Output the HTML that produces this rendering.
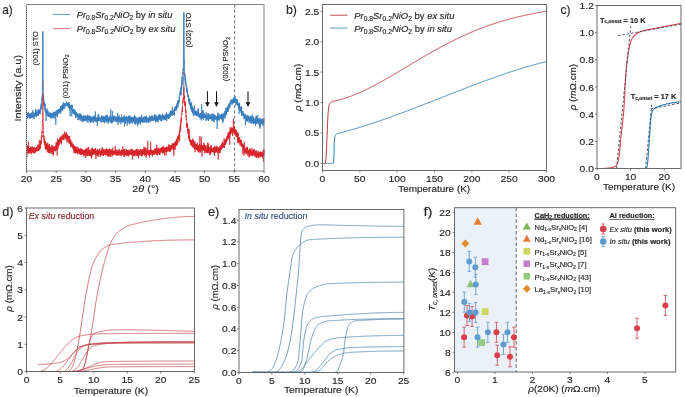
<!DOCTYPE html>
<html><head><meta charset="utf-8"><title>Figure</title>
<style>html,body{margin:0;padding:0;background:#fff;}body{width:685px;height:397px;overflow:hidden;}svg{display:block;filter:blur(0.3px);}
text{font-family:"Liberation Sans", sans-serif;stroke:#262626;stroke-width:0.15px;}</style></head>
<body>
<svg width="685" height="397" viewBox="0 0 685 397" font-family='"Liberation Sans", sans-serif' fill="#262626">
<rect width="685" height="397" fill="#fff"/>
<line x1="234.6" y1="4.5" x2="234.6" y2="171" stroke="#6e6e6e" stroke-width="1" stroke-dasharray="3 2.3"/>
<polyline points="26.5,116.1 26.6,116.6 26.6,115.6 26.7,114.5 26.8,115.3 26.9,114.4 26.9,116.1 27.0,118.3 27.1,114.3 27.2,118.4 27.2,116.9 27.3,116.6 27.4,116.2 27.5,114.4 27.5,116.0 27.6,117.2 27.7,113.7 27.8,115.2 27.8,112.8 27.9,113.8 28.0,112.9 28.1,115.6 28.1,113.8 28.2,116.4 28.3,116.2 28.4,115.7 28.4,111.7 28.5,115.0 28.6,115.9 28.7,116.1 28.7,113.3 28.8,115.1 28.9,114.3 28.9,114.6 29.0,117.7 29.1,114.6 29.2,115.9 29.2,117.4 29.3,114.9 29.4,115.7 29.5,116.1 29.5,116.0 29.6,113.8 29.7,116.0 29.8,118.2 29.8,113.2 29.9,117.3 30.0,116.1 30.1,114.8 30.1,119.2 30.2,117.1 30.3,113.8 30.4,116.0 30.4,116.8 30.5,115.5 30.6,117.0 30.7,115.7 30.7,116.9 30.8,118.2 30.9,114.6 31.0,116.1 31.0,115.0 31.1,116.0 31.2,113.7 31.3,114.8 31.3,115.4 31.4,117.2 31.5,117.7 31.5,113.5 31.6,114.3 31.7,116.8 31.8,112.3 31.8,114.9 31.9,115.5 32.0,117.8 32.1,116.8 32.1,115.1 32.2,115.0 32.3,115.2 32.4,118.2 32.4,114.9 32.5,115.1 32.6,116.2 32.7,115.3 32.7,115.2 32.8,110.1 32.9,115.5 33.0,114.7 33.0,117.5 33.1,116.6 33.2,115.4 33.3,116.6 33.3,114.9 33.4,117.2 33.5,115.4 33.6,116.4 33.6,113.2 33.7,115.9 33.8,112.5 33.8,111.9 33.9,114.8 34.0,113.8 34.1,115.6 34.1,119.1 34.2,113.8 34.3,114.2 34.4,115.5 34.4,116.0 34.5,114.9 34.6,114.8 34.7,116.3 34.7,116.0 34.8,113.3 34.9,114.9 35.0,115.1 35.0,113.2 35.1,115.4 35.2,113.5 35.3,116.6 35.3,115.2 35.4,115.0 35.5,112.1 35.6,108.7 35.6,111.4 35.7,112.8 35.8,115.3 35.9,111.1 35.9,116.1 36.0,111.7 36.1,115.9 36.2,115.1 36.2,115.9 36.3,114.7 36.4,111.8 36.4,116.5 36.5,116.8 36.6,114.2 36.7,113.8 36.7,114.0 36.8,112.6 36.9,116.0 37.0,113.2 37.0,114.0 37.1,109.6 37.2,112.9 37.3,111.8 37.3,116.0 37.4,113.6 37.5,115.4 37.6,113.7 37.6,112.5 37.7,113.0 37.8,112.6 37.9,113.5 37.9,112.7 38.0,112.8 38.1,110.9 38.2,110.7 38.2,115.9 38.3,111.9 38.4,111.2 38.5,113.4 38.5,115.2 38.6,110.2 38.7,112.2 38.7,111.4 38.8,109.4 38.9,113.6 39.0,112.2 39.0,112.2 39.1,110.7 39.2,112.7 39.3,110.9 39.3,111.4 39.4,109.6 39.5,109.3 39.6,113.5 39.6,110.3 39.7,111.5 39.8,111.1 39.9,109.9 39.9,109.7 40.0,111.4 40.1,109.7 40.2,114.4 40.2,109.9 40.3,111.7 40.4,110.6 40.5,109.9 40.5,108.1 40.6,106.4 40.7,110.2 40.8,109.9 40.8,107.8 40.9,108.7 41.0,108.8 41.1,108.5 41.1,108.3 41.2,103.7 41.3,108.6 41.3,103.4 41.4,106.5 41.5,105.4 41.6,105.4 41.6,106.5 41.7,105.1 41.8,99.8 41.9,97.9 41.9,101.1 42.0,96.6 42.1,96.8 42.2,96.4 42.2,89.8 42.3,86.0 42.4,86.2 42.5,80.5 42.5,72.7 42.6,63.0 42.7,48.4 42.8,34.5 42.8,31.5 42.9,36.9 43.0,49.0 43.1,65.4 43.1,74.1 43.2,82.0 43.3,84.7 43.4,89.0 43.4,91.3 43.5,93.7 43.6,99.2 43.6,97.3 43.7,100.5 43.8,101.5 43.9,105.3 43.9,100.3 44.0,104.9 44.1,103.9 44.2,104.6 44.2,102.7 44.3,104.9 44.4,107.4 44.5,106.4 44.5,107.0 44.6,106.7 44.7,109.5 44.8,107.8 44.8,104.4 44.9,107.2 45.0,105.3 45.1,103.4 45.1,108.2 45.2,111.6 45.3,109.7 45.4,107.8 45.4,108.4 45.5,112.1 45.6,110.6 45.7,110.6 45.7,110.6 45.8,110.9 45.9,112.3 46.0,112.1 46.0,121.1 46.1,109.6 46.2,112.4 46.2,110.5 46.3,113.1 46.4,109.8 46.5,111.8 46.5,112.1 46.6,113.2 46.7,115.3 46.8,114.9 46.8,111.8 46.9,114.0 47.0,113.4 47.1,108.4 47.1,113.4 47.2,112.9 47.3,113.2 47.4,111.3 47.4,112.8 47.5,113.0 47.6,115.4 47.7,114.0 47.7,113.5 47.8,116.2 47.9,112.7 48.0,113.1 48.0,110.7 48.1,116.5 48.2,115.5 48.3,115.5 48.3,115.1 48.4,114.2 48.5,114.5 48.5,113.7 48.6,113.9 48.7,114.3 48.8,116.9 48.8,115.3 48.9,114.3 49.0,113.4 49.1,113.4 49.1,117.2 49.2,115.4 49.3,114.7 49.4,114.0 49.4,112.7 49.5,114.5 49.6,116.2 49.7,114.0 49.7,114.3 49.8,114.4 49.9,115.0 50.0,112.1 50.0,114.4 50.1,113.4 50.2,116.4 50.3,113.6 50.3,115.9 50.4,117.5 50.5,114.4 50.6,113.9 50.6,115.3 50.7,115.0 50.8,113.3 50.9,115.8 50.9,118.5 51.0,114.6 51.1,114.7 51.1,113.3 51.2,115.6 51.3,113.0 51.4,113.2 51.4,117.3 51.5,113.5 51.6,116.9 51.7,117.7 51.7,115.5 51.8,116.0 51.9,118.4 52.0,114.8 52.0,114.1 52.1,112.8 52.2,115.2 52.3,117.6 52.3,116.7 52.4,113.5 52.5,113.6 52.6,114.2 52.6,115.6 52.7,114.7 52.8,115.4 52.9,115.5 52.9,114.5 53.0,114.9 53.1,115.4 53.2,114.8 53.2,115.8 53.3,118.1 53.4,116.0 53.4,115.0 53.5,112.0 53.6,115.6 53.7,111.6 53.7,112.5 53.8,116.3 53.9,116.0 54.0,114.5 54.0,111.9 54.1,114.1 54.2,113.6 54.3,115.8 54.3,118.5 54.4,115.0 54.5,113.3 54.6,112.6 54.6,114.5 54.7,114.2 54.8,112.5 54.9,114.7 54.9,112.5 55.0,116.3 55.1,116.2 55.2,116.2 55.2,113.5 55.3,115.1 55.4,114.0 55.5,113.5 55.5,113.5 55.6,111.9 55.7,111.6 55.8,124.8 55.8,113.6 55.9,114.3 56.0,115.6 56.0,110.9 56.1,112.4 56.2,114.0 56.3,114.3 56.3,113.0 56.4,115.3 56.5,113.9 56.6,111.4 56.6,111.8 56.7,114.7 56.8,114.1 56.9,110.0 56.9,115.5 57.0,114.2 57.1,115.4 57.2,112.4 57.2,112.5 57.3,111.0 57.4,117.1 57.5,112.5 57.5,115.4 57.6,111.5 57.7,112.9 57.8,109.7 57.8,111.8 57.9,114.1 58.0,110.2 58.1,114.1 58.1,112.7 58.2,110.3 58.3,111.2 58.3,111.2 58.4,111.8 58.5,110.9 58.6,110.3 58.6,111.2 58.7,109.9 58.8,109.3 58.9,111.4 58.9,112.9 59.0,108.7 59.1,111.2 59.2,110.0 59.2,109.4 59.3,112.4 59.4,110.0 59.5,113.4 59.5,109.4 59.6,111.3 59.7,110.2 59.8,109.2 59.8,111.4 59.9,110.1 60.0,111.3 60.1,110.1 60.1,108.3 60.2,109.8 60.3,110.0 60.4,111.5 60.4,108.2 60.5,109.6 60.6,106.3 60.7,110.6 60.7,107.6 60.8,106.3 60.9,113.7 60.9,111.1 61.0,106.5 61.1,107.2 61.2,107.7 61.2,106.9 61.3,109.4 61.4,107.3 61.5,107.4 61.5,109.5 61.6,107.2 61.7,109.1 61.8,106.6 61.8,106.2 61.9,105.0 62.0,111.2 62.1,107.4 62.1,108.3 62.2,107.8 62.3,108.0 62.4,107.8 62.4,110.8 62.5,105.7 62.6,104.8 62.7,105.6 62.7,105.0 62.8,108.5 62.9,108.5 63.0,105.4 63.0,104.6 63.1,106.2 63.2,109.2 63.2,102.0 63.3,107.6 63.4,104.8 63.5,108.4 63.5,104.7 63.6,106.0 63.7,103.9 63.8,104.7 63.8,108.7 63.9,107.7 64.0,105.5 64.1,104.7 64.1,102.9 64.2,105.4 64.3,105.9 64.4,105.8 64.4,105.7 64.5,103.9 64.6,105.7 64.7,105.7 64.7,107.9 64.8,108.8 64.9,105.4 65.0,104.3 65.0,105.4 65.1,104.5 65.2,104.2 65.3,105.4 65.3,103.7 65.4,104.3 65.5,105.2 65.6,105.8 65.6,105.0 65.7,104.1 65.8,103.7 65.8,104.9 65.9,104.3 66.0,105.6 66.1,105.2 66.1,102.9 66.2,105.3 66.3,102.9 66.4,104.1 66.4,104.7 66.5,101.6 66.6,105.3 66.7,105.4 66.7,104.9 66.8,104.5 66.9,104.6 67.0,103.5 67.0,104.7 67.1,104.3 67.2,105.4 67.3,103.2 67.3,105.7 67.4,105.5 67.5,105.1 67.6,104.6 67.6,106.3 67.7,102.5 67.8,106.2 67.9,105.8 67.9,105.9 68.0,106.1 68.1,104.4 68.1,105.1 68.2,106.7 68.3,106.4 68.4,106.0 68.4,103.1 68.5,106.7 68.6,107.8 68.7,107.6 68.7,106.3 68.8,103.3 68.9,107.6 69.0,105.8 69.0,101.8 69.1,106.8 69.2,103.7 69.3,104.1 69.3,105.2 69.4,108.6 69.5,105.8 69.6,107.0 69.6,109.6 69.7,109.4 69.8,106.5 69.9,106.4 69.9,104.7 70.0,105.7 70.1,116.3 70.2,107.7 70.2,109.1 70.3,108.9 70.4,106.0 70.5,107.3 70.5,108.7 70.6,108.5 70.7,109.4 70.7,108.4 70.8,107.3 70.9,108.5 71.0,106.2 71.0,105.2 71.1,109.1 71.2,108.1 71.3,108.8 71.3,105.5 71.4,107.8 71.5,107.5 71.6,107.2 71.6,104.9 71.7,116.3 71.8,110.4 71.9,105.2 71.9,108.1 72.0,109.2 72.1,110.6 72.2,104.7 72.2,109.3 72.3,110.5 72.4,110.8 72.5,112.6 72.5,111.8 72.6,110.5 72.7,110.6 72.8,111.5 72.8,109.3 72.9,111.8 73.0,112.0 73.0,113.8 73.1,110.3 73.2,110.6 73.3,111.1 73.3,113.2 73.4,110.9 73.5,113.6 73.6,109.5 73.6,111.0 73.7,111.0 73.8,112.8 73.9,113.3 73.9,109.1 74.0,110.2 74.1,112.4 74.2,110.8 74.2,109.4 74.3,113.9 74.4,113.1 74.5,113.2 74.5,111.6 74.6,114.4 74.7,114.0 74.8,114.5 74.8,111.2 74.9,111.4 75.0,113.3 75.1,110.0 75.1,114.3 75.2,113.6 75.3,111.7 75.4,113.5 75.4,112.9 75.5,115.1 75.6,117.7 75.6,113.0 75.7,115.9 75.8,117.7 75.9,117.4 75.9,114.1 76.0,114.5 76.1,116.8 76.2,114.1 76.2,112.7 76.3,114.6 76.4,115.3 76.5,114.0 76.5,111.9 76.6,112.3 76.7,115.9 76.8,113.6 76.8,114.7 76.9,115.4 77.0,116.1 77.1,114.6 77.1,116.1 77.2,113.8 77.3,114.7 77.4,113.7 77.4,117.4 77.5,115.5 77.6,114.4 77.7,115.1 77.7,115.4 77.8,117.0 77.9,113.2 77.9,114.2 78.0,115.3 78.1,120.3 78.2,117.7 78.2,116.0 78.3,117.4 78.4,119.8 78.5,115.9 78.5,115.7 78.6,118.5 78.7,117.3 78.8,117.7 78.8,115.7 78.9,119.9 79.0,119.6 79.1,117.7 79.1,117.9 79.2,113.4 79.3,117.9 79.4,116.6 79.4,117.7 79.5,118.1 79.6,116.5 79.7,114.2 79.7,117.7 79.8,115.9 79.9,116.6 80.0,116.2 80.0,116.7 80.1,113.4 80.2,119.4 80.3,117.8 80.3,119.3 80.4,120.8 80.5,117.5 80.5,114.5 80.6,116.0 80.7,115.5 80.8,116.8 80.8,117.8 80.9,114.3 81.0,118.3 81.1,115.2 81.1,118.3 81.2,117.6 81.3,117.3 81.4,117.7 81.4,117.0 81.5,116.9 81.6,115.1 81.7,117.9 81.7,121.1 81.8,121.4 81.9,120.3 82.0,119.2 82.0,116.9 82.1,120.5 82.2,118.0 82.3,118.0 82.3,117.7 82.4,118.3 82.5,117.5 82.6,118.1 82.6,116.4 82.7,117.6 82.8,122.1 82.8,118.2 82.9,117.9 83.0,119.2 83.1,119.5 83.1,116.5 83.2,118.0 83.3,119.9 83.4,118.9 83.4,118.6 83.5,121.1 83.6,117.3 83.7,118.6 83.7,116.4 83.8,121.0 83.9,115.2 84.0,117.4 84.0,117.6 84.1,119.7 84.2,119.6 84.3,120.9 84.3,115.9 84.4,119.8 84.5,118.1 84.6,117.5 84.6,119.5 84.7,117.0 84.8,119.1 84.9,118.0 84.9,117.7 85.0,117.5 85.1,119.3 85.2,119.2 85.2,121.4 85.3,118.3 85.4,116.1 85.4,117.4 85.5,117.1 85.6,116.6 85.7,119.5 85.7,117.6 85.8,115.4 85.9,119.9 86.0,117.8 86.0,119.4 86.1,118.9 86.2,119.8 86.3,118.8 86.3,120.9 86.4,119.5 86.5,119.5 86.6,119.5 86.6,116.3 86.7,118.5 86.8,118.4 86.9,119.8 86.9,116.5 87.0,121.6 87.1,119.0 87.2,116.8 87.2,115.9 87.3,118.4 87.4,118.7 87.5,117.6 87.5,119.0 87.6,114.6 87.7,119.8 87.7,117.6 87.8,118.8 87.9,120.5 88.0,123.2 88.0,115.9 88.1,118.1 88.2,117.5 88.3,120.2 88.3,119.0 88.4,118.1 88.5,118.8 88.6,117.2 88.6,117.3 88.7,118.1 88.8,115.3 88.9,116.4 88.9,118.2 89.0,116.8 89.1,118.6 89.2,115.9 89.2,118.1 89.3,120.3 89.4,119.9 89.5,118.8 89.5,117.4 89.6,120.0 89.7,117.9 89.8,116.9 89.8,117.6 89.9,121.4 90.0,119.3 90.1,120.9 90.1,118.1 90.2,120.5 90.3,117.9 90.3,116.6 90.4,123.2 90.5,120.3 90.6,118.1 90.6,118.8 90.7,119.5 90.8,121.0 90.9,118.1 90.9,116.0 91.0,118.5 91.1,119.0 91.2,119.2 91.2,121.2 91.3,119.5 91.4,120.4 91.5,117.1 91.5,120.5 91.6,122.5 91.7,120.3 91.8,119.4 91.8,119.2 91.9,122.0 92.0,117.4 92.1,118.8 92.1,119.8 92.2,120.3 92.3,118.1 92.4,119.5 92.4,118.5 92.5,119.2 92.6,118.8 92.6,117.1 92.7,119.0 92.8,120.5 92.9,117.4 92.9,118.6 93.0,120.1 93.1,115.7 93.2,119.3 93.2,117.2 93.3,120.9 93.4,123.0 93.5,122.5 93.5,118.7 93.6,120.3 93.7,119.2 93.8,119.2 93.8,121.7 93.9,116.8 94.0,120.8 94.1,118.9 94.1,121.4 94.2,119.4 94.3,117.9 94.4,119.5 94.4,117.3 94.5,119.1 94.6,119.9 94.7,118.2 94.7,115.4 94.8,120.6 94.9,120.2 95.0,119.3 95.0,119.2 95.1,120.8 95.2,118.3 95.2,117.9 95.3,118.7 95.4,111.4 95.5,116.7 95.5,121.1 95.6,118.0 95.7,117.2 95.8,121.2 95.8,118.9 95.9,116.9 96.0,118.5 96.1,120.6 96.1,122.2 96.2,118.3 96.3,119.8 96.4,120.3 96.4,118.0 96.5,119.7 96.6,119.0 96.7,118.2 96.7,118.2 96.8,119.2 96.9,119.1 97.0,118.1 97.0,118.4 97.1,121.0 97.2,119.7 97.3,120.6 97.3,126.1 97.4,120.1 97.5,122.9 97.5,117.7 97.6,120.5 97.7,118.6 97.8,122.2 97.8,122.0 97.9,114.5 98.0,117.4 98.1,120.2 98.1,120.4 98.2,120.4 98.3,119.0 98.4,119.9 98.4,120.2 98.5,119.0 98.6,120.9 98.7,114.2 98.7,120.2 98.8,117.3 98.9,120.7 99.0,118.7 99.0,117.6 99.1,119.7 99.2,117.0 99.3,117.6 99.3,116.5 99.4,119.1 99.5,120.0 99.6,120.9 99.6,118.9 99.7,120.9 99.8,119.2 99.9,119.0 99.9,120.1 100.0,120.9 100.1,118.5 100.1,118.7 100.2,118.9 100.3,119.3 100.4,117.6 100.4,120.9 100.5,118.4 100.6,119.9 100.7,117.7 100.7,119.7 100.8,119.8 100.9,118.4 101.0,122.6 101.0,119.8 101.1,122.2 101.2,120.8 101.3,118.0 101.3,118.5 101.4,119.9 101.5,119.2 101.6,119.2 101.6,118.7 101.7,116.1 101.8,118.8 101.9,115.4 101.9,119.8 102.0,117.9 102.1,117.9 102.2,118.8 102.2,119.6 102.3,116.7 102.4,116.2 102.4,117.3 102.5,117.0 102.6,117.5 102.7,121.9 102.7,117.4 102.8,120.3 102.9,116.8 103.0,119.7 103.0,118.6 103.1,119.1 103.2,120.1 103.3,122.2 103.3,119.5 103.4,119.4 103.5,117.5 103.6,120.2 103.6,118.8 103.7,120.6 103.8,119.1 103.9,122.1 103.9,115.8 104.0,118.7 104.1,120.7 104.2,118.6 104.2,117.8 104.3,118.7 104.4,116.8 104.5,119.4 104.5,123.3 104.6,121.1 104.7,117.3 104.8,117.7 104.8,118.5 104.9,120.9 105.0,117.8 105.0,118.0 105.1,120.7 105.2,120.7 105.3,118.6 105.3,117.3 105.4,116.6 105.5,118.0 105.6,115.4 105.6,120.5 105.7,118.1 105.8,120.0 105.9,122.4 105.9,121.2 106.0,117.2 106.1,120.7 106.2,121.2 106.2,117.9 106.3,117.6 106.4,119.0 106.5,116.5 106.5,121.7 106.6,115.1 106.7,117.3 106.8,118.7 106.8,118.8 106.9,119.5 107.0,119.7 107.1,118.8 107.1,121.1 107.2,115.4 107.3,119.2 107.3,118.0 107.4,119.4 107.5,119.6 107.6,114.8 107.6,118.1 107.7,120.6 107.8,119.8 107.9,118.1 107.9,122.7 108.0,123.1 108.1,116.7 108.2,119.7 108.2,123.5 108.3,120.6 108.4,119.6 108.5,118.9 108.5,118.3 108.6,118.9 108.7,118.3 108.8,120.5 108.8,118.6 108.9,118.5 109.0,117.2 109.1,119.1 109.1,117.7 109.2,118.9 109.3,121.0 109.4,119.9 109.4,120.1 109.5,119.8 109.6,119.3 109.7,119.0 109.7,118.7 109.8,120.5 109.9,117.4 109.9,121.5 110.0,115.9 110.1,118.0 110.2,118.4 110.2,118.1 110.3,119.5 110.4,118.0 110.5,122.5 110.5,117.9 110.6,115.4 110.7,118.0 110.8,109.4 110.8,121.5 110.9,121.1 111.0,120.4 111.1,117.0 111.1,118.0 111.2,122.3 111.3,119.8 111.4,119.3 111.4,121.1 111.5,123.4 111.6,121.5 111.7,119.5 111.7,119.9 111.8,120.3 111.9,118.2 112.0,117.5 112.0,119.4 112.1,116.5 112.2,119.2 112.2,119.4 112.3,123.2 112.4,110.9 112.5,119.1 112.5,120.3 112.6,120.0 112.7,121.1 112.8,118.4 112.8,117.9 112.9,116.5 113.0,117.7 113.1,120.2 113.1,119.4 113.2,117.6 113.3,118.6 113.4,119.3 113.4,120.1 113.5,118.3 113.6,118.9 113.7,116.2 113.7,117.3 113.8,122.0 113.9,115.6 114.0,118.7 114.0,119.7 114.1,118.7 114.2,117.9 114.3,119.2 114.3,119.3 114.4,119.2 114.5,116.1 114.6,119.0 114.6,117.8 114.7,118.4 114.8,119.7 114.8,120.4 114.9,120.8 115.0,118.5 115.1,120.9 115.1,121.3 115.2,121.2 115.3,121.7 115.4,119.1 115.4,119.0 115.5,120.7 115.6,117.0 115.7,119.7 115.7,118.4 115.8,117.4 115.9,116.4 116.0,117.8 116.0,119.3 116.1,120.8 116.2,121.0 116.3,119.2 116.3,119.0 116.4,117.9 116.5,120.0 116.6,118.9 116.6,120.4 116.7,122.3 116.8,119.3 116.9,116.8 116.9,117.9 117.0,116.8 117.1,119.2 117.1,121.5 117.2,119.7 117.3,116.7 117.4,120.4 117.4,121.5 117.5,118.7 117.6,118.2 117.7,113.0 117.7,119.8 117.8,120.4 117.9,125.1 118.0,121.4 118.0,121.4 118.1,121.7 118.2,120.5 118.3,116.7 118.3,119.1 118.4,119.9 118.5,118.7 118.6,120.9 118.6,118.7 118.7,117.8 118.8,121.8 118.9,120.5 118.9,119.7 119.0,120.9 119.1,121.2 119.2,119.9 119.2,115.2 119.3,118.2 119.4,118.6 119.5,117.7 119.5,119.7 119.6,121.4 119.7,118.5 119.7,117.4 119.8,122.8 119.9,118.6 120.0,117.3 120.0,119.8 120.1,120.1 120.2,118.2 120.3,120.7 120.3,118.5 120.4,117.8 120.5,119.7 120.6,120.7 120.6,118.3 120.7,119.9 120.8,119.2 120.9,124.2 120.9,118.2 121.0,121.7 121.1,119.3 121.2,119.2 121.2,120.6 121.3,120.9 121.4,121.5 121.5,120.0 121.5,114.4 121.6,118.5 121.7,120.3 121.8,120.4 121.8,121.8 121.9,120.1 122.0,121.2 122.0,122.0 122.1,119.7 122.2,116.9 122.3,117.4 122.3,117.0 122.4,122.1 122.5,118.0 122.6,121.5 122.6,120.4 122.7,122.3 122.8,121.1 122.9,119.2 122.9,119.1 123.0,119.6 123.1,119.7 123.2,118.5 123.2,119.4 123.3,122.2 123.4,116.5 123.5,119.9 123.5,117.9 123.6,119.7 123.7,120.9 123.8,119.3 123.8,120.7 123.9,116.7 124.0,121.3 124.1,118.4 124.1,120.5 124.2,119.7 124.3,115.0 124.4,118.2 124.4,117.3 124.5,126.5 124.6,119.9 124.6,119.9 124.7,117.0 124.8,121.9 124.9,122.5 124.9,119.5 125.0,119.1 125.1,116.7 125.2,121.0 125.2,124.0 125.3,120.7 125.4,121.6 125.5,120.4 125.5,117.8 125.6,121.7 125.7,117.4 125.8,119.1 125.8,119.9 125.9,121.0 126.0,120.2 126.1,120.1 126.1,118.2 126.2,117.3 126.3,119.6 126.4,118.3 126.4,117.2 126.5,117.3 126.6,118.6 126.7,116.3 126.7,117.2 126.8,116.7 126.9,119.8 126.9,120.2 127.0,122.9 127.1,116.9 127.2,118.3 127.2,125.5 127.3,119.1 127.4,118.9 127.5,122.4 127.5,118.9 127.6,117.5 127.7,117.2 127.8,120.1 127.8,120.0 127.9,117.2 128.0,117.8 128.1,120.4 128.1,120.5 128.2,118.4 128.3,120.6 128.4,120.5 128.4,116.5 128.5,119.0 128.6,120.2 128.7,118.5 128.7,115.9 128.8,119.0 128.9,119.2 129.0,122.2 129.0,115.8 129.1,123.9 129.2,117.6 129.3,121.1 129.3,121.6 129.4,121.2 129.5,119.8 129.5,117.5 129.6,120.6 129.7,118.3 129.8,115.2 129.8,124.3 129.9,120.7 130.0,122.6 130.1,118.0 130.1,122.0 130.2,122.2 130.3,122.2 130.4,119.5 130.4,117.5 130.5,119.2 130.6,119.3 130.7,116.6 130.7,119.7 130.8,117.8 130.9,119.2 131.0,119.3 131.0,122.8 131.1,121.7 131.2,119.5 131.3,121.6 131.3,118.2 131.4,119.0 131.5,121.1 131.6,117.4 131.6,119.1 131.7,117.3 131.8,119.7 131.8,122.3 131.9,118.3 132.0,119.9 132.1,118.0 132.1,117.6 132.2,117.4 132.3,122.0 132.4,123.6 132.4,120.4 132.5,118.3 132.6,120.7 132.7,119.0 132.7,120.9 132.8,120.0 132.9,120.0 133.0,120.6 133.0,118.6 133.1,118.9 133.2,116.6 133.3,118.8 133.3,117.1 133.4,119.3 133.5,117.9 133.6,119.7 133.6,120.3 133.7,117.1 133.8,118.2 133.9,117.9 133.9,120.8 134.0,122.5 134.1,121.0 134.2,119.0 134.2,122.0 134.3,117.0 134.4,122.1 134.4,118.4 134.5,114.8 134.6,124.1 134.7,122.2 134.7,117.8 134.8,119.8 134.9,119.2 135.0,119.7 135.0,118.0 135.1,118.4 135.2,120.2 135.3,119.9 135.3,121.6 135.4,119.7 135.5,123.6 135.6,118.3 135.6,124.5 135.7,116.3 135.8,117.4 135.9,121.8 135.9,118.0 136.0,120.5 136.1,119.5 136.2,117.8 136.2,119.0 136.3,118.7 136.4,118.7 136.5,120.8 136.5,120.7 136.6,118.6 136.7,118.0 136.7,120.0 136.8,119.4 136.9,121.3 137.0,124.1 137.0,121.0 137.1,119.5 137.2,119.3 137.3,118.1 137.3,118.0 137.4,117.9 137.5,118.9 137.6,118.8 137.6,126.3 137.7,118.9 137.8,119.2 137.9,117.5 137.9,122.4 138.0,120.4 138.1,122.6 138.2,120.9 138.2,122.1 138.3,119.1 138.4,120.8 138.5,124.2 138.5,117.5 138.6,121.6 138.7,122.4 138.8,120.3 138.8,120.9 138.9,121.7 139.0,118.4 139.1,120.3 139.1,118.0 139.2,118.4 139.3,118.5 139.3,119.3 139.4,119.8 139.5,120.3 139.6,117.1 139.6,123.0 139.7,121.6 139.8,120.8 139.9,118.9 139.9,119.4 140.0,120.5 140.1,120.3 140.2,116.6 140.2,120.8 140.3,124.6 140.4,122.7 140.5,121.3 140.5,120.2 140.6,119.3 140.7,121.9 140.8,117.5 140.8,119.8 140.9,122.1 141.0,119.2 141.1,118.8 141.1,119.7 141.2,118.8 141.3,122.2 141.4,118.0 141.4,121.1 141.5,117.3 141.6,120.7 141.6,119.3 141.7,115.0 141.8,119.5 141.9,117.7 141.9,118.8 142.0,122.2 142.1,117.6 142.2,117.7 142.2,122.0 142.3,119.7 142.4,122.2 142.5,120.1 142.5,118.0 142.6,119.4 142.7,121.7 142.8,121.2 142.8,119.5 142.9,119.6 143.0,119.3 143.1,118.5 143.1,122.9 143.2,119.5 143.3,117.5 143.4,118.7 143.4,120.8 143.5,120.6 143.6,119.3 143.7,118.3 143.7,119.5 143.8,116.6 143.9,117.2 144.0,120.9 144.0,118.7 144.1,120.1 144.2,121.6 144.2,120.6 144.3,119.5 144.4,122.8 144.5,120.6 144.5,118.9 144.6,120.8 144.7,120.2 144.8,118.0 144.8,119.6 144.9,119.2 145.0,116.0 145.1,119.2 145.1,119.0 145.2,118.7 145.3,116.6 145.4,118.8 145.4,119.4 145.5,119.6 145.6,117.5 145.7,120.6 145.7,117.3 145.8,122.0 145.9,121.7 146.0,118.2 146.0,118.5 146.1,121.3 146.2,123.2 146.3,118.9 146.3,119.8 146.4,121.3 146.5,115.6 146.5,118.0 146.6,117.6 146.7,117.5 146.8,117.9 146.8,117.9 146.9,119.9 147.0,117.8 147.1,119.6 147.1,120.1 147.2,118.1 147.3,119.6 147.4,122.2 147.4,119.9 147.5,118.3 147.6,119.2 147.7,117.8 147.7,119.8 147.8,120.8 147.9,117.9 148.0,119.0 148.0,121.3 148.1,118.5 148.2,119.6 148.3,117.5 148.3,117.9 148.4,118.4 148.5,123.0 148.6,118.6 148.6,120.3 148.7,118.3 148.8,119.0 148.9,120.4 148.9,119.6 149.0,122.8 149.1,119.6 149.1,121.7 149.2,119.7 149.3,120.3 149.4,116.8 149.4,119.0 149.5,119.1 149.6,118.8 149.7,115.5 149.7,120.7 149.8,118.5 149.9,118.4 150.0,118.7 150.0,118.8 150.1,119.9 150.2,117.0 150.3,117.6 150.3,119.6 150.4,119.4 150.5,118.5 150.6,118.1 150.6,117.7 150.7,119.0 150.8,121.1 150.9,117.3 150.9,121.7 151.0,120.5 151.1,118.3 151.2,120.4 151.2,116.6 151.3,116.1 151.4,116.8 151.4,118.3 151.5,118.5 151.6,118.1 151.7,119.2 151.7,115.4 151.8,119.8 151.9,116.6 152.0,117.8 152.0,118.3 152.1,117.0 152.2,117.8 152.3,117.2 152.3,118.9 152.4,119.9 152.5,119.9 152.6,117.2 152.6,117.5 152.7,117.3 152.8,119.6 152.9,115.4 152.9,121.0 153.0,118.0 153.1,117.5 153.2,119.4 153.2,120.6 153.3,119.4 153.4,120.6 153.5,119.0 153.5,120.9 153.6,120.9 153.7,118.6 153.8,121.2 153.8,119.0 153.9,118.9 154.0,117.2 154.0,118.2 154.1,120.0 154.2,116.5 154.3,119.8 154.3,119.3 154.4,119.1 154.5,114.0 154.6,117.2 154.6,119.7 154.7,117.3 154.8,118.8 154.9,114.6 154.9,119.7 155.0,117.4 155.1,120.0 155.2,115.4 155.2,119.7 155.3,118.1 155.4,119.9 155.5,116.9 155.5,117.4 155.6,122.3 155.7,117.1 155.8,117.3 155.8,118.0 155.9,116.7 156.0,120.5 156.1,121.4 156.1,117.2 156.2,115.5 156.3,120.4 156.3,120.3 156.4,119.8 156.5,120.3 156.6,116.9 156.6,118.0 156.7,116.0 156.8,115.9 156.9,120.0 156.9,117.1 157.0,122.1 157.1,118.4 157.2,117.2 157.2,119.6 157.3,121.3 157.4,119.0 157.5,116.1 157.5,118.8 157.6,120.5 157.7,117.3 157.8,116.8 157.8,119.9 157.9,118.4 158.0,116.2 158.1,117.4 158.1,116.8 158.2,122.3 158.3,118.2 158.4,120.0 158.4,119.2 158.5,115.3 158.6,118.7 158.7,119.5 158.7,118.7 158.8,119.7 158.9,117.0 158.9,116.3 159.0,119.5 159.1,116.1 159.2,114.2 159.2,119.6 159.3,116.6 159.4,117.3 159.5,115.5 159.5,115.6 159.6,115.8 159.7,117.2 159.8,118.4 159.8,113.9 159.9,119.0 160.0,115.7 160.1,115.9 160.1,118.9 160.2,117.6 160.3,115.1 160.4,120.8 160.4,116.2 160.5,118.0 160.6,117.9 160.7,120.0 160.7,116.8 160.8,119.3 160.9,116.3 161.0,119.4 161.0,116.2 161.1,116.9 161.2,120.7 161.2,118.0 161.3,117.6 161.4,121.3 161.5,118.0 161.5,116.0 161.6,118.6 161.7,115.4 161.8,119.3 161.8,119.4 161.9,117.0 162.0,116.2 162.1,117.6 162.1,117.3 162.2,115.6 162.3,118.2 162.4,113.8 162.4,116.5 162.5,116.5 162.6,116.7 162.7,117.7 162.7,115.1 162.8,118.1 162.9,116.8 163.0,120.6 163.0,114.7 163.1,115.0 163.2,117.6 163.3,115.4 163.3,117.1 163.4,118.8 163.5,118.7 163.6,119.6 163.6,116.4 163.7,115.1 163.8,118.6 163.8,117.4 163.9,118.8 164.0,118.3 164.1,118.8 164.1,118.2 164.2,118.0 164.3,117.6 164.4,117.4 164.4,119.1 164.5,117.1 164.6,118.4 164.7,115.8 164.7,119.6 164.8,116.4 164.9,117.8 165.0,116.4 165.0,116.1 165.1,120.0 165.2,116.0 165.3,114.3 165.3,115.3 165.4,115.9 165.5,120.1 165.6,116.8 165.6,118.0 165.7,114.7 165.8,116.9 165.9,117.5 165.9,119.4 166.0,115.1 166.1,117.3 166.1,116.7 166.2,114.5 166.3,119.5 166.4,115.7 166.4,112.2 166.5,117.1 166.6,117.0 166.7,115.3 166.7,113.8 166.8,121.0 166.9,116.4 167.0,117.7 167.0,118.3 167.1,115.0 167.2,117.6 167.3,115.4 167.3,115.7 167.4,115.7 167.5,115.8 167.6,117.6 167.6,115.9 167.7,115.4 167.8,115.2 167.9,116.2 167.9,114.1 168.0,114.7 168.1,115.5 168.2,115.5 168.2,115.3 168.3,114.4 168.4,118.8 168.5,117.7 168.5,116.1 168.6,115.2 168.7,119.0 168.7,115.8 168.8,118.1 168.9,115.7 169.0,115.7 169.0,117.5 169.1,115.1 169.2,118.6 169.3,113.5 169.3,116.2 169.4,113.3 169.5,118.0 169.6,114.3 169.6,114.8 169.7,116.4 169.8,116.9 169.9,112.9 169.9,114.1 170.0,112.3 170.1,114.9 170.2,114.4 170.2,114.0 170.3,113.4 170.4,113.8 170.5,113.2 170.5,110.6 170.6,116.9 170.7,111.0 170.8,114.1 170.8,113.5 170.9,115.0 171.0,112.5 171.0,113.8 171.1,112.3 171.2,115.2 171.3,114.1 171.3,113.6 171.4,114.5 171.5,111.2 171.6,111.1 171.6,114.7 171.7,114.1 171.8,113.3 171.9,115.2 171.9,115.1 172.0,111.5 172.1,112.0 172.2,115.9 172.2,111.8 172.3,106.6 172.4,111.1 172.5,111.9 172.5,112.1 172.6,110.2 172.7,112.9 172.8,110.6 172.8,110.6 172.9,114.2 173.0,111.4 173.1,112.4 173.1,113.5 173.2,113.7 173.3,111.7 173.4,112.3 173.4,110.7 173.5,115.0 173.6,113.1 173.6,110.0 173.7,111.8 173.8,112.9 173.9,112.5 173.9,114.7 174.0,113.8 174.1,110.5 174.2,111.1 174.2,109.0 174.3,111.5 174.4,111.3 174.5,115.5 174.5,111.0 174.6,107.1 174.7,109.5 174.8,110.7 174.8,108.3 174.9,108.8 175.0,109.5 175.1,110.6 175.1,109.7 175.2,110.8 175.3,111.0 175.4,108.7 175.4,108.6 175.5,107.0 175.6,107.9 175.7,110.2 175.7,106.2 175.8,108.7 175.9,109.9 175.9,107.9 176.0,108.8 176.1,106.3 176.2,110.3 176.2,109.8 176.3,108.2 176.4,104.6 176.5,105.7 176.5,109.0 176.6,110.1 176.7,107.5 176.8,108.9 176.8,105.6 176.9,106.1 177.0,106.3 177.1,106.8 177.1,103.3 177.2,107.3 177.3,107.7 177.4,103.3 177.4,102.8 177.5,105.5 177.6,103.5 177.7,100.4 177.7,105.6 177.8,104.2 177.9,102.9 178.0,107.1 178.0,103.5 178.1,101.7 178.2,102.9 178.3,100.7 178.3,101.0 178.4,102.6 178.5,100.8 178.5,100.7 178.6,104.0 178.7,102.3 178.8,101.9 178.8,101.2 178.9,100.8 179.0,102.1 179.1,99.3 179.1,102.2 179.2,97.1 179.3,97.9 179.4,95.7 179.4,97.1 179.5,98.2 179.6,99.4 179.7,95.5 179.7,96.2 179.8,95.2 179.9,94.2 180.0,93.1 180.0,94.8 180.1,91.3 180.2,94.1 180.3,93.5 180.3,91.9 180.4,90.9 180.5,89.8 180.6,94.9 180.6,89.0 180.7,93.5 180.8,91.5 180.8,89.4 180.9,87.5 181.0,90.8 181.1,95.4 181.1,86.5 181.2,87.1 181.3,88.9 181.4,87.2 181.4,89.6 181.5,84.7 181.6,86.1 181.7,82.5 181.7,87.7 181.8,82.4 181.9,79.4 182.0,76.5 182.0,81.8 182.1,84.8 182.2,80.4 182.3,80.4 182.3,80.8 182.4,81.9 182.5,78.5 182.6,79.7 182.6,78.1 182.7,75.9 182.8,75.7 182.9,74.7 182.9,72.0 183.0,74.4 183.1,68.4 183.2,71.0 183.2,68.3 183.3,63.6 183.4,58.7 183.4,54.7 183.5,49.2 183.6,35.4 183.7,30.2 183.7,21.3 183.8,12.6 183.9,15.2 184.0,20.0 184.0,34.4 184.1,43.1 184.2,50.1 184.3,58.8 184.3,62.5 184.4,60.0 184.5,67.5 184.6,67.1 184.6,73.1 184.7,76.9 184.8,73.0 184.9,75.0 184.9,75.4 185.0,77.2 185.1,78.5 185.2,79.7 185.2,77.1 185.3,82.0 185.4,78.4 185.5,81.0 185.5,83.1 185.6,82.9 185.7,80.6 185.7,81.5 185.8,82.4 185.9,83.6 186.0,86.2 186.0,82.6 186.1,86.0 186.2,86.8 186.3,87.2 186.3,87.5 186.4,89.8 186.5,88.5 186.6,89.6 186.6,89.6 186.7,92.1 186.8,86.3 186.9,92.2 186.9,90.0 187.0,90.4 187.1,89.7 187.2,88.6 187.2,91.6 187.3,91.5 187.4,93.9 187.5,91.0 187.5,96.3 187.6,94.7 187.7,94.3 187.8,94.5 187.8,94.1 187.9,93.9 188.0,95.3 188.1,96.6 188.1,96.6 188.2,94.9 188.3,97.2 188.3,96.4 188.4,98.6 188.5,101.8 188.6,100.0 188.6,98.7 188.7,96.8 188.8,97.5 188.9,97.3 188.9,101.7 189.0,99.5 189.1,101.2 189.2,98.7 189.2,101.8 189.3,104.3 189.4,101.0 189.5,101.8 189.5,101.3 189.6,104.4 189.7,101.4 189.8,99.0 189.8,101.2 189.9,101.4 190.0,104.9 190.1,103.3 190.1,102.8 190.2,106.3 190.3,105.3 190.4,103.2 190.4,104.8 190.5,105.1 190.6,104.5 190.6,109.2 190.7,102.8 190.8,106.9 190.9,107.0 190.9,105.6 191.0,107.0 191.1,108.4 191.2,107.4 191.2,108.0 191.3,108.6 191.4,104.1 191.5,110.8 191.5,111.7 191.6,102.3 191.7,109.9 191.8,105.9 191.8,108.2 191.9,107.2 192.0,107.7 192.1,110.5 192.1,107.6 192.2,108.9 192.3,106.0 192.4,109.1 192.4,109.6 192.5,108.4 192.6,108.4 192.7,113.0 192.7,107.8 192.8,108.2 192.9,108.7 193.0,112.2 193.0,113.9 193.1,111.0 193.2,109.3 193.2,109.9 193.3,112.5 193.4,115.8 193.5,113.4 193.5,113.4 193.6,111.2 193.7,112.2 193.8,112.5 193.8,107.9 193.9,109.6 194.0,113.1 194.1,110.9 194.1,110.3 194.2,111.9 194.3,111.4 194.4,110.2 194.4,109.2 194.5,105.5 194.6,114.6 194.7,115.5 194.7,113.3 194.8,114.3 194.9,111.5 195.0,112.3 195.0,113.0 195.1,110.7 195.2,110.9 195.3,112.8 195.3,112.2 195.4,111.0 195.5,113.5 195.5,112.5 195.6,114.7 195.7,113.0 195.8,112.6 195.8,113.3 195.9,112.9 196.0,112.1 196.1,112.6 196.1,114.6 196.2,114.5 196.3,115.6 196.4,110.6 196.4,112.9 196.5,112.9 196.6,113.9 196.7,112.9 196.7,112.8 196.8,115.1 196.9,114.1 197.0,111.9 197.0,116.2 197.1,115.6 197.2,113.0 197.3,115.4 197.3,112.8 197.4,116.0 197.5,113.8 197.6,112.8 197.6,113.6 197.7,113.0 197.8,114.6 197.9,114.6 197.9,114.4 198.0,113.5 198.1,108.2 198.1,114.6 198.2,111.3 198.3,115.0 198.4,116.5 198.4,115.1 198.5,109.4 198.6,114.4 198.7,114.5 198.7,113.8 198.8,113.8 198.9,113.2 199.0,116.8 199.0,114.8 199.1,116.5 199.2,114.5 199.3,115.1 199.3,114.7 199.4,115.8 199.5,116.4 199.6,115.5 199.6,113.9 199.7,113.8 199.8,118.0 199.9,114.7 199.9,114.2 200.0,117.7 200.1,117.1 200.2,116.2 200.2,114.6 200.3,119.3 200.4,116.0 200.4,116.3 200.5,115.1 200.6,113.0 200.7,113.2 200.7,116.1 200.8,116.1 200.9,115.1 201.0,113.5 201.0,113.1 201.1,115.0 201.2,113.1 201.3,117.1 201.3,117.6 201.4,120.5 201.5,117.2 201.6,114.7 201.6,104.2 201.7,109.9 201.8,114.7 201.9,115.5 201.9,117.4 202.0,116.9 202.1,116.8 202.2,116.2 202.2,117.0 202.3,118.3 202.4,114.1 202.5,115.1 202.5,113.6 202.6,118.7 202.7,118.2 202.8,117.3 202.8,114.0 202.9,110.2 203.0,115.6 203.0,110.4 203.1,115.8 203.2,117.0 203.3,115.4 203.3,117.6 203.4,116.6 203.5,120.1 203.6,116.0 203.6,115.4 203.7,117.6 203.8,115.8 203.9,116.7 203.9,115.6 204.0,113.7 204.1,117.8 204.2,114.5 204.2,117.5 204.3,117.0 204.4,113.5 204.5,114.8 204.5,115.5 204.6,115.0 204.7,114.4 204.8,117.7 204.8,116.0 204.9,117.1 205.0,115.7 205.1,117.0 205.1,115.2 205.2,115.4 205.3,117.5 205.3,116.6 205.4,115.8 205.5,114.7 205.6,116.8 205.6,117.2 205.7,116.1 205.8,115.3 205.9,117.5 205.9,120.8 206.0,116.1 206.1,117.2 206.2,117.3 206.2,112.3 206.3,116.9 206.4,115.5 206.5,119.1 206.5,116.3 206.6,115.4 206.7,116.4 206.8,117.0 206.8,115.8 206.9,116.7 207.0,114.5 207.1,116.4 207.1,118.1 207.2,120.2 207.3,118.0 207.4,117.3 207.4,118.9 207.5,118.6 207.6,119.7 207.7,118.7 207.7,116.7 207.8,117.3 207.9,117.2 207.9,117.4 208.0,117.3 208.1,115.6 208.2,113.4 208.2,115.8 208.3,113.5 208.4,121.1 208.5,117.0 208.5,114.1 208.6,118.2 208.7,118.5 208.8,117.2 208.8,119.9 208.9,120.2 209.0,115.0 209.1,118.8 209.1,117.8 209.2,117.8 209.3,118.7 209.4,115.9 209.4,116.1 209.5,115.3 209.6,115.8 209.7,115.1 209.7,114.7 209.8,115.4 209.9,118.1 210.0,117.0 210.0,117.8 210.1,114.0 210.2,115.9 210.2,116.2 210.3,116.9 210.4,116.2 210.5,118.8 210.5,117.1 210.6,117.3 210.7,117.3 210.8,118.5 210.8,117.4 210.9,119.2 211.0,118.1 211.1,117.5 211.1,117.4 211.2,118.2 211.3,119.0 211.4,118.9 211.4,118.0 211.5,118.8 211.6,117.5 211.7,119.5 211.7,117.3 211.8,113.8 211.9,120.7 212.0,117.5 212.0,115.4 212.1,117.0 212.2,115.9 212.3,121.0 212.3,120.4 212.4,114.7 212.5,118.3 212.6,116.7 212.6,120.7 212.7,115.6 212.8,113.6 212.8,117.6 212.9,116.9 213.0,116.7 213.1,113.8 213.1,118.2 213.2,120.3 213.3,114.2 213.4,119.5 213.4,116.5 213.5,121.5 213.6,118.2 213.7,117.2 213.7,119.4 213.8,118.4 213.9,116.5 214.0,118.7 214.0,116.7 214.1,114.5 214.2,121.0 214.3,122.1 214.3,116.5 214.4,118.1 214.5,114.9 214.6,115.3 214.6,116.7 214.7,116.7 214.8,117.7 214.9,119.5 214.9,116.8 215.0,118.4 215.1,118.6 215.1,115.8 215.2,118.0 215.3,116.0 215.4,119.4 215.4,118.4 215.5,117.6 215.6,115.3 215.7,117.8 215.7,116.3 215.8,118.8 215.9,117.4 216.0,116.2 216.0,119.2 216.1,118.9 216.2,116.6 216.3,119.6 216.3,117.1 216.4,117.1 216.5,117.8 216.6,116.4 216.6,116.9 216.7,117.4 216.8,120.2 216.9,120.2 216.9,117.2 217.0,120.4 217.1,117.6 217.2,118.3 217.2,129.0 217.3,118.1 217.4,121.7 217.5,118.0 217.5,115.6 217.6,119.8 217.7,116.9 217.7,117.1 217.8,112.5 217.9,119.3 218.0,119.0 218.0,118.9 218.1,119.2 218.2,120.4 218.3,117.5 218.3,119.1 218.4,116.3 218.5,116.9 218.6,119.3 218.6,118.2 218.7,113.3 218.8,118.1 218.9,117.2 218.9,116.1 219.0,118.2 219.1,116.8 219.2,114.8 219.2,115.5 219.3,120.4 219.4,114.8 219.5,117.8 219.5,118.4 219.6,118.4 219.7,115.3 219.8,114.9 219.8,117.5 219.9,118.6 220.0,116.2 220.0,115.3 220.1,118.9 220.2,119.1 220.3,117.8 220.3,116.1 220.4,117.8 220.5,117.3 220.6,118.5 220.6,114.9 220.7,117.2 220.8,116.7 220.9,115.1 220.9,117.3 221.0,117.0 221.1,116.2 221.2,117.5 221.2,114.4 221.3,116.7 221.4,117.5 221.5,117.2 221.5,118.5 221.6,114.6 221.7,114.0 221.8,117.0 221.8,117.3 221.9,120.1 222.0,117.5 222.1,114.9 222.1,117.7 222.2,114.8 222.3,113.7 222.4,120.6 222.4,116.7 222.5,117.3 222.6,117.0 222.6,119.1 222.7,116.4 222.8,123.1 222.9,114.1 222.9,113.4 223.0,118.1 223.1,116.4 223.2,121.4 223.2,115.9 223.3,116.5 223.4,114.2 223.5,117.9 223.5,116.3 223.6,116.0 223.7,115.7 223.8,116.8 223.8,115.8 223.9,116.1 224.0,112.8 224.1,115.5 224.1,118.3 224.2,113.6 224.3,114.2 224.4,115.9 224.4,115.9 224.5,115.2 224.6,111.3 224.7,114.8 224.7,111.9 224.8,112.4 224.9,114.6 224.9,113.1 225.0,114.9 225.1,118.7 225.2,114.6 225.2,114.4 225.3,115.4 225.4,111.9 225.5,111.1 225.5,111.9 225.6,110.8 225.7,111.4 225.8,112.1 225.8,107.8 225.9,109.8 226.0,109.8 226.1,112.7 226.1,111.9 226.2,113.5 226.3,113.4 226.4,110.9 226.4,112.5 226.5,108.8 226.6,115.0 226.7,113.0 226.7,110.5 226.8,108.7 226.9,111.2 227.0,107.2 227.0,109.0 227.1,111.4 227.2,110.2 227.3,109.1 227.3,111.4 227.4,107.8 227.5,110.0 227.5,108.5 227.6,107.7 227.7,109.8 227.8,107.2 227.8,112.0 227.9,107.6 228.0,111.9 228.1,106.5 228.1,109.2 228.2,106.0 228.3,105.6 228.4,108.0 228.4,108.8 228.5,105.3 228.6,109.3 228.7,105.8 228.7,107.2 228.8,107.5 228.9,107.7 229.0,103.5 229.0,109.2 229.1,107.3 229.2,105.4 229.3,104.3 229.3,103.0 229.4,103.4 229.5,106.5 229.6,104.9 229.6,103.4 229.7,104.3 229.8,107.7 229.8,104.3 229.9,103.7 230.0,106.9 230.1,105.2 230.1,104.4 230.2,103.2 230.3,101.4 230.4,101.9 230.4,103.0 230.5,103.3 230.6,104.1 230.7,104.3 230.7,103.7 230.8,103.5 230.9,101.3 231.0,99.3 231.0,101.9 231.1,101.1 231.2,101.5 231.3,102.0 231.3,100.2 231.4,100.4 231.5,102.0 231.6,102.2 231.6,100.8 231.7,102.7 231.8,101.4 231.9,99.9 231.9,101.6 232.0,104.7 232.1,100.2 232.2,103.3 232.2,103.5 232.3,103.7 232.4,99.7 232.4,104.4 232.5,101.1 232.6,100.4 232.7,100.4 232.7,101.7 232.8,100.7 232.9,100.3 233.0,102.7 233.0,99.3 233.1,98.7 233.2,101.7 233.3,101.5 233.3,102.2 233.4,98.5 233.5,102.1 233.6,101.0 233.6,103.2 233.7,98.0 233.8,100.5 233.9,99.7 233.9,97.4 234.0,98.9 234.1,102.0 234.2,97.7 234.2,98.9 234.3,101.6 234.4,101.8 234.5,101.8 234.5,98.8 234.6,100.1 234.7,101.9 234.7,99.1 234.8,99.0 234.9,101.7 235.0,102.9 235.0,98.4 235.1,95.9 235.2,97.9 235.3,98.7 235.3,100.3 235.4,101.6 235.5,100.4 235.6,99.5 235.6,101.0 235.7,99.2 235.8,100.8 235.9,99.8 235.9,105.6 236.0,102.5 236.1,99.7 236.2,99.5 236.2,100.6 236.3,98.6 236.4,100.3 236.5,100.3 236.5,103.2 236.6,101.1 236.7,100.5 236.8,99.7 236.8,100.1 236.9,102.1 237.0,102.0 237.1,104.4 237.1,101.5 237.2,104.5 237.3,103.2 237.3,102.9 237.4,99.6 237.5,101.3 237.6,104.5 237.6,105.8 237.7,103.9 237.8,105.0 237.9,103.1 237.9,103.3 238.0,102.9 238.1,105.9 238.2,104.9 238.2,104.1 238.3,104.1 238.4,105.0 238.5,105.5 238.5,103.7 238.6,108.1 238.7,105.8 238.8,105.5 238.8,108.2 238.9,107.6 239.0,105.8 239.1,113.9 239.1,104.5 239.2,105.3 239.3,102.7 239.4,108.8 239.4,103.7 239.5,108.2 239.6,105.8 239.6,105.7 239.7,107.2 239.8,108.1 239.9,108.9 239.9,111.0 240.0,108.8 240.1,109.8 240.2,107.5 240.2,109.8 240.3,109.0 240.4,108.2 240.5,108.9 240.5,110.3 240.6,109.7 240.7,110.2 240.8,108.9 240.8,108.6 240.9,111.3 241.0,107.3 241.1,109.3 241.1,113.1 241.2,106.0 241.3,109.6 241.4,112.1 241.4,108.3 241.5,115.6 241.6,107.0 241.7,114.0 241.7,114.3 241.8,113.4 241.9,111.6 242.0,112.7 242.0,115.7 242.1,113.7 242.2,110.6 242.2,112.2 242.3,114.5 242.4,111.0 242.5,112.4 242.5,113.5 242.6,111.0 242.7,115.4 242.8,114.1 242.8,111.1 242.9,113.7 243.0,112.6 243.1,112.9 243.1,114.3 243.2,113.1 243.3,116.1 243.4,113.3 243.4,116.3 243.5,114.7 243.6,116.3 243.7,114.1 243.7,114.2 243.8,113.2 243.9,116.3 244.0,117.0 244.0,119.1 244.1,117.8 244.2,116.1 244.3,115.5 244.3,116.6 244.4,116.0 244.5,118.6 244.5,117.8 244.6,114.9 244.7,115.2 244.8,118.8 244.8,117.1 244.9,116.3 245.0,118.7 245.1,116.2 245.1,116.4 245.2,116.2 245.3,113.7 245.4,118.6 245.4,125.3 245.5,116.3 245.6,116.1 245.7,118.7 245.7,117.4 245.8,117.6 245.9,114.8 246.0,117.6 246.0,115.3 246.1,118.4 246.2,118.5 246.3,117.9 246.3,121.5 246.4,119.0 246.5,119.2 246.6,118.4 246.6,117.9 246.7,119.9 246.8,120.2 246.9,116.2 246.9,120.3 247.0,119.4 247.1,120.2 247.1,119.4 247.2,116.5 247.3,116.7 247.4,121.8 247.4,117.9 247.5,116.4 247.6,119.5 247.7,118.3 247.7,115.8 247.8,115.1 247.9,116.3 248.0,119.5 248.0,119.0 248.1,118.7 248.2,119.7 248.3,120.2 248.3,115.7 248.4,118.8 248.5,117.9 248.6,117.2 248.6,118.4 248.7,119.2 248.8,119.0 248.9,117.0 248.9,118.7 249.0,122.9 249.1,117.7 249.2,116.7 249.2,120.1 249.3,120.6 249.4,120.4 249.4,117.8 249.5,121.4 249.6,118.4 249.7,117.8 249.7,118.7 249.8,119.6 249.9,116.2 250.0,120.9 250.0,119.8 250.1,121.4 250.2,120.0 250.3,121.4 250.3,117.5 250.4,117.2 250.5,121.2 250.6,117.6 250.6,119.4 250.7,119.8 250.8,119.2 250.9,119.2 250.9,122.4 251.0,115.7 251.1,121.5 251.2,124.0 251.2,120.1 251.3,120.0 251.4,121.3 251.5,123.2 251.5,118.1 251.6,120.3 251.7,119.8 251.8,121.1 251.8,120.4 251.9,121.3 252.0,119.5 252.0,120.3 252.1,116.7 252.2,119.1 252.3,116.7 252.3,120.0 252.4,114.4 252.5,122.9 252.6,120.0 252.6,118.8 252.7,122.1 252.8,119.0 252.9,121.1 252.9,120.3 253.0,120.7 253.1,120.6 253.2,119.3 253.2,120.4 253.3,123.8 253.4,116.5 253.5,120.4 253.5,121.1 253.6,118.6 253.7,118.0 253.8,124.0 253.8,119.7 253.9,123.9 254.0,121.3 254.1,120.5 254.1,121.2 254.2,121.5 254.3,122.4 254.3,121.1 254.4,120.7 254.5,120.7 254.6,122.7 254.6,121.8 254.7,118.7 254.8,119.4 254.9,121.0 254.9,119.4 255.0,119.8 255.1,118.8 255.2,120.0 255.2,121.2 255.3,122.2 255.4,120.5 255.5,124.0 255.5,120.4 255.6,125.9 255.7,122.2 255.8,121.3 255.8,119.6 255.9,115.7 256.0,120.2 256.1,120.8 256.1,123.8 256.2,118.2 256.3,123.8 256.4,120.1 256.4,121.8 256.5,116.2 256.6,120.8 256.7,120.0 256.7,121.7 256.8,120.7 256.9,118.6 256.9,122.2 257.0,121.7 257.1,121.6 257.2,122.3 257.2,122.4 257.3,120.5 257.4,118.3 257.5,118.2 257.5,122.9 257.6,121.8 257.7,114.9 257.8,119.9 257.8,120.7 257.9,120.6 258.0,120.0 258.1,123.1 258.1,124.3 258.2,121.0 258.3,119.6 258.4,118.4 258.4,119.4 258.5,121.9 258.6,121.9 258.7,122.1 258.7,120.7 258.8,120.1 258.9,118.8 259.0,122.9 259.0,121.3 259.1,124.9 259.2,119.4 259.2,120.4 259.3,122.2 259.4,120.3 259.5,118.3 259.5,119.1 259.6,120.9 259.7,121.3 259.8,120.5 259.8,128.7 259.9,122.4 260.0,121.3 260.1,120.8 260.1,120.3 260.2,121.6 260.3,127.3 260.4,120.8 260.4,121.5 260.5,120.2 260.6,118.3 260.7,119.0 260.7,122.0 260.8,121.5 260.9,123.4 261.0,120.8 261.0,122.2 261.1,124.4 261.2,122.4 261.3,119.7 261.3,120.4 261.4,121.0 261.5,119.1 261.6,121.6 261.6,122.5 261.7,120.0 261.8,124.1 261.8,120.3 261.9,120.4 262.0,119.8 262.1,119.6 262.1,121.5 262.2,120.8 262.3,123.6 262.4,121.8 262.4,121.7 262.5,120.4 262.6,118.4 262.7,120.7 262.7,119.4 262.8,122.4 262.9,120.8 263.0,126.0 263.0,122.1 263.1,122.3 263.2,121.2 263.3,121.2 263.3,122.0 263.4,122.4 263.5,119.6 263.6,121.7 263.6,125.3 263.7,120.7 263.8,120.4 263.9,119.7 263.9,118.4 264.0,122.9" fill="none" stroke="#3a7ebf" stroke-width="0.75" stroke-linejoin="round"/>
<polyline points="26.5,147.6 26.6,148.2 26.6,153.4 26.7,149.4 26.8,157.0 26.9,150.3 26.9,150.3 27.0,150.7 27.1,149.4 27.2,150.1 27.2,148.7 27.3,149.9 27.4,149.1 27.5,150.4 27.5,147.4 27.6,145.3 27.7,150.8 27.8,150.3 27.8,148.2 27.9,149.5 28.0,148.0 28.1,153.6 28.1,147.1 28.2,153.0 28.3,148.4 28.4,150.7 28.4,149.5 28.5,141.6 28.6,151.6 28.7,146.2 28.7,149.4 28.8,148.3 28.9,153.6 28.9,148.7 29.0,150.2 29.1,149.4 29.2,150.4 29.2,150.1 29.3,152.1 29.4,148.2 29.5,149.9 29.5,148.5 29.6,152.3 29.7,153.1 29.8,149.7 29.8,150.9 29.9,152.4 30.0,149.4 30.1,148.2 30.1,151.8 30.2,150.8 30.3,149.5 30.4,152.5 30.4,150.3 30.5,146.7 30.6,150.5 30.7,149.8 30.7,153.3 30.8,149.8 30.9,149.5 31.0,150.6 31.0,150.3 31.1,147.3 31.2,150.1 31.3,149.3 31.3,152.4 31.4,154.2 31.5,151.2 31.5,151.0 31.6,148.3 31.7,148.6 31.8,148.6 31.8,149.9 31.9,151.8 32.0,147.5 32.1,147.0 32.1,146.5 32.2,151.8 32.3,152.2 32.4,150.8 32.4,146.8 32.5,149.8 32.6,151.7 32.7,151.6 32.7,150.1 32.8,151.0 32.9,150.3 33.0,148.8 33.0,153.2 33.1,149.7 33.2,147.7 33.3,148.9 33.3,146.9 33.4,149.7 33.5,151.7 33.6,147.4 33.6,151.7 33.7,153.4 33.8,150.4 33.8,147.6 33.9,148.1 34.0,149.0 34.1,147.3 34.1,147.4 34.2,149.2 34.3,149.3 34.4,150.7 34.4,147.4 34.5,153.0 34.6,151.5 34.7,151.2 34.7,148.4 34.8,152.7 34.9,148.9 35.0,152.8 35.0,151.4 35.1,147.9 35.2,148.7 35.3,152.8 35.3,151.3 35.4,148.3 35.5,149.8 35.6,149.8 35.6,148.0 35.7,148.1 35.8,148.2 35.9,148.6 35.9,150.2 36.0,147.6 36.1,150.6 36.2,149.5 36.2,150.6 36.3,150.8 36.4,151.4 36.4,150.3 36.5,150.4 36.6,148.8 36.7,150.1 36.7,147.4 36.8,148.6 36.9,150.4 37.0,148.9 37.0,149.8 37.1,147.0 37.2,151.4 37.3,147.8 37.3,149.5 37.4,148.7 37.5,150.4 37.6,148.0 37.6,146.9 37.7,145.2 37.8,146.8 37.9,146.4 37.9,148.4 38.0,151.0 38.1,144.4 38.2,146.0 38.2,148.8 38.3,150.4 38.4,148.7 38.5,148.7 38.5,148.9 38.6,149.0 38.7,150.9 38.7,148.9 38.8,145.5 38.9,146.8 39.0,147.9 39.0,146.0 39.1,146.9 39.2,146.3 39.3,140.2 39.3,144.3 39.4,146.2 39.5,144.8 39.6,145.4 39.6,146.6 39.7,150.2 39.8,146.7 39.9,148.8 39.9,146.9 40.0,144.6 40.1,146.3 40.2,143.9 40.2,142.8 40.3,143.1 40.4,148.0 40.5,141.7 40.5,143.2 40.6,146.1 40.7,145.0 40.8,140.4 40.8,142.9 40.9,141.9 41.0,142.1 41.1,143.5 41.1,140.7 41.2,140.7 41.3,143.5 41.3,137.1 41.4,139.2 41.5,140.3 41.6,136.6 41.6,137.1 41.7,135.3 41.8,137.2 41.9,135.1 41.9,136.8 42.0,131.3 42.1,133.5 42.2,131.5 42.2,131.1 42.3,128.8 42.4,124.0 42.5,124.7 42.5,118.3 42.6,112.6 42.7,100.1 42.8,95.6 42.8,94.3 42.9,96.1 43.0,101.2 43.1,112.3 43.1,117.2 43.2,123.7 43.3,126.1 43.4,129.9 43.4,132.9 43.5,132.8 43.6,132.3 43.6,134.8 43.7,136.5 43.8,135.5 43.9,138.3 43.9,136.2 44.0,137.7 44.1,138.6 44.2,141.8 44.2,138.7 44.3,142.7 44.4,138.3 44.5,141.1 44.5,143.5 44.6,143.5 44.7,140.8 44.8,140.7 44.8,144.9 44.9,141.3 45.0,144.9 45.1,143.2 45.1,144.4 45.2,148.9 45.3,147.7 45.4,146.7 45.4,142.8 45.5,146.1 45.6,141.5 45.7,145.7 45.7,148.5 45.8,148.8 45.9,147.0 46.0,146.8 46.0,145.3 46.1,150.0 46.2,144.7 46.2,147.1 46.3,147.3 46.4,143.3 46.5,144.8 46.5,145.8 46.6,149.1 46.7,149.4 46.8,148.9 46.8,148.3 46.9,144.0 47.0,148.4 47.1,147.2 47.1,150.3 47.2,150.7 47.3,152.4 47.4,149.7 47.4,149.9 47.5,146.6 47.6,148.7 47.7,142.7 47.7,150.3 47.8,146.5 47.9,148.4 48.0,147.3 48.0,148.0 48.1,149.7 48.2,147.9 48.3,149.4 48.3,147.2 48.4,151.6 48.5,147.9 48.5,150.9 48.6,153.0 48.7,144.7 48.8,147.4 48.8,145.9 48.9,151.4 49.0,148.4 49.1,150.0 49.1,148.0 49.2,150.5 49.3,147.1 49.4,150.9 49.4,143.9 49.5,146.0 49.6,152.7 49.7,149.8 49.7,147.8 49.8,153.5 49.9,151.4 50.0,151.6 50.0,148.7 50.1,150.7 50.2,150.5 50.3,146.5 50.3,150.6 50.4,149.2 50.5,151.9 50.6,152.0 50.6,148.4 50.7,148.5 50.8,149.9 50.9,150.8 50.9,148.8 51.0,147.7 51.1,153.7 51.1,150.4 51.2,151.7 51.3,150.0 51.4,148.0 51.4,146.3 51.5,151.1 51.6,149.0 51.7,148.9 51.7,149.0 51.8,146.7 51.9,148.8 52.0,144.8 52.0,148.8 52.1,147.9 52.2,152.9 52.3,150.3 52.3,149.1 52.4,149.8 52.5,150.8 52.6,148.0 52.6,149.0 52.7,148.8 52.8,154.0 52.9,149.5 52.9,145.7 53.0,150.8 53.1,154.1 53.2,147.5 53.2,155.7 53.3,149.1 53.4,151.1 53.4,148.1 53.5,148.6 53.6,146.8 53.7,147.1 53.7,148.7 53.8,151.1 53.9,146.9 54.0,149.6 54.0,149.5 54.1,147.7 54.2,148.9 54.3,148.6 54.3,147.8 54.4,148.8 54.5,148.8 54.6,146.7 54.6,146.2 54.7,146.9 54.8,148.7 54.9,151.0 54.9,151.1 55.0,148.9 55.1,150.0 55.2,148.4 55.2,149.8 55.3,148.3 55.4,148.7 55.5,147.4 55.5,147.9 55.6,151.3 55.7,145.5 55.8,147.7 55.8,146.5 55.9,149.3 56.0,150.8 56.0,146.8 56.1,142.2 56.2,148.4 56.3,148.3 56.3,150.3 56.4,146.5 56.5,146.8 56.6,142.5 56.6,148.0 56.7,147.5 56.8,147.0 56.9,144.5 56.9,145.0 57.0,145.1 57.1,147.1 57.2,144.2 57.2,155.6 57.3,146.6 57.4,141.7 57.5,148.8 57.5,145.8 57.6,138.7 57.7,145.5 57.8,141.8 57.8,145.5 57.9,140.4 58.0,149.0 58.1,147.3 58.1,147.0 58.2,143.9 58.3,142.6 58.3,146.0 58.4,144.1 58.5,144.5 58.6,145.1 58.6,141.8 58.7,145.2 58.8,139.6 58.9,146.2 58.9,140.4 59.0,142.0 59.1,141.8 59.2,144.3 59.2,144.2 59.3,143.3 59.4,143.5 59.5,143.3 59.5,142.1 59.6,138.6 59.7,137.7 59.8,137.6 59.8,141.6 59.9,141.2 60.0,141.2 60.1,141.8 60.1,140.8 60.2,139.2 60.3,138.1 60.4,137.2 60.4,142.9 60.5,142.2 60.6,137.9 60.7,142.0 60.7,141.0 60.8,143.0 60.9,138.7 60.9,140.1 61.0,141.8 61.1,136.2 61.2,138.0 61.2,139.2 61.3,137.7 61.4,142.9 61.5,140.5 61.5,144.4 61.6,136.8 61.7,140.1 61.8,139.6 61.8,137.3 61.9,137.3 62.0,135.3 62.1,137.8 62.1,139.4 62.2,139.6 62.3,138.7 62.4,139.0 62.4,136.3 62.5,136.4 62.6,139.5 62.7,137.9 62.7,135.5 62.8,137.9 62.9,138.4 63.0,138.1 63.0,136.9 63.1,135.6 63.2,137.3 63.2,139.6 63.3,136.6 63.4,135.5 63.5,136.9 63.5,133.8 63.6,136.5 63.7,135.5 63.8,137.8 63.8,136.1 63.9,137.8 64.0,140.1 64.1,135.4 64.1,134.2 64.2,136.6 64.3,135.5 64.4,135.9 64.4,134.5 64.5,136.6 64.6,135.7 64.7,131.5 64.7,135.1 64.8,136.2 64.9,137.7 65.0,134.4 65.0,134.0 65.1,137.7 65.2,134.4 65.3,135.7 65.3,136.4 65.4,137.0 65.5,135.6 65.6,133.5 65.6,137.5 65.7,134.9 65.8,134.7 65.8,139.5 65.9,137.4 66.0,133.8 66.1,135.0 66.1,135.5 66.2,134.6 66.3,132.4 66.4,137.6 66.4,137.6 66.5,136.7 66.6,135.5 66.7,138.7 66.7,134.9 66.8,134.5 66.9,136.0 67.0,135.6 67.0,140.3 67.1,142.5 67.2,134.5 67.3,135.9 67.3,140.4 67.4,135.4 67.5,137.6 67.6,136.2 67.6,136.7 67.7,137.5 67.8,136.9 67.9,135.6 67.9,137.5 68.0,139.6 68.1,139.4 68.1,135.8 68.2,141.3 68.3,138.1 68.4,136.7 68.4,139.0 68.5,137.7 68.6,137.9 68.7,138.0 68.7,139.1 68.8,138.5 68.9,136.4 69.0,143.3 69.0,138.8 69.1,142.2 69.2,141.1 69.3,141.4 69.3,140.7 69.4,142.9 69.5,140.0 69.6,138.9 69.6,141.6 69.7,136.0 69.8,140.5 69.9,141.7 69.9,140.7 70.0,144.0 70.1,143.1 70.2,142.1 70.2,141.3 70.3,144.2 70.4,141.1 70.5,141.7 70.5,144.0 70.6,143.9 70.7,146.7 70.7,142.6 70.8,139.7 70.9,144.5 71.0,145.8 71.0,143.3 71.1,146.6 71.2,147.2 71.3,142.8 71.3,143.2 71.4,141.9 71.5,145.4 71.6,145.9 71.6,145.8 71.7,142.5 71.8,143.5 71.9,142.4 71.9,142.2 72.0,142.8 72.1,142.5 72.2,147.0 72.2,146.5 72.3,147.0 72.4,145.9 72.5,144.8 72.5,146.1 72.6,147.3 72.7,145.8 72.8,146.6 72.8,146.1 72.9,145.4 73.0,146.9 73.0,144.9 73.1,149.0 73.2,144.3 73.3,148.1 73.3,144.8 73.4,150.3 73.5,147.2 73.6,146.2 73.6,146.9 73.7,145.8 73.8,147.8 73.9,148.8 73.9,152.9 74.0,145.7 74.1,150.6 74.2,147.3 74.2,149.0 74.3,145.8 74.4,149.6 74.5,149.5 74.5,148.4 74.6,148.9 74.7,149.2 74.8,151.2 74.8,146.4 74.9,148.3 75.0,153.2 75.1,147.5 75.1,147.9 75.2,151.5 75.3,153.5 75.4,152.1 75.4,147.4 75.5,149.8 75.6,147.6 75.6,150.6 75.7,152.2 75.8,151.0 75.9,151.6 75.9,149.8 76.0,146.4 76.1,146.5 76.2,150.0 76.2,151.3 76.3,152.6 76.4,149.7 76.5,150.5 76.5,150.9 76.6,152.4 76.7,150.4 76.8,148.5 76.8,152.6 76.9,151.4 77.0,151.4 77.1,148.3 77.1,146.9 77.2,147.6 77.3,147.1 77.4,150.4 77.4,150.0 77.5,151.9 77.6,154.0 77.7,150.9 77.7,154.3 77.8,149.9 77.9,152.4 77.9,148.7 78.0,151.3 78.1,150.5 78.2,150.7 78.2,152.2 78.3,147.7 78.4,151.4 78.5,151.0 78.5,151.4 78.6,152.0 78.7,150.6 78.8,150.6 78.8,149.2 78.9,152.3 79.0,150.1 79.1,152.2 79.1,148.7 79.2,153.9 79.3,149.5 79.4,153.6 79.4,150.6 79.5,152.5 79.6,151.2 79.7,152.7 79.7,151.5 79.8,153.7 79.9,152.8 80.0,152.8 80.0,154.6 80.1,150.3 80.2,154.0 80.3,151.7 80.3,148.9 80.4,152.5 80.5,151.2 80.5,154.7 80.6,150.7 80.7,151.7 80.8,152.1 80.8,148.1 80.9,152.6 81.0,149.8 81.1,154.3 81.1,154.8 81.2,151.7 81.3,148.8 81.4,152.0 81.4,152.0 81.5,153.0 81.6,151.2 81.7,149.5 81.7,151.5 81.8,150.0 81.9,155.0 82.0,150.4 82.0,150.6 82.1,151.7 82.2,149.5 82.3,150.9 82.3,151.5 82.4,150.9 82.5,151.3 82.6,154.1 82.6,152.6 82.7,149.3 82.8,151.0 82.8,153.2 82.9,150.6 83.0,152.0 83.1,151.8 83.1,152.8 83.2,151.5 83.3,151.6 83.4,150.2 83.4,152.5 83.5,150.1 83.6,155.0 83.7,151.8 83.7,151.4 83.8,156.5 83.9,151.7 84.0,152.0 84.0,151.8 84.1,150.5 84.2,150.2 84.3,150.6 84.3,154.0 84.4,150.7 84.5,151.1 84.6,151.1 84.6,153.2 84.7,155.5 84.8,150.2 84.9,152.9 84.9,152.1 85.0,151.3 85.1,152.8 85.2,149.6 85.2,153.4 85.3,152.3 85.4,150.1 85.4,154.8 85.5,153.5 85.6,154.1 85.7,149.2 85.7,158.0 85.8,151.0 85.9,153.1 86.0,154.4 86.0,148.4 86.1,152.0 86.2,151.7 86.3,153.8 86.3,151.9 86.4,149.6 86.5,154.1 86.6,150.0 86.6,150.5 86.7,152.0 86.8,151.1 86.9,152.5 86.9,149.2 87.0,156.2 87.1,152.7 87.2,153.3 87.2,147.6 87.3,148.0 87.4,150.4 87.5,151.5 87.5,156.1 87.6,154.4 87.7,151.0 87.7,154.2 87.8,154.2 87.9,152.0 88.0,154.2 88.0,151.9 88.1,150.8 88.2,149.8 88.3,151.8 88.3,153.8 88.4,149.5 88.5,149.0 88.6,153.0 88.6,147.0 88.7,155.3 88.8,151.2 88.9,153.3 88.9,155.4 89.0,149.3 89.1,150.1 89.2,156.1 89.2,151.5 89.3,151.8 89.4,152.4 89.5,153.9 89.5,154.4 89.6,152.2 89.7,151.4 89.8,151.9 89.8,152.6 89.9,154.4 90.0,152.3 90.1,155.4 90.1,150.4 90.2,153.0 90.3,155.3 90.3,154.4 90.4,152.6 90.5,150.4 90.6,150.7 90.6,151.7 90.7,152.6 90.8,151.6 90.9,156.7 90.9,150.7 91.0,153.0 91.1,153.6 91.2,149.5 91.2,148.5 91.3,149.0 91.4,151.0 91.5,158.6 91.5,152.2 91.6,151.4 91.7,151.0 91.8,149.8 91.8,148.6 91.9,156.8 92.0,151.5 92.1,154.8 92.1,149.0 92.2,152.9 92.3,154.5 92.4,148.5 92.4,147.6 92.5,154.5 92.6,151.4 92.6,154.8 92.7,152.1 92.8,152.6 92.9,150.8 92.9,152.6 93.0,154.2 93.1,151.7 93.2,151.8 93.2,152.8 93.3,153.6 93.4,149.1 93.5,152.2 93.5,153.3 93.6,153.0 93.7,154.0 93.8,152.7 93.8,154.5 93.9,150.3 94.0,151.3 94.1,150.3 94.1,149.8 94.2,152.3 94.3,151.7 94.4,149.9 94.4,152.0 94.5,151.3 94.6,153.2 94.7,151.6 94.7,154.2 94.8,152.5 94.9,148.7 95.0,151.8 95.0,149.5 95.1,153.9 95.2,154.8 95.2,152.1 95.3,153.3 95.4,149.5 95.5,148.0 95.5,151.1 95.6,151.6 95.7,149.3 95.8,152.3 95.8,152.7 95.9,159.1 96.0,155.0 96.1,153.6 96.1,151.5 96.2,152.3 96.3,153.2 96.4,150.2 96.4,154.6 96.5,153.8 96.6,151.7 96.7,151.0 96.7,153.0 96.8,153.7 96.9,153.9 97.0,155.5 97.0,154.0 97.1,152.5 97.2,153.4 97.3,150.5 97.3,153.5 97.4,149.3 97.5,152.9 97.5,153.2 97.6,149.3 97.7,155.7 97.8,150.0 97.8,154.1 97.9,151.2 98.0,154.5 98.1,151.0 98.1,156.8 98.2,154.1 98.3,155.5 98.4,153.6 98.4,153.5 98.5,152.5 98.6,151.7 98.7,153.3 98.7,152.5 98.8,151.9 98.9,149.7 99.0,151.6 99.0,153.8 99.1,151.3 99.2,152.8 99.3,151.9 99.3,150.3 99.4,150.5 99.5,150.8 99.6,151.7 99.6,151.7 99.7,154.3 99.8,150.2 99.9,148.5 99.9,153.5 100.0,151.4 100.1,152.0 100.1,156.9 100.2,154.9 100.3,153.3 100.4,154.0 100.4,152.5 100.5,154.0 100.6,151.1 100.7,150.9 100.7,151.4 100.8,155.2 100.9,155.1 101.0,150.6 101.0,154.4 101.1,152.0 101.2,154.2 101.3,151.7 101.3,154.0 101.4,152.1 101.5,151.7 101.6,152.2 101.6,152.6 101.7,151.2 101.8,149.7 101.9,155.4 101.9,151.5 102.0,148.9 102.1,148.1 102.2,147.1 102.2,151.1 102.3,154.8 102.4,149.3 102.4,151.7 102.5,148.9 102.6,154.3 102.7,153.0 102.7,152.9 102.8,154.8 102.9,155.3 103.0,154.2 103.0,151.2 103.1,149.8 103.2,150.4 103.3,149.1 103.3,155.6 103.4,151.9 103.5,152.5 103.6,152.7 103.6,156.0 103.7,151.3 103.8,154.5 103.9,152.9 103.9,152.0 104.0,148.8 104.1,154.0 104.2,150.9 104.2,151.5 104.3,152.7 104.4,152.5 104.5,154.4 104.5,151.1 104.6,152.6 104.7,152.8 104.8,152.4 104.8,153.6 104.9,151.9 105.0,154.6 105.0,151.0 105.1,149.7 105.2,154.3 105.3,154.5 105.3,151.4 105.4,151.2 105.5,151.7 105.6,152.6 105.6,152.0 105.7,152.9 105.8,149.2 105.9,155.1 105.9,153.4 106.0,150.7 106.1,154.9 106.2,153.2 106.2,155.1 106.3,150.2 106.4,155.4 106.5,152.4 106.5,148.5 106.6,153.7 106.7,151.8 106.8,150.5 106.8,152.0 106.9,148.8 107.0,153.4 107.1,152.0 107.1,151.9 107.2,155.0 107.3,152.4 107.3,154.2 107.4,150.6 107.5,152.2 107.6,154.3 107.6,151.3 107.7,150.4 107.8,156.4 107.9,152.5 107.9,152.3 108.0,156.2 108.1,150.1 108.2,152.7 108.2,149.1 108.3,151.8 108.4,153.5 108.5,154.5 108.5,150.0 108.6,153.9 108.7,151.9 108.8,152.1 108.8,156.9 108.9,152.4 109.0,150.7 109.1,153.2 109.1,148.9 109.2,155.3 109.3,154.2 109.4,151.6 109.4,155.8 109.5,153.4 109.6,156.0 109.7,151.2 109.7,150.0 109.8,148.6 109.9,151.8 109.9,149.5 110.0,152.1 110.1,153.2 110.2,151.6 110.2,150.6 110.3,154.6 110.4,152.0 110.5,152.8 110.5,154.2 110.6,150.0 110.7,150.7 110.8,157.0 110.8,152.1 110.9,150.5 111.0,151.9 111.1,151.3 111.1,150.1 111.2,151.6 111.3,152.4 111.4,152.4 111.4,153.4 111.5,149.2 111.6,149.6 111.7,153.9 111.7,151.6 111.8,154.7 111.9,152.4 112.0,149.8 112.0,153.4 112.1,150.5 112.2,152.9 112.2,154.7 112.3,156.3 112.4,152.3 112.5,153.7 112.5,153.0 112.6,153.9 112.7,147.7 112.8,151.7 112.8,153.0 112.9,153.3 113.0,151.0 113.1,154.0 113.1,154.5 113.2,152.6 113.3,152.0 113.4,151.8 113.4,152.7 113.5,154.6 113.6,155.2 113.7,151.6 113.7,150.7 113.8,151.0 113.9,154.3 114.0,151.9 114.0,153.0 114.1,153.3 114.2,153.1 114.3,152.2 114.3,150.5 114.4,151.3 114.5,152.7 114.6,153.2 114.6,151.8 114.7,151.7 114.8,155.0 114.8,151.6 114.9,152.9 115.0,151.9 115.1,150.9 115.1,149.7 115.2,145.8 115.3,150.9 115.4,154.0 115.4,150.3 115.5,151.7 115.6,154.1 115.7,152.3 115.7,153.4 115.8,154.0 115.9,149.4 116.0,151.7 116.0,150.7 116.1,155.0 116.2,152.3 116.3,153.4 116.3,155.6 116.4,151.8 116.5,152.6 116.6,153.2 116.6,152.0 116.7,154.8 116.8,154.0 116.9,154.3 116.9,152.6 117.0,151.9 117.1,151.8 117.1,151.8 117.2,149.5 117.3,153.2 117.4,154.0 117.4,152.5 117.5,151.6 117.6,152.6 117.7,152.9 117.7,153.1 117.8,155.8 117.9,150.9 118.0,153.2 118.0,153.8 118.1,152.6 118.2,152.1 118.3,150.6 118.3,151.4 118.4,153.8 118.5,155.2 118.6,151.3 118.6,153.4 118.7,153.5 118.8,154.4 118.9,153.0 118.9,153.3 119.0,154.2 119.1,155.5 119.2,152.6 119.2,149.3 119.3,148.9 119.4,151.0 119.5,149.7 119.5,153.4 119.6,154.3 119.7,152.0 119.7,152.3 119.8,152.1 119.9,152.1 120.0,152.8 120.0,153.2 120.1,151.7 120.2,151.1 120.3,151.6 120.3,154.0 120.4,151.8 120.5,155.2 120.6,152.1 120.6,155.0 120.7,150.4 120.8,151.3 120.9,153.4 120.9,153.4 121.0,152.3 121.1,156.3 121.2,152.7 121.2,153.1 121.3,151.5 121.4,155.6 121.5,154.1 121.5,153.3 121.6,149.6 121.7,153.2 121.8,151.7 121.8,153.3 121.9,154.2 122.0,151.2 122.0,153.0 122.1,154.2 122.2,150.5 122.3,152.0 122.3,150.6 122.4,151.4 122.5,150.3 122.6,154.4 122.6,152.8 122.7,150.4 122.8,152.6 122.9,150.2 122.9,146.6 123.0,154.8 123.1,154.7 123.2,149.9 123.2,151.3 123.3,153.0 123.4,151.9 123.5,151.0 123.5,156.3 123.6,152.2 123.7,151.6 123.8,153.0 123.8,152.2 123.9,151.2 124.0,152.6 124.1,149.6 124.1,155.2 124.2,149.5 124.3,157.2 124.4,153.2 124.4,153.3 124.5,153.1 124.6,154.9 124.6,150.6 124.7,155.0 124.8,152.9 124.9,151.7 124.9,149.1 125.0,154.9 125.1,151.3 125.2,151.7 125.2,152.1 125.3,152.2 125.4,152.9 125.5,152.2 125.5,154.1 125.6,152.9 125.7,153.5 125.8,155.1 125.8,151.1 125.9,155.6 126.0,151.8 126.1,153.8 126.1,152.9 126.2,152.1 126.3,149.1 126.4,155.5 126.4,151.3 126.5,151.2 126.6,154.5 126.7,152.8 126.7,156.0 126.8,155.7 126.9,153.9 126.9,153.1 127.0,154.0 127.1,150.3 127.2,152.9 127.2,152.9 127.3,151.8 127.4,153.1 127.5,150.0 127.5,154.3 127.6,155.0 127.7,150.3 127.8,152.9 127.8,155.4 127.9,153.4 128.0,150.8 128.1,149.8 128.1,154.2 128.2,155.9 128.3,150.7 128.4,152.7 128.4,151.3 128.5,152.1 128.6,153.2 128.7,152.6 128.7,151.4 128.8,156.4 128.9,152.4 129.0,152.3 129.0,154.6 129.1,152.7 129.2,152.3 129.3,154.4 129.3,150.8 129.4,154.0 129.5,154.5 129.5,153.9 129.6,152.4 129.7,152.7 129.8,149.6 129.8,152.4 129.9,153.2 130.0,154.2 130.1,152.9 130.1,152.0 130.2,151.2 130.3,152.6 130.4,152.9 130.4,154.8 130.5,152.7 130.6,151.8 130.7,152.5 130.7,152.0 130.8,151.3 130.9,148.8 131.0,149.8 131.0,150.6 131.1,153.5 131.2,152.6 131.3,153.0 131.3,154.8 131.4,150.8 131.5,154.7 131.6,153.4 131.6,151.4 131.7,155.3 131.8,150.2 131.8,150.7 131.9,152.3 132.0,153.4 132.1,152.4 132.1,148.9 132.2,152.2 132.3,152.6 132.4,159.5 132.4,155.2 132.5,152.9 132.6,149.8 132.7,153.3 132.7,150.6 132.8,151.2 132.9,153.4 133.0,152.0 133.0,153.2 133.1,152.1 133.2,151.7 133.3,155.4 133.3,153.7 133.4,152.2 133.5,151.4 133.6,153.0 133.6,153.7 133.7,154.2 133.8,155.3 133.9,153.5 133.9,150.7 134.0,156.3 134.1,154.8 134.2,154.2 134.2,155.1 134.3,150.1 134.4,152.1 134.4,151.8 134.5,154.8 134.6,150.6 134.7,152.2 134.7,155.4 134.8,153.9 134.9,152.0 135.0,156.1 135.0,150.4 135.1,153.5 135.2,152.3 135.3,153.6 135.3,152.2 135.4,151.2 135.5,153.1 135.6,150.4 135.6,153.7 135.7,152.2 135.8,154.4 135.9,151.9 135.9,151.5 136.0,153.4 136.1,154.9 136.2,149.1 136.2,152.9 136.3,153.8 136.4,150.2 136.5,151.2 136.5,153.9 136.6,151.3 136.7,151.6 136.7,155.8 136.8,151.1 136.9,151.2 137.0,148.6 137.0,150.8 137.1,150.6 137.2,155.8 137.3,154.9 137.3,150.5 137.4,156.2 137.5,154.1 137.6,152.4 137.6,154.2 137.7,153.4 137.8,151.4 137.9,149.6 137.9,151.1 138.0,152.7 138.1,152.1 138.2,151.4 138.2,154.5 138.3,150.9 138.4,154.3 138.5,151.9 138.5,152.9 138.6,158.3 138.7,152.7 138.8,151.4 138.8,149.6 138.9,152.7 139.0,152.7 139.1,154.2 139.1,153.2 139.2,150.9 139.3,151.7 139.3,154.0 139.4,150.8 139.5,155.0 139.6,155.4 139.6,154.1 139.7,153.3 139.8,153.8 139.9,153.6 139.9,149.7 140.0,151.2 140.1,154.8 140.2,154.8 140.2,153.2 140.3,152.2 140.4,152.1 140.5,151.8 140.5,151.1 140.6,149.3 140.7,153.0 140.8,151.9 140.8,148.9 140.9,155.8 141.0,153.8 141.1,151.5 141.1,153.8 141.2,150.1 141.3,154.6 141.4,153.2 141.4,152.4 141.5,153.8 141.6,155.3 141.6,151.9 141.7,151.0 141.8,156.5 141.9,152.8 141.9,155.4 142.0,151.5 142.1,153.4 142.2,151.6 142.2,153.9 142.3,152.2 142.4,151.5 142.5,155.5 142.5,153.3 142.6,149.1 142.7,152.3 142.8,151.1 142.8,150.6 142.9,151.7 143.0,151.9 143.1,152.8 143.1,151.3 143.2,149.4 143.3,151.8 143.4,154.3 143.4,150.3 143.5,153.8 143.6,153.5 143.7,151.9 143.7,153.3 143.8,151.4 143.9,152.0 144.0,150.9 144.0,146.7 144.1,155.2 144.2,151.5 144.2,154.8 144.3,148.9 144.4,151.1 144.5,150.9 144.5,155.8 144.6,151.6 144.7,154.1 144.8,149.0 144.8,152.9 144.9,153.7 145.0,152.6 145.1,147.8 145.1,153.0 145.2,154.1 145.3,155.1 145.4,147.7 145.4,149.7 145.5,152.3 145.6,154.3 145.7,151.2 145.7,153.7 145.8,151.8 145.9,152.8 146.0,154.0 146.0,151.4 146.1,157.8 146.2,152.9 146.3,153.3 146.3,151.3 146.4,152.8 146.5,152.2 146.5,150.0 146.6,155.8 146.7,153.2 146.8,152.5 146.8,147.9 146.9,148.8 147.0,152.1 147.1,152.5 147.1,153.7 147.2,150.4 147.3,153.7 147.4,152.1 147.4,151.7 147.5,152.3 147.6,154.4 147.7,153.6 147.7,154.2 147.8,141.0 147.9,152.1 148.0,150.5 148.0,151.6 148.1,151.8 148.2,151.7 148.3,153.8 148.3,153.3 148.4,153.9 148.5,152.8 148.6,154.5 148.6,152.7 148.7,154.2 148.8,153.4 148.9,153.8 148.9,152.4 149.0,150.3 149.1,149.9 149.1,156.0 149.2,153.2 149.3,153.3 149.4,152.1 149.4,151.6 149.5,157.6 149.6,150.4 149.7,152.3 149.7,152.3 149.8,150.4 149.9,150.1 150.0,151.1 150.0,151.8 150.1,151.5 150.2,153.8 150.3,150.2 150.3,153.1 150.4,155.0 150.5,153.9 150.6,150.3 150.6,142.0 150.7,153.8 150.8,153.2 150.9,151.2 150.9,154.6 151.0,151.5 151.1,152.5 151.2,150.4 151.2,152.8 151.3,151.5 151.4,151.3 151.4,154.2 151.5,152.6 151.6,149.5 151.7,153.4 151.7,153.7 151.8,150.7 151.9,151.4 152.0,152.2 152.0,151.7 152.1,152.3 152.2,153.3 152.3,151.2 152.3,155.8 152.4,154.4 152.5,151.1 152.6,155.6 152.6,156.3 152.7,152.1 152.8,151.7 152.9,150.1 152.9,154.1 153.0,152.3 153.1,150.5 153.2,152.7 153.2,154.4 153.3,153.2 153.4,153.0 153.5,154.0 153.5,152.7 153.6,151.5 153.7,152.9 153.8,154.1 153.8,153.4 153.9,153.8 154.0,152.2 154.0,153.2 154.1,154.0 154.2,151.5 154.3,149.5 154.3,154.9 154.4,152.8 154.5,151.0 154.6,152.2 154.6,151.3 154.7,148.7 154.8,151.4 154.9,149.1 154.9,152.0 155.0,151.5 155.1,153.7 155.2,151.4 155.2,152.3 155.3,151.1 155.4,150.9 155.5,149.1 155.5,153.4 155.6,151.9 155.7,150.5 155.8,151.9 155.8,150.8 155.9,148.1 156.0,152.0 156.1,153.7 156.1,151.0 156.2,148.9 156.3,152.2 156.3,154.7 156.4,150.0 156.5,153.5 156.6,151.0 156.6,152.7 156.7,144.8 156.8,148.5 156.9,151.3 156.9,155.1 157.0,151.1 157.1,152.3 157.2,150.7 157.2,151.0 157.3,151.8 157.4,152.1 157.5,155.2 157.5,151.2 157.6,150.9 157.7,150.0 157.8,148.8 157.8,148.3 157.9,152.3 158.0,147.8 158.1,153.6 158.1,152.6 158.2,150.6 158.3,149.0 158.4,151.1 158.4,151.1 158.5,153.1 158.6,149.7 158.7,150.3 158.7,150.9 158.8,150.5 158.9,149.8 158.9,147.9 159.0,148.0 159.1,149.7 159.2,150.5 159.2,152.7 159.3,155.0 159.4,153.9 159.5,151.5 159.5,154.2 159.6,150.6 159.7,149.8 159.8,154.9 159.8,148.8 159.9,150.0 160.0,150.3 160.1,153.3 160.1,149.6 160.2,152.1 160.3,149.9 160.4,148.4 160.4,151.1 160.5,150.9 160.6,148.5 160.7,149.0 160.7,149.1 160.8,152.3 160.9,151.4 161.0,151.0 161.0,151.4 161.1,149.6 161.2,151.3 161.2,149.4 161.3,148.0 161.4,149.2 161.5,150.8 161.5,150.6 161.6,152.3 161.7,147.3 161.8,150.0 161.8,151.0 161.9,148.6 162.0,150.7 162.1,149.5 162.1,148.2 162.2,152.3 162.3,147.7 162.4,152.0 162.4,149.5 162.5,153.7 162.6,148.6 162.7,148.8 162.7,148.6 162.8,150.6 162.9,146.7 163.0,152.3 163.0,151.6 163.1,152.5 163.2,148.3 163.3,145.8 163.3,148.9 163.4,149.7 163.5,150.5 163.6,149.0 163.6,149.8 163.7,150.2 163.8,147.1 163.8,153.1 163.9,147.8 164.0,150.3 164.1,151.8 164.1,148.4 164.2,149.8 164.3,152.7 164.4,149.3 164.4,151.6 164.5,155.5 164.6,150.1 164.7,151.0 164.7,149.3 164.8,149.3 164.9,151.4 165.0,150.1 165.0,150.5 165.1,147.4 165.2,149.6 165.3,151.7 165.3,151.2 165.4,150.1 165.5,148.6 165.6,148.4 165.6,150.2 165.7,152.0 165.8,149.5 165.9,151.8 165.9,148.8 166.0,151.5 166.1,147.6 166.1,155.3 166.2,147.4 166.3,150.5 166.4,150.3 166.4,147.5 166.5,147.9 166.6,148.4 166.7,146.5 166.7,147.5 166.8,147.6 166.9,150.5 167.0,151.6 167.0,148.3 167.1,148.6 167.2,149.4 167.3,148.1 167.3,148.5 167.4,150.5 167.5,149.4 167.6,148.8 167.6,147.9 167.7,151.6 167.8,147.8 167.9,149.1 167.9,147.0 168.0,147.8 168.1,149.0 168.2,148.1 168.2,149.7 168.3,148.9 168.4,146.2 168.5,144.5 168.5,150.5 168.6,147.6 168.7,151.3 168.7,148.6 168.8,147.2 168.9,149.6 169.0,148.0 169.0,148.5 169.1,146.8 169.2,149.6 169.3,150.4 169.3,147.5 169.4,151.6 169.5,147.3 169.6,148.8 169.6,145.4 169.7,144.8 169.8,152.0 169.9,150.8 169.9,150.3 170.0,145.1 170.1,148.5 170.2,148.9 170.2,148.2 170.3,148.6 170.4,151.5 170.5,147.7 170.5,145.9 170.6,147.3 170.7,148.6 170.8,146.5 170.8,147.3 170.9,147.0 171.0,147.8 171.0,150.0 171.1,148.1 171.2,148.4 171.3,145.0 171.3,146.9 171.4,149.0 171.5,146.0 171.6,146.7 171.6,145.7 171.7,149.8 171.8,146.6 171.9,146.0 171.9,148.4 172.0,149.2 172.1,143.3 172.2,148.9 172.2,144.8 172.3,146.8 172.4,146.2 172.5,146.1 172.5,145.9 172.6,147.6 172.7,146.6 172.8,147.0 172.8,147.8 172.9,146.6 173.0,144.2 173.1,145.2 173.1,144.5 173.2,143.1 173.3,150.1 173.4,144.2 173.4,144.0 173.5,144.3 173.6,147.8 173.6,145.6 173.7,147.9 173.8,155.7 173.9,145.2 173.9,146.9 174.0,146.9 174.1,146.0 174.2,143.9 174.2,144.8 174.3,143.5 174.4,145.0 174.5,142.4 174.5,148.0 174.6,147.8 174.7,146.4 174.8,146.9 174.8,145.5 174.9,149.3 175.0,147.6 175.1,149.6 175.1,145.4 175.2,145.4 175.3,146.4 175.4,144.8 175.4,144.9 175.5,142.5 175.6,145.9 175.7,144.3 175.7,145.4 175.8,143.5 175.9,140.6 175.9,145.7 176.0,145.6 176.1,141.1 176.2,141.5 176.2,142.6 176.3,142.6 176.4,139.9 176.5,146.0 176.5,144.5 176.6,141.4 176.7,139.1 176.8,142.9 176.8,145.7 176.9,143.4 177.0,143.9 177.1,140.0 177.1,141.9 177.2,138.6 177.3,144.7 177.4,142.0 177.4,137.0 177.5,137.3 177.6,141.3 177.7,140.5 177.7,139.5 177.8,141.0 177.9,143.3 178.0,140.1 178.0,136.0 178.1,138.7 178.2,136.4 178.3,137.1 178.3,138.9 178.4,137.7 178.5,135.8 178.5,137.4 178.6,135.7 178.7,137.9 178.8,139.5 178.8,137.0 178.9,135.6 179.0,137.1 179.1,135.1 179.1,136.8 179.2,133.7 179.3,134.6 179.4,130.8 179.4,138.4 179.5,132.0 179.6,141.5 179.7,131.6 179.7,131.1 179.8,132.3 179.9,130.2 180.0,129.9 180.0,127.7 180.1,128.0 180.2,127.1 180.3,131.9 180.3,125.7 180.4,125.7 180.5,127.4 180.6,129.0 180.6,122.8 180.7,122.5 180.8,127.1 180.8,124.6 180.9,120.8 181.0,119.4 181.1,117.8 181.1,122.6 181.2,120.5 181.3,121.1 181.4,118.8 181.4,118.2 181.5,118.6 181.6,116.5 181.7,116.3 181.7,113.4 181.8,113.1 181.9,114.2 182.0,112.1 182.0,110.3 182.1,112.0 182.2,111.0 182.3,109.1 182.3,106.9 182.4,109.0 182.5,111.1 182.6,104.3 182.6,102.2 182.7,102.7 182.8,101.7 182.9,100.3 182.9,99.7 183.0,102.6 183.1,102.0 183.2,102.4 183.2,100.4 183.3,97.5 183.4,99.6 183.4,95.8 183.5,95.3 183.6,92.5 183.7,94.9 183.7,91.9 183.8,87.0 183.9,87.8 184.0,91.0 184.0,93.7 184.1,96.6 184.2,98.8 184.3,97.8 184.3,95.2 184.4,98.0 184.5,96.0 184.6,103.1 184.6,103.1 184.7,102.6 184.8,104.0 184.9,106.3 184.9,105.2 185.0,101.4 185.1,104.7 185.2,101.7 185.2,105.3 185.3,105.3 185.4,103.3 185.5,110.0 185.5,108.4 185.6,110.4 185.7,112.3 185.7,112.4 185.8,113.2 185.9,110.0 186.0,114.3 186.0,117.4 186.1,117.2 186.2,114.9 186.3,117.8 186.3,119.5 186.4,118.0 186.5,118.5 186.6,119.8 186.6,121.3 186.7,127.3 186.8,127.3 186.9,123.3 186.9,123.5 187.0,126.5 187.1,124.9 187.2,126.7 187.2,122.9 187.3,128.0 187.4,128.0 187.5,126.2 187.5,131.5 187.6,129.1 187.7,129.6 187.8,128.1 187.8,128.0 187.9,130.3 188.0,129.0 188.1,133.1 188.1,134.1 188.2,131.8 188.3,130.5 188.3,133.0 188.4,132.0 188.5,134.7 188.6,135.1 188.6,134.3 188.7,135.5 188.8,137.6 188.9,139.1 188.9,135.3 189.0,137.9 189.1,136.4 189.2,129.0 189.2,139.7 189.3,138.3 189.4,138.1 189.5,138.7 189.5,138.0 189.6,136.6 189.7,142.0 189.8,140.6 189.8,139.7 189.9,141.1 190.0,141.9 190.1,139.4 190.1,141.0 190.2,139.5 190.3,141.5 190.4,140.0 190.4,145.0 190.5,140.2 190.6,141.9 190.6,139.5 190.7,140.7 190.8,143.1 190.9,141.4 190.9,140.9 191.0,141.8 191.1,140.6 191.2,144.2 191.2,143.3 191.3,144.1 191.4,140.6 191.5,143.1 191.5,141.3 191.6,143.0 191.7,145.2 191.8,143.5 191.8,142.8 191.9,145.2 192.0,145.1 192.1,146.7 192.1,140.2 192.2,144.2 192.3,142.9 192.4,142.2 192.4,144.1 192.5,141.9 192.6,140.0 192.7,138.4 192.7,143.7 192.8,147.6 192.9,143.1 193.0,142.3 193.0,140.9 193.1,143.9 193.2,144.2 193.2,145.0 193.3,142.2 193.4,143.5 193.5,140.8 193.5,145.3 193.6,142.2 193.7,140.1 193.8,147.2 193.8,146.1 193.9,145.9 194.0,146.0 194.1,143.5 194.1,147.4 194.2,143.6 194.3,149.0 194.4,146.0 194.4,142.3 194.5,147.3 194.6,149.3 194.7,145.3 194.7,147.8 194.8,145.5 194.9,144.8 195.0,141.3 195.0,148.2 195.1,152.2 195.2,146.8 195.3,144.1 195.3,144.5 195.4,148.2 195.5,145.6 195.5,145.6 195.6,144.1 195.7,146.8 195.8,147.8 195.8,145.6 195.9,146.2 196.0,144.3 196.1,149.1 196.1,145.5 196.2,146.4 196.3,149.7 196.4,146.3 196.4,143.9 196.5,145.1 196.6,146.9 196.7,150.0 196.7,147.3 196.8,146.5 196.9,148.4 197.0,149.3 197.0,145.6 197.1,149.6 197.2,148.6 197.3,147.9 197.3,142.8 197.4,147.5 197.5,149.7 197.6,146.7 197.6,151.4 197.7,147.4 197.8,145.4 197.9,148.4 197.9,147.8 198.0,148.8 198.1,147.0 198.1,149.7 198.2,146.4 198.3,147.7 198.4,145.2 198.4,146.0 198.5,152.4 198.6,146.3 198.7,146.7 198.7,147.2 198.8,148.0 198.9,149.0 199.0,149.0 199.0,149.5 199.1,151.4 199.2,146.7 199.3,144.8 199.3,147.1 199.4,146.3 199.5,144.5 199.6,150.8 199.6,144.5 199.7,148.5 199.8,148.9 199.9,136.0 199.9,152.6 200.0,147.9 200.1,146.5 200.2,151.1 200.2,146.5 200.3,145.4 200.4,146.2 200.4,146.8 200.5,148.1 200.6,148.7 200.7,145.3 200.7,148.7 200.8,152.2 200.9,146.8 201.0,147.9 201.0,149.4 201.1,150.3 201.2,146.9 201.3,146.4 201.3,137.3 201.4,150.2 201.5,149.9 201.6,144.3 201.6,144.4 201.7,146.0 201.8,145.5 201.9,149.0 201.9,148.7 202.0,156.6 202.1,149.8 202.2,148.6 202.2,150.5 202.3,146.8 202.4,145.8 202.5,148.0 202.5,150.1 202.6,145.5 202.7,150.1 202.8,150.0 202.8,147.6 202.9,148.8 203.0,148.0 203.0,148.7 203.1,150.0 203.2,147.1 203.3,150.5 203.3,150.2 203.4,150.2 203.5,145.0 203.6,145.2 203.6,149.9 203.7,147.6 203.8,147.4 203.9,142.7 203.9,146.2 204.0,148.1 204.1,147.4 204.2,147.5 204.2,149.6 204.3,146.6 204.4,150.8 204.5,144.7 204.5,153.3 204.6,146.3 204.7,149.8 204.8,150.5 204.8,148.8 204.9,150.2 205.0,148.6 205.1,145.6 205.1,149.5 205.2,150.9 205.3,147.8 205.3,146.2 205.4,147.8 205.5,149.5 205.6,149.5 205.6,150.9 205.7,149.9 205.8,149.9 205.9,145.3 205.9,153.0 206.0,149.0 206.1,150.5 206.2,148.3 206.2,148.7 206.3,149.1 206.4,151.9 206.5,151.8 206.5,150.2 206.6,152.7 206.7,148.8 206.8,150.0 206.8,148.2 206.9,151.5 207.0,149.2 207.1,150.9 207.1,152.3 207.2,145.3 207.3,153.1 207.4,149.7 207.4,148.6 207.5,145.6 207.6,148.6 207.7,142.6 207.7,149.3 207.8,148.9 207.9,152.6 207.9,148.6 208.0,151.2 208.1,151.4 208.2,153.0 208.2,148.8 208.3,150.7 208.4,146.5 208.5,147.2 208.5,148.8 208.6,143.6 208.7,147.1 208.8,148.6 208.8,150.6 208.9,148.5 209.0,149.1 209.1,147.7 209.1,151.9 209.2,152.6 209.3,149.8 209.4,149.2 209.4,152.5 209.5,150.3 209.6,148.2 209.7,146.9 209.7,148.3 209.8,153.5 209.9,148.3 210.0,154.8 210.0,149.5 210.1,153.5 210.2,151.9 210.2,154.8 210.3,150.2 210.4,147.6 210.5,147.2 210.5,148.1 210.6,149.9 210.7,148.3 210.8,145.9 210.8,150.4 210.9,149.2 211.0,149.0 211.1,148.4 211.1,145.4 211.2,152.5 211.3,148.7 211.4,150.6 211.4,152.2 211.5,151.7 211.6,150.0 211.7,148.0 211.7,150.2 211.8,151.3 211.9,150.7 212.0,148.8 212.0,150.5 212.1,150.3 212.2,150.9 212.3,150.0 212.3,152.2 212.4,150.0 212.5,151.3 212.6,149.8 212.6,148.6 212.7,147.9 212.8,149.4 212.8,150.7 212.9,152.0 213.0,149.5 213.1,148.7 213.1,148.8 213.2,152.1 213.3,149.9 213.4,148.8 213.4,150.0 213.5,147.3 213.6,149.9 213.7,149.7 213.7,149.5 213.8,147.6 213.9,151.6 214.0,152.9 214.0,147.3 214.1,150.0 214.2,150.9 214.3,153.9 214.3,149.0 214.4,148.0 214.5,149.7 214.6,155.8 214.6,149.9 214.7,150.2 214.8,153.0 214.9,145.8 214.9,145.8 215.0,151.4 215.1,151.2 215.1,147.2 215.2,150.7 215.3,149.8 215.4,150.1 215.4,148.3 215.5,148.9 215.6,148.1 215.7,149.8 215.7,149.3 215.8,152.8 215.9,150.9 216.0,146.8 216.0,150.5 216.1,152.3 216.2,150.2 216.3,151.7 216.3,149.6 216.4,151.0 216.5,147.9 216.6,151.1 216.6,147.1 216.7,152.0 216.8,146.8 216.9,145.7 216.9,150.6 217.0,149.3 217.1,149.8 217.2,150.3 217.2,149.5 217.3,147.9 217.4,149.9 217.5,150.1 217.5,150.4 217.6,153.1 217.7,148.1 217.7,149.6 217.8,150.4 217.9,148.6 218.0,147.2 218.0,148.3 218.1,151.3 218.2,148.8 218.3,159.5 218.3,147.9 218.4,150.1 218.5,148.0 218.6,147.6 218.6,149.4 218.7,149.2 218.8,151.8 218.9,149.0 218.9,150.0 219.0,152.0 219.1,151.5 219.2,148.2 219.2,147.7 219.3,148.0 219.4,149.4 219.5,149.2 219.5,149.4 219.6,153.1 219.7,146.7 219.8,146.6 219.8,146.3 219.9,146.1 220.0,148.3 220.0,149.1 220.1,153.1 220.2,149.4 220.3,148.4 220.3,150.9 220.4,146.9 220.5,148.8 220.6,149.9 220.6,145.7 220.7,148.8 220.8,147.3 220.9,145.6 220.9,147.6 221.0,146.7 221.1,149.0 221.2,150.0 221.2,148.6 221.3,144.6 221.4,149.3 221.5,145.8 221.5,144.4 221.6,146.7 221.7,146.0 221.8,149.2 221.8,148.3 221.9,144.8 222.0,147.0 222.1,146.6 222.1,143.8 222.2,144.8 222.3,142.8 222.4,144.8 222.4,141.5 222.5,144.8 222.6,144.5 222.6,144.6 222.7,147.7 222.8,148.0 222.9,145.2 222.9,146.2 223.0,147.0 223.1,147.2 223.2,146.7 223.2,144.3 223.3,143.2 223.4,143.7 223.5,144.1 223.5,143.6 223.6,144.6 223.7,146.7 223.8,144.3 223.8,147.7 223.9,146.2 224.0,143.3 224.1,145.7 224.1,138.7 224.2,146.4 224.3,144.5 224.4,144.3 224.4,140.4 224.5,148.0 224.6,142.7 224.7,142.8 224.7,145.0 224.8,142.4 224.9,141.1 224.9,143.8 225.0,140.5 225.1,143.6 225.2,142.4 225.2,144.1 225.3,139.6 225.4,144.0 225.5,142.1 225.5,145.1 225.6,140.1 225.7,144.6 225.8,142.3 225.8,142.3 225.9,139.4 226.0,141.6 226.1,141.6 226.1,138.7 226.2,138.0 226.3,138.5 226.4,142.5 226.4,139.9 226.5,141.2 226.6,139.9 226.7,139.4 226.7,139.4 226.8,138.1 226.9,141.0 227.0,138.9 227.0,138.8 227.1,135.7 227.2,138.7 227.3,136.7 227.3,137.8 227.4,139.6 227.5,135.5 227.5,137.0 227.6,138.3 227.7,139.2 227.8,135.9 227.8,137.3 227.9,137.1 228.0,133.0 228.1,132.3 228.1,132.6 228.2,137.1 228.3,136.0 228.4,133.2 228.4,134.4 228.5,137.6 228.6,134.6 228.7,135.0 228.7,139.0 228.8,133.4 228.9,134.9 229.0,133.1 229.0,133.2 229.1,132.6 229.2,133.7 229.3,133.0 229.3,132.2 229.4,134.1 229.5,132.0 229.6,137.0 229.6,131.2 229.7,133.9 229.8,144.7 229.8,131.7 229.9,133.4 230.0,135.4 230.1,133.2 230.1,127.2 230.2,135.0 230.3,132.5 230.4,134.7 230.4,134.4 230.5,130.7 230.6,133.8 230.7,130.8 230.7,132.7 230.8,129.6 230.9,130.8 231.0,129.7 231.0,130.0 231.1,131.6 231.2,128.5 231.3,131.5 231.3,133.4 231.4,129.8 231.5,127.5 231.6,130.3 231.6,130.9 231.7,132.6 231.8,132.6 231.9,132.4 231.9,130.2 232.0,131.7 232.1,127.8 232.2,132.8 232.2,131.2 232.3,131.3 232.4,129.7 232.4,130.4 232.5,129.1 232.6,136.1 232.7,127.8 232.7,132.0 232.8,131.2 232.9,134.0 233.0,130.2 233.0,130.1 233.1,130.6 233.2,130.3 233.3,130.1 233.3,128.2 233.4,118.7 233.5,129.3 233.6,129.8 233.6,128.2 233.7,128.2 233.8,129.9 233.9,131.8 233.9,130.1 234.0,131.8 234.1,132.4 234.2,132.0 234.2,129.9 234.3,130.0 234.4,125.9 234.5,129.6 234.5,131.8 234.6,129.0 234.7,133.5 234.7,130.5 234.8,130.5 234.9,133.0 235.0,128.8 235.0,129.5 235.1,130.9 235.2,135.0 235.3,131.4 235.3,130.2 235.4,135.5 235.5,132.6 235.6,132.6 235.6,133.5 235.7,132.7 235.8,132.0 235.9,131.5 235.9,129.7 236.0,135.5 236.1,131.2 236.2,130.0 236.2,131.7 236.3,130.3 236.4,137.1 236.5,134.2 236.5,136.3 236.6,136.5 236.7,135.0 236.8,135.1 236.8,132.9 236.9,134.2 237.0,133.4 237.1,134.7 237.1,133.5 237.2,137.3 237.3,136.5 237.3,135.0 237.4,132.3 237.5,136.8 237.6,143.1 237.6,132.5 237.7,133.7 237.8,137.0 237.9,135.4 237.9,133.0 238.0,137.7 238.1,133.5 238.2,137.1 238.2,140.3 238.3,137.5 238.4,138.3 238.5,137.0 238.5,137.8 238.6,142.8 238.7,140.6 238.8,137.7 238.8,137.7 238.9,138.6 239.0,142.8 239.1,139.3 239.1,141.1 239.2,138.6 239.3,137.1 239.4,142.0 239.4,139.6 239.5,138.5 239.6,138.8 239.6,139.0 239.7,139.3 239.8,137.8 239.9,142.9 239.9,145.3 240.0,142.9 240.1,140.6 240.2,142.0 240.2,141.9 240.3,143.9 240.4,143.4 240.5,142.7 240.5,141.0 240.6,140.1 240.7,141.0 240.8,141.5 240.8,141.8 240.9,140.7 241.0,146.1 241.1,143.7 241.1,139.7 241.2,141.5 241.3,141.2 241.4,144.3 241.4,145.9 241.5,142.3 241.6,145.4 241.7,143.9 241.7,146.7 241.8,147.2 241.9,145.4 242.0,146.3 242.0,145.1 242.1,144.6 242.2,143.2 242.2,146.1 242.3,145.5 242.4,145.1 242.5,145.7 242.5,145.7 242.6,144.2 242.7,144.3 242.8,148.5 242.8,154.1 242.9,149.2 243.0,144.6 243.1,144.4 243.1,147.2 243.2,148.5 243.3,146.0 243.4,148.4 243.4,149.1 243.5,149.5 243.6,147.4 243.7,147.6 243.7,144.8 243.8,148.0 243.9,148.5 244.0,155.6 244.0,146.1 244.1,146.8 244.2,146.6 244.3,150.1 244.3,141.8 244.4,146.7 244.5,152.5 244.5,150.0 244.6,146.5 244.7,148.9 244.8,149.5 244.8,150.2 244.9,148.9 245.0,147.9 245.1,150.9 245.1,149.5 245.2,153.3 245.3,150.4 245.4,148.9 245.4,152.4 245.5,148.9 245.6,150.7 245.7,148.8 245.7,149.6 245.8,149.7 245.9,149.0 246.0,150.7 246.0,152.7 246.1,153.8 246.2,153.0 246.3,150.2 246.3,153.2 246.4,151.4 246.5,153.9 246.6,148.4 246.6,153.5 246.7,150.9 246.8,153.0 246.9,146.7 246.9,152.6 247.0,150.5 247.1,147.6 247.1,149.3 247.2,150.7 247.3,151.2 247.4,147.2 247.4,149.1 247.5,150.0 247.6,151.0 247.7,151.8 247.7,149.9 247.8,155.8 247.9,152.1 248.0,150.9 248.0,153.2 248.1,150.7 248.2,152.8 248.3,150.1 248.3,152.2 248.4,151.9 248.5,152.6 248.6,150.1 248.6,151.6 248.7,150.3 248.8,151.6 248.9,153.1 248.9,157.4 249.0,152.0 249.1,153.3 249.2,152.2 249.2,154.1 249.3,152.9 249.4,154.0 249.4,149.0 249.5,156.5 249.6,154.7 249.7,149.1 249.7,152.8 249.8,152.4 249.9,148.3 250.0,150.7 250.0,151.5 250.1,151.0 250.2,152.6 250.3,149.1 250.3,153.8 250.4,153.8 250.5,153.1 250.6,151.9 250.6,152.5 250.7,151.7 250.8,154.6 250.9,153.4 250.9,156.2 251.0,151.9 251.1,155.2 251.2,151.6 251.2,152.3 251.3,150.7 251.4,153.6 251.5,152.6 251.5,153.8 251.6,155.4 251.7,152.6 251.8,153.4 251.8,154.4 251.9,152.6 252.0,148.0 252.0,153.4 252.1,153.7 252.2,154.2 252.3,154.3 252.3,151.6 252.4,153.6 252.5,155.1 252.6,152.0 252.6,153.5 252.7,151.8 252.8,153.2 252.9,156.1 252.9,153.2 253.0,151.2 253.1,153.6 253.2,153.4 253.2,155.0 253.3,150.5 253.4,151.3 253.5,152.9 253.5,150.2 253.6,155.1 253.7,149.4 253.8,151.6 253.8,150.4 253.9,151.9 254.0,154.5 254.1,154.2 254.1,154.8 254.2,154.2 254.3,149.5 254.3,153.7 254.4,149.8 254.5,152.3 254.6,152.5 254.6,152.2 254.7,154.1 254.8,151.8 254.9,156.4 254.9,154.3 255.0,155.4 255.1,154.7 255.2,154.9 255.2,153.2 255.3,156.9 255.4,151.4 255.5,154.2 255.5,153.4 255.6,153.0 255.7,154.0 255.8,152.0 255.8,155.0 255.9,154.8 256.0,153.6 256.1,154.8 256.1,151.6 256.2,150.2 256.3,152.4 256.4,153.1 256.4,158.0 256.5,153.1 256.6,155.4 256.7,155.1 256.7,157.4 256.8,153.8 256.9,154.8 256.9,153.3 257.0,152.1 257.1,151.8 257.2,152.2 257.2,156.2 257.3,154.2 257.4,153.4 257.5,153.7 257.5,152.7 257.6,153.7 257.7,153.7 257.8,154.9 257.8,155.4 257.9,150.8 258.0,154.2 258.1,156.3 258.1,158.2 258.2,153.4 258.3,154.1 258.4,155.8 258.4,154.9 258.5,153.5 258.6,154.8 258.7,155.8 258.7,154.6 258.8,157.3 258.9,154.7 259.0,152.1 259.0,152.6 259.1,153.8 259.2,153.6 259.2,155.1 259.3,154.7 259.4,157.1 259.5,155.5 259.5,156.8 259.6,151.9 259.7,153.3 259.8,155.4 259.8,154.3 259.9,155.3 260.0,154.6 260.1,153.1 260.1,157.3 260.2,156.3 260.3,151.4 260.4,153.1 260.4,154.3 260.5,155.5 260.6,154.2 260.7,151.8 260.7,155.8 260.8,154.0 260.9,156.5 261.0,154.9 261.0,156.2 261.1,155.9 261.2,156.0 261.3,153.5 261.3,156.3 261.4,154.8 261.5,152.2 261.6,153.8 261.6,153.9 261.7,155.4 261.8,155.8 261.8,152.5 261.9,155.9 262.0,154.5 262.1,152.7 262.1,156.1 262.2,153.2 262.3,152.5 262.4,156.0 262.4,156.3 262.5,153.5 262.6,156.6 262.7,156.5 262.7,153.8 262.8,158.3 262.9,154.6 263.0,155.2 263.0,150.5 263.1,155.9 263.2,153.7 263.3,155.6 263.3,151.8 263.4,156.9 263.5,161.5 263.6,158.3 263.6,149.6 263.7,152.6 263.8,155.6 263.9,149.5 263.9,153.7 264.0,154.8" fill="none" stroke="#d7262b" stroke-width="0.75" stroke-linejoin="round"/>
<line x1="42.83" y1="31" x2="42.83" y2="80" stroke="#3a7ebf" stroke-width="0.8"/>
<line x1="42.83" y1="80" x2="42.83" y2="100" stroke="#6a5590" stroke-width="0.8"/>
<line x1="183.84" y1="12.4" x2="183.84" y2="70" stroke="#3a7ebf" stroke-width="0.9"/>
<line x1="183.84" y1="70" x2="183.84" y2="92" stroke="#6a5590" stroke-width="0.9"/>
<rect x="26.5" y="4.5" width="237.5" height="166.5" fill="none" stroke="#777" stroke-width="0.9"/>
<line x1="26.5" y1="4.5" x2="26.5" y2="171" stroke="#fff" stroke-width="1"/>
<line x1="26.5" y1="4.5" x2="26.5" y2="171" stroke="#9a9a9a" stroke-width="0.9"/>
<line x1="26.1" y1="6.5" x2="26.9" y2="6.5" stroke="#333" stroke-width="0.9"/>
<line x1="26.1" y1="8.5" x2="26.9" y2="8.5" stroke="#333" stroke-width="0.9"/>
<line x1="26.1" y1="10.5" x2="26.9" y2="10.5" stroke="#333" stroke-width="0.9"/>
<line x1="26.1" y1="12.5" x2="26.9" y2="12.5" stroke="#333" stroke-width="0.9"/>
<line x1="26.1" y1="14.5" x2="26.9" y2="14.5" stroke="#333" stroke-width="0.9"/>
<line x1="26.1" y1="16.5" x2="26.9" y2="16.5" stroke="#333" stroke-width="0.9"/>
<line x1="26.1" y1="18.5" x2="26.9" y2="18.5" stroke="#333" stroke-width="0.9"/>
<line x1="26.1" y1="20.5" x2="26.9" y2="20.5" stroke="#333" stroke-width="0.9"/>
<line x1="26.1" y1="22.5" x2="26.9" y2="22.5" stroke="#333" stroke-width="0.9"/>
<line x1="26.1" y1="24.5" x2="26.9" y2="24.5" stroke="#333" stroke-width="0.9"/>
<line x1="26.1" y1="26.5" x2="26.9" y2="26.5" stroke="#333" stroke-width="0.9"/>
<line x1="26.1" y1="28.5" x2="26.9" y2="28.5" stroke="#333" stroke-width="0.9"/>
<line x1="26.1" y1="30.5" x2="26.9" y2="30.5" stroke="#333" stroke-width="0.9"/>
<line x1="26.1" y1="32.5" x2="26.9" y2="32.5" stroke="#333" stroke-width="0.9"/>
<line x1="26.1" y1="34.5" x2="26.9" y2="34.5" stroke="#333" stroke-width="0.9"/>
<line x1="26.1" y1="36.5" x2="26.9" y2="36.5" stroke="#333" stroke-width="0.9"/>
<line x1="26.1" y1="38.5" x2="26.9" y2="38.5" stroke="#333" stroke-width="0.9"/>
<line x1="26.1" y1="40.5" x2="26.9" y2="40.5" stroke="#333" stroke-width="0.9"/>
<line x1="26.1" y1="42.5" x2="26.9" y2="42.5" stroke="#333" stroke-width="0.9"/>
<line x1="26.1" y1="44.5" x2="26.9" y2="44.5" stroke="#333" stroke-width="0.9"/>
<line x1="26.1" y1="46.5" x2="26.9" y2="46.5" stroke="#333" stroke-width="0.9"/>
<line x1="26.1" y1="48.5" x2="26.9" y2="48.5" stroke="#333" stroke-width="0.9"/>
<line x1="26.1" y1="50.5" x2="26.9" y2="50.5" stroke="#333" stroke-width="0.9"/>
<line x1="26.1" y1="52.5" x2="26.9" y2="52.5" stroke="#333" stroke-width="0.9"/>
<line x1="26.1" y1="54.5" x2="26.9" y2="54.5" stroke="#333" stroke-width="0.9"/>
<line x1="26.1" y1="56.5" x2="26.9" y2="56.5" stroke="#333" stroke-width="0.9"/>
<line x1="26.1" y1="58.5" x2="26.9" y2="58.5" stroke="#333" stroke-width="0.9"/>
<line x1="26.1" y1="60.5" x2="26.9" y2="60.5" stroke="#333" stroke-width="0.9"/>
<line x1="26.1" y1="62.5" x2="26.9" y2="62.5" stroke="#333" stroke-width="0.9"/>
<line x1="26.1" y1="64.5" x2="26.9" y2="64.5" stroke="#333" stroke-width="0.9"/>
<line x1="26.1" y1="66.5" x2="26.9" y2="66.5" stroke="#333" stroke-width="0.9"/>
<line x1="26.1" y1="68.5" x2="26.9" y2="68.5" stroke="#333" stroke-width="0.9"/>
<line x1="26.1" y1="70.5" x2="26.9" y2="70.5" stroke="#333" stroke-width="0.9"/>
<line x1="26.1" y1="72.5" x2="26.9" y2="72.5" stroke="#333" stroke-width="0.9"/>
<line x1="26.1" y1="74.5" x2="26.9" y2="74.5" stroke="#333" stroke-width="0.9"/>
<line x1="26.1" y1="76.5" x2="26.9" y2="76.5" stroke="#333" stroke-width="0.9"/>
<line x1="26.1" y1="78.5" x2="26.9" y2="78.5" stroke="#333" stroke-width="0.9"/>
<line x1="26.1" y1="80.5" x2="26.9" y2="80.5" stroke="#333" stroke-width="0.9"/>
<line x1="26.1" y1="82.5" x2="26.9" y2="82.5" stroke="#333" stroke-width="0.9"/>
<line x1="26.1" y1="84.5" x2="26.9" y2="84.5" stroke="#333" stroke-width="0.9"/>
<line x1="26.1" y1="86.5" x2="26.9" y2="86.5" stroke="#333" stroke-width="0.9"/>
<line x1="26.1" y1="88.5" x2="26.9" y2="88.5" stroke="#333" stroke-width="0.9"/>
<line x1="26.1" y1="90.5" x2="26.9" y2="90.5" stroke="#333" stroke-width="0.9"/>
<line x1="26.1" y1="92.5" x2="26.9" y2="92.5" stroke="#333" stroke-width="0.9"/>
<line x1="26.1" y1="94.5" x2="26.9" y2="94.5" stroke="#333" stroke-width="0.9"/>
<line x1="26.1" y1="96.5" x2="26.9" y2="96.5" stroke="#333" stroke-width="0.9"/>
<line x1="26.1" y1="98.5" x2="26.9" y2="98.5" stroke="#333" stroke-width="0.9"/>
<line x1="26.1" y1="100.5" x2="26.9" y2="100.5" stroke="#333" stroke-width="0.9"/>
<line x1="26.1" y1="102.5" x2="26.9" y2="102.5" stroke="#333" stroke-width="0.9"/>
<line x1="26.1" y1="104.5" x2="26.9" y2="104.5" stroke="#333" stroke-width="0.9"/>
<line x1="26.1" y1="106.5" x2="26.9" y2="106.5" stroke="#333" stroke-width="0.9"/>
<line x1="26.1" y1="108.5" x2="26.9" y2="108.5" stroke="#333" stroke-width="0.9"/>
<line x1="26.1" y1="110.5" x2="26.9" y2="110.5" stroke="#333" stroke-width="0.9"/>
<line x1="26.1" y1="112.5" x2="26.9" y2="112.5" stroke="#333" stroke-width="0.9"/>
<line x1="26.1" y1="114.5" x2="26.9" y2="114.5" stroke="#333" stroke-width="0.9"/>
<line x1="26.1" y1="116.5" x2="26.9" y2="116.5" stroke="#333" stroke-width="0.9"/>
<line x1="26.1" y1="118.5" x2="26.9" y2="118.5" stroke="#333" stroke-width="0.9"/>
<line x1="26.1" y1="120.5" x2="26.9" y2="120.5" stroke="#333" stroke-width="0.9"/>
<line x1="26.1" y1="122.5" x2="26.9" y2="122.5" stroke="#333" stroke-width="0.9"/>
<line x1="26.1" y1="124.5" x2="26.9" y2="124.5" stroke="#333" stroke-width="0.9"/>
<line x1="26.1" y1="126.5" x2="26.9" y2="126.5" stroke="#333" stroke-width="0.9"/>
<line x1="26.1" y1="128.5" x2="26.9" y2="128.5" stroke="#333" stroke-width="0.9"/>
<line x1="26.1" y1="130.5" x2="26.9" y2="130.5" stroke="#333" stroke-width="0.9"/>
<line x1="26.1" y1="132.5" x2="26.9" y2="132.5" stroke="#333" stroke-width="0.9"/>
<line x1="26.1" y1="134.5" x2="26.9" y2="134.5" stroke="#333" stroke-width="0.9"/>
<line x1="26.1" y1="136.5" x2="26.9" y2="136.5" stroke="#333" stroke-width="0.9"/>
<line x1="26.1" y1="138.5" x2="26.9" y2="138.5" stroke="#333" stroke-width="0.9"/>
<line x1="26.1" y1="140.5" x2="26.9" y2="140.5" stroke="#333" stroke-width="0.9"/>
<line x1="26.1" y1="142.5" x2="26.9" y2="142.5" stroke="#333" stroke-width="0.9"/>
<line x1="26.1" y1="144.5" x2="26.9" y2="144.5" stroke="#333" stroke-width="0.9"/>
<line x1="26.1" y1="146.5" x2="26.9" y2="146.5" stroke="#333" stroke-width="0.9"/>
<line x1="26.1" y1="148.5" x2="26.9" y2="148.5" stroke="#333" stroke-width="0.9"/>
<line x1="26.1" y1="150.5" x2="26.9" y2="150.5" stroke="#333" stroke-width="0.9"/>
<line x1="26.1" y1="152.5" x2="26.9" y2="152.5" stroke="#333" stroke-width="0.9"/>
<line x1="26.1" y1="154.5" x2="26.9" y2="154.5" stroke="#333" stroke-width="0.9"/>
<line x1="26.1" y1="156.5" x2="26.9" y2="156.5" stroke="#333" stroke-width="0.9"/>
<line x1="26.1" y1="158.5" x2="26.9" y2="158.5" stroke="#333" stroke-width="0.9"/>
<line x1="26.1" y1="160.5" x2="26.9" y2="160.5" stroke="#333" stroke-width="0.9"/>
<line x1="26.1" y1="162.5" x2="26.9" y2="162.5" stroke="#333" stroke-width="0.9"/>
<line x1="26.1" y1="164.5" x2="26.9" y2="164.5" stroke="#333" stroke-width="0.9"/>
<line x1="26.1" y1="166.5" x2="26.9" y2="166.5" stroke="#333" stroke-width="0.9"/>
<line x1="26.1" y1="168.5" x2="26.9" y2="168.5" stroke="#333" stroke-width="0.9"/>
<line x1="26.1" y1="170.5" x2="26.9" y2="170.5" stroke="#333" stroke-width="0.9"/>
<line x1="26.5" y1="171" x2="26.5" y2="173" stroke="#5a5a5a" stroke-width="0.8"/>
<text x="26.5" y="181.6" font-size="9.8" text-anchor="middle" textLength="11.45" lengthAdjust="spacingAndGlyphs">20</text>
<line x1="56.19" y1="171" x2="56.19" y2="173" stroke="#5a5a5a" stroke-width="0.8"/>
<text x="56.19" y="181.6" font-size="9.8" text-anchor="middle" textLength="11.45" lengthAdjust="spacingAndGlyphs">25</text>
<line x1="85.88" y1="171" x2="85.88" y2="173" stroke="#5a5a5a" stroke-width="0.8"/>
<text x="85.88" y="181.6" font-size="9.8" text-anchor="middle" textLength="11.45" lengthAdjust="spacingAndGlyphs">30</text>
<line x1="115.56" y1="171" x2="115.56" y2="173" stroke="#5a5a5a" stroke-width="0.8"/>
<text x="115.56" y="181.6" font-size="9.8" text-anchor="middle" textLength="11.45" lengthAdjust="spacingAndGlyphs">35</text>
<line x1="145.25" y1="171" x2="145.25" y2="173" stroke="#5a5a5a" stroke-width="0.8"/>
<text x="145.25" y="181.6" font-size="9.8" text-anchor="middle" textLength="11.45" lengthAdjust="spacingAndGlyphs">40</text>
<line x1="174.94" y1="171" x2="174.94" y2="173" stroke="#5a5a5a" stroke-width="0.8"/>
<text x="174.94" y="181.6" font-size="9.8" text-anchor="middle" textLength="11.45" lengthAdjust="spacingAndGlyphs">45</text>
<line x1="204.62" y1="171" x2="204.62" y2="173" stroke="#5a5a5a" stroke-width="0.8"/>
<text x="204.62" y="181.6" font-size="9.8" text-anchor="middle" textLength="11.45" lengthAdjust="spacingAndGlyphs">50</text>
<line x1="234.31" y1="171" x2="234.31" y2="173" stroke="#5a5a5a" stroke-width="0.8"/>
<text x="234.31" y="181.6" font-size="9.8" text-anchor="middle" textLength="11.45" lengthAdjust="spacingAndGlyphs">55</text>
<line x1="264" y1="171" x2="264" y2="173" stroke="#5a5a5a" stroke-width="0.8"/>
<text x="264" y="181.6" font-size="9.8" text-anchor="middle" textLength="11.45" lengthAdjust="spacingAndGlyphs">60</text>
<text x="145.6" y="192" font-size="9.8" text-anchor="middle" textLength="26.5" lengthAdjust="spacingAndGlyphs">2<tspan font-style="italic">θ</tspan> (°)</text>
<text x="20.7" y="88.2" font-size="9.8" text-anchor="middle" textLength="66.5" lengthAdjust="spacingAndGlyphs" transform="rotate(-90 20.7 88.2)">Intensity (a.u)</text>
<line x1="53" y1="14.5" x2="70.3" y2="14.5" stroke="#6fa6d2" stroke-width="1.2"/>
<line x1="53" y1="28.6" x2="70.3" y2="28.6" stroke="#e6878b" stroke-width="1.2"/>
<text x="76.8" y="18.2" font-size="9.2" textLength="95.5" lengthAdjust="spacingAndGlyphs"><tspan font-style="italic">Pr</tspan><tspan font-size="6.6" dy="1.8">0.8</tspan><tspan font-style="italic" dy="-1.8">Sr</tspan><tspan font-size="6.6" dy="1.8">0.2</tspan><tspan font-style="italic" dy="-1.8">NiO</tspan><tspan font-size="6.6" dy="1.8">2</tspan><tspan dy="-1.8"> by </tspan><tspan font-style="italic">in situ</tspan></text>
<text x="76.8" y="32.2" font-size="9.2" textLength="98.5" lengthAdjust="spacingAndGlyphs"><tspan font-style="italic">Pr</tspan><tspan font-size="6.6" dy="1.8">0.8</tspan><tspan font-style="italic" dy="-1.8">Sr</tspan><tspan font-size="6.6" dy="1.8">0.2</tspan><tspan font-style="italic" dy="-1.8">NiO</tspan><tspan font-size="6.6" dy="1.8">2</tspan><tspan dy="-1.8"> by </tspan><tspan font-style="italic">ex situ</tspan></text>
<text x="37.8" y="65.4" font-size="7.4" textLength="34.2" lengthAdjust="spacingAndGlyphs" transform="rotate(-90 37.8 65.4)">(001) STO</text>
<text x="67.6" y="98.6" font-size="7.4" textLength="44.2" lengthAdjust="spacingAndGlyphs" transform="rotate(-90 67.6 98.6)">(001) PSNO<tspan font-size="5" dy="1.5">2</tspan></text>
<text x="190.6" y="47.4" font-size="7.4" textLength="34.8" lengthAdjust="spacingAndGlyphs" transform="rotate(-90 190.6 47.4)">(002) STO</text>
<text x="228.2" y="81.2" font-size="7.4" textLength="44.2" lengthAdjust="spacingAndGlyphs" transform="rotate(-90 228.2 81.2)">(002) PSNO<tspan font-size="5" dy="1.5">2</tspan></text>
<line x1="207.4" y1="91.3" x2="207.4" y2="103.5" stroke="#111" stroke-width="1"/>
<path d="M207.4,107 L205.1,102.2 L209.7,102.2 Z" fill="#111"/>
<line x1="216.5" y1="91.3" x2="216.5" y2="103.5" stroke="#111" stroke-width="1"/>
<path d="M216.5,107 L214.2,102.2 L218.8,102.2 Z" fill="#111"/>
<line x1="248" y1="91.3" x2="248" y2="103.5" stroke="#111" stroke-width="1"/>
<path d="M248,107 L245.7,102.2 L250.3,102.2 Z" fill="#111"/>
<text x="2.3" y="14.2" font-size="13" textLength="10.4" lengthAdjust="spacingAndGlyphs">a)</text>
<polyline points="323.62,163.4 323.87,163.4 324.12,163.4 324.36,163.4 324.61,163.4 324.86,163.4 325.11,163.4 325.36,163.4 325.6,163.4 325.85,163.4 326.1,163.4 326.35,163.4 326.6,163.4 326.84,163.4 327.09,163.4 327.34,163.4 327.59,163.4 327.83,163.4 328.08,163.4 328.33,163.4 328.58,163.4 328.83,163.4 329.07,163.4 329.32,163.4 329.57,163.4 329.82,163.4 330.07,163.4 330.31,163.4 330.56,163.4 330.81,163.4 331.06,163.4 331.31,163.4 331.55,163.4 331.8,163.4 332.05,163.4 332.3,163.4 332.55,163.4 332.79,163.4 333.04,163.4 333.29,163.4 333.54,163.06 333.78,161.07 334.03,154.22 334.28,142.37 334.53,138.95 334.78,137.54 335.02,136.68 335.27,136.05 335.52,135.48 335.77,134.99 336.02,134.57 336.26,134.22 336.51,133.95 336.76,133.75 337.01,133.65 337.26,133.59 337.5,133.52 337.75,133.46 338,133.4 338.25,133.34 338.5,133.28 338.74,133.21 338.99,133.15 339.24,133.09 339.49,133.03 339.73,132.96 339.98,132.9 340.23,132.84 340.48,132.77 340.73,132.71 340.97,132.65 341.22,132.58 341.47,132.52 341.72,132.45 341.97,132.39 342.21,132.32 342.46,132.26 342.71,132.19 342.96,132.13 343.21,132.06 343.45,132 343.7,131.93 343.95,131.87 344.2,131.8 344.45,131.74 344.69,131.67 344.94,131.6 345.19,131.54 345.44,131.47 345.68,131.4 345.93,131.33 346.18,131.27 346.43,131.2 346.68,131.13 346.92,131.06 347.17,131 347.42,130.93 347.67,130.86 347.92,130.79 348.16,130.72 348.41,130.66 348.66,130.59 348.91,130.52 349.16,130.45 349.4,130.38 349.65,130.31 349.9,130.24 350.15,130.17 350.4,130.1 350.64,130.03 350.89,129.96 351.14,129.89 351.39,129.82 351.63,129.75 351.88,129.68 352.13,129.61 352.38,129.54 352.63,129.46 352.87,129.39 353.12,129.32 353.37,129.25 353.62,129.18 353.87,129.11 354.11,129.03 354.36,128.96 354.61,128.89 354.86,128.82 355.11,128.74 355.35,128.67 355.6,128.6 355.85,128.53 356.1,128.45 356.35,128.38 356.59,128.31 356.84,128.23 357.09,128.16 357.34,128.08 357.59,128.01 357.83,127.94 358.08,127.86 358.33,127.79 358.58,127.71 358.82,127.64 359.07,127.56 359.32,127.49 359.57,127.41 359.82,127.34 360.06,127.26 360.31,127.19 360.56,127.11 360.81,127.03 361.06,126.96 361.3,126.88 361.55,126.81 361.8,126.73 362.05,126.65 362.3,126.58 362.54,126.5 362.79,126.42 363.04,126.35 363.29,126.27 363.54,126.19 363.78,126.11 364.03,126.04 364.28,125.96 364.53,125.88 364.77,125.8 365.02,125.72 365.27,125.65 365.52,125.57 365.77,125.49 366.01,125.41 366.26,125.33 366.51,125.25 366.76,125.17 367.01,125.1 367.25,125.02 367.5,124.94 367.75,124.86 368,124.78 368.25,124.7 368.49,124.62 368.74,124.54 368.99,124.46 369.24,124.38 369.49,124.3 369.73,124.22 369.98,124.14 370.23,124.06 370.48,123.98 370.72,123.89 370.97,123.81 371.22,123.73 371.47,123.65 371.72,123.57 371.96,123.49 372.21,123.41 372.46,123.33 372.71,123.24 372.96,123.16 373.2,123.08 373.45,123 373.7,122.92 373.95,122.83 374.2,122.75 374.44,122.67 374.69,122.58 374.94,122.5 375.19,122.42 375.44,122.34 375.68,122.25 375.93,122.17 376.18,122.09 376.43,122 376.67,121.92 376.92,121.84 377.17,121.75 377.42,121.67 377.67,121.58 377.91,121.5 378.16,121.42 378.41,121.33 378.66,121.25 378.91,121.16 379.15,121.08 379.4,120.99 379.65,120.91 379.9,120.82 380.15,120.74 380.39,120.65 380.64,120.57 380.89,120.48 381.14,120.4 381.39,120.31 381.63,120.23 381.88,120.14 382.13,120.05 382.38,119.97 382.62,119.88 382.87,119.8 383.12,119.71 383.37,119.62 383.62,119.54 383.86,119.45 384.11,119.36 384.36,119.28 384.61,119.19 384.86,119.1 385.1,119.02 385.35,118.93 385.6,118.84 385.85,118.76 386.1,118.67 386.34,118.58 386.59,118.49 386.84,118.41 387.09,118.32 387.34,118.23 387.58,118.14 387.83,118.05 388.08,117.97 388.33,117.88 388.58,117.79 388.82,117.7 389.07,117.61 389.32,117.52 389.57,117.44 389.81,117.35 390.06,117.26 390.31,117.17 390.56,117.08 390.81,116.99 391.05,116.9 391.3,116.81 391.55,116.72 391.8,116.63 392.05,116.54 392.29,116.45 392.54,116.37 392.79,116.28 393.04,116.19 393.29,116.1 393.53,116.01 393.78,115.92 394.03,115.83 394.28,115.74 394.53,115.65 394.77,115.56 395.02,115.46 395.27,115.37 395.52,115.28 395.76,115.19 396.01,115.1 396.26,115.01 396.51,114.92 396.76,114.83 397,114.74 397.25,114.65 397.5,114.56 397.75,114.47 398,114.37 398.24,114.28 398.49,114.19 398.74,114.1 398.99,114.01 399.24,113.92 399.48,113.82 399.73,113.73 399.98,113.64 400.23,113.55 400.48,113.46 400.72,113.37 400.97,113.27 401.22,113.18 401.47,113.09 401.71,113 401.96,112.9 402.21,112.81 402.46,112.72 402.71,112.63 402.95,112.53 403.2,112.44 403.45,112.35 403.7,112.26 403.95,112.16 404.19,112.07 404.44,111.98 404.69,111.88 404.94,111.79 405.19,111.7 405.43,111.6 405.68,111.51 405.93,111.42 406.18,111.32 406.43,111.23 406.67,111.14 406.92,111.04 407.17,110.95 407.42,110.86 407.66,110.76 407.91,110.67 408.16,110.57 408.41,110.48 408.66,110.39 408.9,110.29 409.15,110.2 409.4,110.1 409.65,110.01 409.9,109.92 410.14,109.82 410.39,109.73 410.64,109.63 410.89,109.54 411.14,109.44 411.38,109.35 411.63,109.25 411.88,109.16 412.13,109.06 412.38,108.97 412.62,108.88 412.87,108.78 413.12,108.69 413.37,108.59 413.61,108.5 413.86,108.4 414.11,108.31 414.36,108.21 414.61,108.11 414.85,108.02 415.1,107.92 415.35,107.83 415.6,107.73 415.85,107.64 416.09,107.54 416.34,107.45 416.59,107.35 416.84,107.26 417.09,107.16 417.33,107.06 417.58,106.97 417.83,106.87 418.08,106.78 418.33,106.68 418.57,106.59 418.82,106.49 419.07,106.39 419.32,106.3 419.57,106.2 419.81,106.11 420.06,106.01 420.31,105.91 420.56,105.82 420.8,105.72 421.05,105.63 421.3,105.53 421.55,105.43 421.8,105.34 422.04,105.24 422.29,105.14 422.54,105.05 422.79,104.95 423.04,104.85 423.28,104.76 423.53,104.66 423.78,104.57 424.03,104.47 424.28,104.37 424.52,104.28 424.77,104.18 425.02,104.08 425.27,103.99 425.52,103.89 425.76,103.79 426.01,103.7 426.26,103.6 426.51,103.5 426.75,103.4 427,103.31 427.25,103.21 427.5,103.11 427.75,103.02 427.99,102.92 428.24,102.82 428.49,102.73 428.74,102.63 428.99,102.53 429.23,102.43 429.48,102.34 429.73,102.24 429.98,102.14 430.23,102.05 430.47,101.95 430.72,101.85 430.97,101.75 431.22,101.66 431.47,101.56 431.71,101.46 431.96,101.37 432.21,101.27 432.46,101.17 432.7,101.07 432.95,100.98 433.2,100.88 433.45,100.78 433.7,100.68 433.94,100.59 434.19,100.49 434.44,100.39 434.69,100.29 434.94,100.2 435.18,100.1 435.43,100 435.68,99.9 435.93,99.81 436.18,99.71 436.42,99.61 436.67,99.51 436.92,99.42 437.17,99.32 437.42,99.22 437.66,99.12 437.91,99.03 438.16,98.93 438.41,98.83 438.65,98.73 438.9,98.64 439.15,98.54 439.4,98.44 439.65,98.34 439.89,98.25 440.14,98.15 440.39,98.05 440.64,97.95 440.89,97.86 441.13,97.76 441.38,97.66 441.63,97.56 441.88,97.47 442.13,97.37 442.37,97.27 442.62,97.17 442.87,97.08 443.12,96.98 443.37,96.88 443.61,96.78 443.86,96.69 444.11,96.59 444.36,96.49 444.6,96.39 444.85,96.29 445.1,96.2 445.35,96.1 445.6,96 445.84,95.9 446.09,95.81 446.34,95.71 446.59,95.61 446.84,95.51 447.08,95.42 447.33,95.32 447.58,95.22 447.83,95.12 448.08,95.03 448.32,94.93 448.57,94.83 448.82,94.74 449.07,94.64 449.32,94.54 449.56,94.44 449.81,94.35 450.06,94.25 450.31,94.15 450.55,94.05 450.8,93.96 451.05,93.86 451.3,93.76 451.55,93.66 451.79,93.57 452.04,93.47 452.29,93.37 452.54,93.28 452.79,93.18 453.03,93.08 453.28,92.98 453.53,92.89 453.78,92.79 454.03,92.69 454.27,92.6 454.52,92.5 454.77,92.4 455.02,92.31 455.27,92.21 455.51,92.11 455.76,92.01 456.01,91.92 456.26,91.82 456.51,91.72 456.75,91.63 457,91.53 457.25,91.43 457.5,91.34 457.74,91.24 457.99,91.14 458.24,91.05 458.49,90.95 458.74,90.85 458.98,90.76 459.23,90.66 459.48,90.56 459.73,90.47 459.98,90.37 460.22,90.28 460.47,90.18 460.72,90.08 460.97,89.99 461.22,89.89 461.46,89.79 461.71,89.7 461.96,89.6 462.21,89.51 462.46,89.41 462.7,89.31 462.95,89.22 463.2,89.12 463.45,89.03 463.69,88.93 463.94,88.83 464.19,88.74 464.44,88.64 464.69,88.55 464.93,88.45 465.18,88.35 465.43,88.26 465.68,88.16 465.93,88.07 466.17,87.97 466.42,87.88 466.67,87.78 466.92,87.69 467.17,87.59 467.41,87.5 467.66,87.4 467.91,87.31 468.16,87.21 468.41,87.11 468.65,87.02 468.9,86.92 469.15,86.83 469.4,86.73 469.64,86.64 469.89,86.55 470.14,86.45 470.39,86.36 470.64,86.26 470.88,86.17 471.13,86.07 471.38,85.98 471.63,85.88 471.88,85.79 472.12,85.69 472.37,85.6 472.62,85.5 472.87,85.41 473.12,85.32 473.36,85.22 473.61,85.13 473.86,85.03 474.11,84.94 474.36,84.85 474.6,84.75 474.85,84.66 475.1,84.56 475.35,84.47 475.59,84.38 475.84,84.28 476.09,84.19 476.34,84.1 476.59,84 476.83,83.91 477.08,83.82 477.33,83.72 477.58,83.63 477.83,83.54 478.07,83.44 478.32,83.35 478.57,83.26 478.82,83.17 479.07,83.07 479.31,82.98 479.56,82.89 479.81,82.79 480.06,82.7 480.31,82.61 480.55,82.52 480.8,82.42 481.05,82.33 481.3,82.24 481.54,82.15 481.79,82.06 482.04,81.96 482.29,81.87 482.54,81.78 482.78,81.69 483.03,81.6 483.28,81.5 483.53,81.41 483.78,81.32 484.02,81.23 484.27,81.14 484.52,81.05 484.77,80.96 485.02,80.86 485.26,80.77 485.51,80.68 485.76,80.59 486.01,80.5 486.26,80.41 486.5,80.32 486.75,80.23 487,80.14 487.25,80.05 487.5,79.96 487.74,79.87 487.99,79.78 488.24,79.69 488.49,79.6 488.73,79.51 488.98,79.42 489.23,79.33 489.48,79.24 489.73,79.15 489.97,79.06 490.22,78.97 490.47,78.88 490.72,78.79 490.97,78.7 491.21,78.61 491.46,78.52 491.71,78.43 491.96,78.34 492.21,78.25 492.45,78.16 492.7,78.08 492.95,77.99 493.2,77.9 493.45,77.81 493.69,77.72 493.94,77.63 494.19,77.55 494.44,77.46 494.68,77.37 494.93,77.28 495.18,77.19 495.43,77.11 495.68,77.02 495.92,76.93 496.17,76.84 496.42,76.76 496.67,76.67 496.92,76.58 497.16,76.49 497.41,76.41 497.66,76.32 497.91,76.23 498.16,76.15 498.4,76.06 498.65,75.97 498.9,75.89 499.15,75.8 499.4,75.71 499.64,75.63 499.89,75.54 500.14,75.46 500.39,75.37 500.63,75.28 500.88,75.2 501.13,75.11 501.38,75.03 501.63,74.94 501.87,74.86 502.12,74.77 502.37,74.69 502.62,74.6 502.87,74.52 503.11,74.43 503.36,74.35 503.61,74.26 503.86,74.18 504.11,74.09 504.35,74.01 504.6,73.92 504.85,73.84 505.1,73.76 505.35,73.67 505.59,73.59 505.84,73.51 506.09,73.42 506.34,73.34 506.58,73.26 506.83,73.17 507.08,73.09 507.33,73.01 507.58,72.92 507.82,72.84 508.07,72.76 508.32,72.67 508.57,72.59 508.82,72.51 509.06,72.43 509.31,72.35 509.56,72.26 509.81,72.18 510.06,72.1 510.3,72.02 510.55,71.94 510.8,71.86 511.05,71.77 511.3,71.69 511.54,71.61 511.79,71.53 512.04,71.45 512.29,71.37 512.53,71.29 512.78,71.21 513.03,71.13 513.28,71.05 513.53,70.97 513.77,70.89 514.02,70.81 514.27,70.73 514.52,70.65 514.77,70.57 515.01,70.49 515.26,70.41 515.51,70.33 515.76,70.25 516.01,70.17 516.25,70.09 516.5,70.02 516.75,69.94 517,69.86 517.25,69.78 517.49,69.7 517.74,69.62 517.99,69.55 518.24,69.47 518.49,69.39 518.73,69.31 518.98,69.24 519.23,69.16 519.48,69.08 519.72,69 519.97,68.93 520.22,68.85 520.47,68.77 520.72,68.7 520.96,68.62 521.21,68.55 521.46,68.47 521.71,68.39 521.96,68.32 522.2,68.24 522.45,68.17 522.7,68.09 522.95,68.02 523.2,67.94 523.44,67.87 523.69,67.79 523.94,67.72 524.19,67.64 524.44,67.57 524.68,67.49 524.93,67.42 525.18,67.34 525.43,67.27 525.67,67.2 525.92,67.12 526.17,67.05 526.42,66.98 526.67,66.9 526.91,66.83 527.16,66.76 527.41,66.68 527.66,66.61 527.91,66.54 528.15,66.47 528.4,66.39 528.65,66.32 528.9,66.25 529.15,66.18 529.39,66.11 529.64,66.04 529.89,65.96 530.14,65.89 530.39,65.82 530.63,65.75 530.88,65.68 531.13,65.61 531.38,65.54 531.62,65.47 531.87,65.4 532.12,65.33 532.37,65.26 532.62,65.19 532.86,65.12 533.11,65.05 533.36,64.98 533.61,64.91 533.86,64.84 534.1,64.78 534.35,64.71 534.6,64.64 534.85,64.57 535.1,64.5 535.34,64.43 535.59,64.37 535.84,64.3 536.09,64.23 536.34,64.16 536.58,64.1 536.83,64.03 537.08,63.96 537.33,63.9 537.57,63.83 537.82,63.76 538.07,63.7 538.32,63.63 538.57,63.56 538.81,63.5 539.06,63.43 539.31,63.37 539.56,63.3 539.81,63.24 540.05,63.17 540.3,63.11 540.55,63.04 540.8,62.98 541.05,62.91 541.29,62.85 541.54,62.79 541.79,62.72 542.04,62.66 542.29,62.6 542.53,62.53 542.78,62.47 543.03,62.41 543.28,62.34 543.52,62.28 543.77,62.22 544.02,62.16 544.27,62.09 544.52,62.03 544.76,61.97 545.01,61.91 545.26,61.85 545.51,61.79 545.76,61.73 546,61.66 546.25,61.6 546.5,61.54" fill="none" stroke="#2f7db5" stroke-width="1" stroke-linejoin="round"/>
<polyline points="323.62,163.4 323.87,163.4 324.12,163.4 324.36,163.4 324.61,163.4 324.86,163.4 325.11,163.4 325.36,163.15 325.6,162.04 325.85,160.42 326.1,157.52 326.35,152.7 326.6,146.85 326.84,140.88 327.09,135.41 327.34,129.34 327.59,123.12 327.83,117.63 328.08,113.71 328.33,111.13 328.58,108.84 328.83,106.91 329.07,105.4 329.32,104.38 329.57,103.85 329.82,103.44 330.07,103.07 330.31,102.75 330.56,102.46 330.81,102.22 331.06,102.01 331.31,101.83 331.55,101.68 331.8,101.56 332.05,101.46 332.3,101.39 332.55,101.35 332.79,101.3 333.04,101.26 333.29,101.21 333.54,101.17 333.78,101.12 334.03,101.07 334.28,101.03 334.53,100.98 334.78,100.93 335.02,100.88 335.27,100.82 335.52,100.77 335.77,100.72 336.02,100.67 336.26,100.61 336.51,100.56 336.76,100.5 337.01,100.44 337.26,100.39 337.5,100.33 337.75,100.27 338,100.21 338.25,100.15 338.5,100.09 338.74,100.03 338.99,99.97 339.24,99.9 339.49,99.84 339.73,99.77 339.98,99.71 340.23,99.64 340.48,99.58 340.73,99.51 340.97,99.44 341.22,99.37 341.47,99.3 341.72,99.23 341.97,99.16 342.21,99.09 342.46,99.02 342.71,98.95 342.96,98.88 343.21,98.8 343.45,98.73 343.7,98.65 343.95,98.58 344.2,98.5 344.45,98.42 344.69,98.35 344.94,98.27 345.19,98.19 345.44,98.11 345.68,98.03 345.93,97.95 346.18,97.87 346.43,97.78 346.68,97.7 346.92,97.62 347.17,97.54 347.42,97.45 347.67,97.37 347.92,97.28 348.16,97.19 348.41,97.11 348.66,97.02 348.91,96.93 349.16,96.84 349.4,96.76 349.65,96.67 349.9,96.58 350.15,96.49 350.4,96.39 350.64,96.3 350.89,96.21 351.14,96.12 351.39,96.02 351.63,95.93 351.88,95.84 352.13,95.74 352.38,95.65 352.63,95.55 352.87,95.45 353.12,95.36 353.37,95.26 353.62,95.16 353.87,95.06 354.11,94.96 354.36,94.86 354.61,94.76 354.86,94.66 355.11,94.56 355.35,94.46 355.6,94.36 355.85,94.25 356.1,94.15 356.35,94.05 356.59,93.94 356.84,93.84 357.09,93.73 357.34,93.63 357.59,93.52 357.83,93.42 358.08,93.31 358.33,93.2 358.58,93.09 358.82,92.98 359.07,92.88 359.32,92.77 359.57,92.66 359.82,92.55 360.06,92.44 360.31,92.33 360.56,92.21 360.81,92.1 361.06,91.99 361.3,91.88 361.55,91.76 361.8,91.65 362.05,91.54 362.3,91.42 362.54,91.31 362.79,91.19 363.04,91.08 363.29,90.96 363.54,90.85 363.78,90.73 364.03,90.61 364.28,90.49 364.53,90.38 364.77,90.26 365.02,90.14 365.27,90.02 365.52,89.9 365.77,89.78 366.01,89.66 366.26,89.54 366.51,89.42 366.76,89.3 367.01,89.18 367.25,89.05 367.5,88.93 367.75,88.81 368,88.69 368.25,88.56 368.49,88.44 368.74,88.32 368.99,88.19 369.24,88.07 369.49,87.94 369.73,87.82 369.98,87.69 370.23,87.56 370.48,87.44 370.72,87.31 370.97,87.18 371.22,87.06 371.47,86.93 371.72,86.8 371.96,86.67 372.21,86.54 372.46,86.42 372.71,86.29 372.96,86.16 373.2,86.03 373.45,85.9 373.7,85.77 373.95,85.64 374.2,85.5 374.44,85.37 374.69,85.24 374.94,85.11 375.19,84.98 375.44,84.85 375.68,84.71 375.93,84.58 376.18,84.45 376.43,84.31 376.67,84.18 376.92,84.05 377.17,83.91 377.42,83.78 377.67,83.64 377.91,83.51 378.16,83.37 378.41,83.24 378.66,83.1 378.91,82.97 379.15,82.83 379.4,82.69 379.65,82.56 379.9,82.42 380.15,82.28 380.39,82.15 380.64,82.01 380.89,81.87 381.14,81.73 381.39,81.6 381.63,81.46 381.88,81.32 382.13,81.18 382.38,81.04 382.62,80.9 382.87,80.76 383.12,80.62 383.37,80.48 383.62,80.34 383.86,80.2 384.11,80.06 384.36,79.92 384.61,79.78 384.86,79.64 385.1,79.5 385.35,79.36 385.6,79.22 385.85,79.08 386.1,78.94 386.34,78.79 386.59,78.65 386.84,78.51 387.09,78.37 387.34,78.22 387.58,78.08 387.83,77.94 388.08,77.8 388.33,77.65 388.58,77.51 388.82,77.37 389.07,77.22 389.32,77.08 389.57,76.94 389.81,76.79 390.06,76.65 390.31,76.5 390.56,76.36 390.81,76.22 391.05,76.07 391.3,75.93 391.55,75.78 391.8,75.64 392.05,75.49 392.29,75.35 392.54,75.2 392.79,75.06 393.04,74.91 393.29,74.76 393.53,74.62 393.78,74.47 394.03,74.33 394.28,74.18 394.53,74.04 394.77,73.89 395.02,73.74 395.27,73.6 395.52,73.45 395.76,73.3 396.01,73.16 396.26,73.01 396.51,72.86 396.76,72.72 397,72.57 397.25,72.42 397.5,72.28 397.75,72.13 398,71.98 398.24,71.83 398.49,71.69 398.74,71.54 398.99,71.39 399.24,71.24 399.48,71.1 399.73,70.95 399.98,70.8 400.23,70.65 400.48,70.51 400.72,70.36 400.97,70.21 401.22,70.06 401.47,69.92 401.71,69.77 401.96,69.62 402.21,69.47 402.46,69.32 402.71,69.18 402.95,69.03 403.2,68.88 403.45,68.73 403.7,68.58 403.95,68.43 404.19,68.29 404.44,68.14 404.69,67.99 404.94,67.84 405.19,67.69 405.43,67.54 405.68,67.4 405.93,67.25 406.18,67.1 406.43,66.95 406.67,66.8 406.92,66.66 407.17,66.51 407.42,66.36 407.66,66.21 407.91,66.06 408.16,65.91 408.41,65.77 408.66,65.62 408.9,65.47 409.15,65.32 409.4,65.17 409.65,65.02 409.9,64.88 410.14,64.73 410.39,64.58 410.64,64.43 410.89,64.28 411.14,64.14 411.38,63.99 411.63,63.84 411.88,63.69 412.13,63.54 412.38,63.4 412.62,63.25 412.87,63.1 413.12,62.95 413.37,62.81 413.61,62.66 413.86,62.51 414.11,62.36 414.36,62.22 414.61,62.07 414.85,61.92 415.1,61.77 415.35,61.63 415.6,61.48 415.85,61.33 416.09,61.18 416.34,61.04 416.59,60.89 416.84,60.74 417.09,60.6 417.33,60.45 417.58,60.3 417.83,60.16 418.08,60.01 418.33,59.86 418.57,59.72 418.82,59.57 419.07,59.42 419.32,59.28 419.57,59.13 419.81,58.99 420.06,58.84 420.31,58.69 420.56,58.55 420.8,58.4 421.05,58.26 421.3,58.11 421.55,57.97 421.8,57.82 422.04,57.68 422.29,57.53 422.54,57.39 422.79,57.24 423.04,57.1 423.28,56.95 423.53,56.81 423.78,56.66 424.03,56.52 424.28,56.38 424.52,56.23 424.77,56.09 425.02,55.94 425.27,55.8 425.52,55.66 425.76,55.51 426.01,55.37 426.26,55.23 426.51,55.08 426.75,54.94 427,54.8 427.25,54.65 427.5,54.51 427.75,54.37 427.99,54.23 428.24,54.08 428.49,53.94 428.74,53.8 428.99,53.66 429.23,53.52 429.48,53.38 429.73,53.23 429.98,53.09 430.23,52.95 430.47,52.81 430.72,52.67 430.97,52.53 431.22,52.39 431.47,52.25 431.71,52.11 431.96,51.97 432.21,51.83 432.46,51.69 432.7,51.55 432.95,51.41 433.2,51.27 433.45,51.13 433.7,50.99 433.94,50.85 434.19,50.71 434.44,50.57 434.69,50.44 434.94,50.3 435.18,50.16 435.43,50.02 435.68,49.88 435.93,49.75 436.18,49.61 436.42,49.47 436.67,49.33 436.92,49.2 437.17,49.06 437.42,48.92 437.66,48.79 437.91,48.65 438.16,48.52 438.41,48.38 438.65,48.24 438.9,48.11 439.15,47.97 439.4,47.84 439.65,47.7 439.89,47.57 440.14,47.43 440.39,47.3 440.64,47.16 440.89,47.03 441.13,46.9 441.38,46.76 441.63,46.63 441.88,46.5 442.13,46.36 442.37,46.23 442.62,46.1 442.87,45.97 443.12,45.83 443.37,45.7 443.61,45.57 443.86,45.44 444.11,45.31 444.36,45.17 444.6,45.04 444.85,44.91 445.1,44.78 445.35,44.65 445.6,44.52 445.84,44.39 446.09,44.26 446.34,44.13 446.59,44 446.84,43.87 447.08,43.74 447.33,43.61 447.58,43.49 447.83,43.36 448.08,43.23 448.32,43.1 448.57,42.97 448.82,42.85 449.07,42.72 449.32,42.59 449.56,42.46 449.81,42.34 450.06,42.21 450.31,42.08 450.55,41.96 450.8,41.83 451.05,41.71 451.3,41.58 451.55,41.46 451.79,41.33 452.04,41.21 452.29,41.08 452.54,40.96 452.79,40.83 453.03,40.71 453.28,40.59 453.53,40.46 453.78,40.34 454.03,40.22 454.27,40.09 454.52,39.97 454.77,39.85 455.02,39.73 455.27,39.61 455.51,39.48 455.76,39.36 456.01,39.24 456.26,39.12 456.51,39 456.75,38.88 457,38.76 457.25,38.64 457.5,38.52 457.74,38.4 457.99,38.28 458.24,38.16 458.49,38.05 458.74,37.93 458.98,37.81 459.23,37.69 459.48,37.57 459.73,37.46 459.98,37.34 460.22,37.22 460.47,37.1 460.72,36.99 460.97,36.87 461.22,36.76 461.46,36.64 461.71,36.52 461.96,36.41 462.21,36.29 462.46,36.18 462.7,36.07 462.95,35.95 463.2,35.84 463.45,35.72 463.69,35.61 463.94,35.5 464.19,35.38 464.44,35.27 464.69,35.16 464.93,35.05 465.18,34.93 465.43,34.82 465.68,34.71 465.93,34.6 466.17,34.49 466.42,34.38 466.67,34.27 466.92,34.16 467.17,34.05 467.41,33.94 467.66,33.83 467.91,33.72 468.16,33.61 468.41,33.5 468.65,33.39 468.9,33.28 469.15,33.18 469.4,33.07 469.64,32.96 469.89,32.85 470.14,32.75 470.39,32.64 470.64,32.53 470.88,32.43 471.13,32.32 471.38,32.22 471.63,32.11 471.88,32.01 472.12,31.9 472.37,31.8 472.62,31.69 472.87,31.59 473.12,31.48 473.36,31.38 473.61,31.28 473.86,31.18 474.11,31.07 474.36,30.97 474.6,30.87 474.85,30.77 475.1,30.66 475.35,30.56 475.59,30.46 475.84,30.36 476.09,30.26 476.34,30.16 476.59,30.06 476.83,29.96 477.08,29.86 477.33,29.76 477.58,29.66 477.83,29.56 478.07,29.46 478.32,29.37 478.57,29.27 478.82,29.17 479.07,29.07 479.31,28.98 479.56,28.88 479.81,28.78 480.06,28.69 480.31,28.59 480.55,28.49 480.8,28.4 481.05,28.3 481.3,28.21 481.54,28.11 481.79,28.02 482.04,27.92 482.29,27.83 482.54,27.74 482.78,27.64 483.03,27.55 483.28,27.46 483.53,27.36 483.78,27.27 484.02,27.18 484.27,27.09 484.52,27 484.77,26.91 485.02,26.81 485.26,26.72 485.51,26.63 485.76,26.54 486.01,26.45 486.26,26.36 486.5,26.27 486.75,26.18 487,26.09 487.25,26.01 487.5,25.92 487.74,25.83 487.99,25.74 488.24,25.65 488.49,25.57 488.73,25.48 488.98,25.39 489.23,25.31 489.48,25.22 489.73,25.13 489.97,25.05 490.22,24.96 490.47,24.88 490.72,24.79 490.97,24.71 491.21,24.62 491.46,24.54 491.71,24.45 491.96,24.37 492.21,24.29 492.45,24.2 492.7,24.12 492.95,24.04 493.2,23.95 493.45,23.87 493.69,23.79 493.94,23.71 494.19,23.63 494.44,23.55 494.68,23.46 494.93,23.38 495.18,23.3 495.43,23.22 495.68,23.14 495.92,23.06 496.17,22.98 496.42,22.9 496.67,22.83 496.92,22.75 497.16,22.67 497.41,22.59 497.66,22.51 497.91,22.43 498.16,22.36 498.4,22.28 498.65,22.2 498.9,22.13 499.15,22.05 499.4,21.97 499.64,21.9 499.89,21.82 500.14,21.75 500.39,21.67 500.63,21.6 500.88,21.52 501.13,21.45 501.38,21.37 501.63,21.3 501.87,21.23 502.12,21.15 502.37,21.08 502.62,21.01 502.87,20.93 503.11,20.86 503.36,20.79 503.61,20.72 503.86,20.64 504.11,20.57 504.35,20.5 504.6,20.43 504.85,20.36 505.1,20.29 505.35,20.22 505.59,20.15 505.84,20.08 506.09,20.01 506.34,19.94 506.58,19.87 506.83,19.8 507.08,19.73 507.33,19.66 507.58,19.59 507.82,19.53 508.07,19.46 508.32,19.39 508.57,19.32 508.82,19.26 509.06,19.19 509.31,19.12 509.56,19.06 509.81,18.99 510.06,18.92 510.3,18.86 510.55,18.79 510.8,18.73 511.05,18.66 511.3,18.6 511.54,18.53 511.79,18.47 512.04,18.4 512.29,18.34 512.53,18.28 512.78,18.21 513.03,18.15 513.28,18.09 513.53,18.02 513.77,17.96 514.02,17.9 514.27,17.83 514.52,17.77 514.77,17.71 515.01,17.65 515.26,17.59 515.51,17.53 515.76,17.46 516.01,17.4 516.25,17.34 516.5,17.28 516.75,17.22 517,17.16 517.25,17.1 517.49,17.04 517.74,16.98 517.99,16.92 518.24,16.86 518.49,16.81 518.73,16.75 518.98,16.69 519.23,16.63 519.48,16.57 519.72,16.51 519.97,16.46 520.22,16.4 520.47,16.34 520.72,16.28 520.96,16.23 521.21,16.17 521.46,16.11 521.71,16.06 521.96,16 522.2,15.94 522.45,15.89 522.7,15.83 522.95,15.78 523.2,15.72 523.44,15.67 523.69,15.61 523.94,15.56 524.19,15.5 524.44,15.45 524.68,15.39 524.93,15.34 525.18,15.28 525.43,15.23 525.67,15.18 525.92,15.12 526.17,15.07 526.42,15.02 526.67,14.96 526.91,14.91 527.16,14.86 527.41,14.81 527.66,14.75 527.91,14.7 528.15,14.65 528.4,14.6 528.65,14.55 528.9,14.49 529.15,14.44 529.39,14.39 529.64,14.34 529.89,14.29 530.14,14.24 530.39,14.19 530.63,14.14 530.88,14.09 531.13,14.04 531.38,13.99 531.62,13.94 531.87,13.89 532.12,13.84 532.37,13.79 532.62,13.74 532.86,13.69 533.11,13.64 533.36,13.59 533.61,13.54 533.86,13.49 534.1,13.44 534.35,13.4 534.6,13.35 534.85,13.3 535.1,13.25 535.34,13.2 535.59,13.15 535.84,13.11 536.09,13.06 536.34,13.01 536.58,12.96 536.83,12.92 537.08,12.87 537.33,12.82 537.57,12.78 537.82,12.73 538.07,12.68 538.32,12.64 538.57,12.59 538.81,12.54 539.06,12.5 539.31,12.45 539.56,12.4 539.81,12.36 540.05,12.31 540.3,12.27 540.55,12.22 540.8,12.17 541.05,12.13 541.29,12.08 541.54,12.04 541.79,11.99 542.04,11.95 542.29,11.9 542.53,11.86 542.78,11.81 543.03,11.77 543.28,11.72 543.52,11.68 543.77,11.63 544.02,11.59 544.27,11.54 544.52,11.5 544.76,11.45 545.01,11.41 545.26,11.37 545.51,11.32 545.76,11.28 546,11.23 546.25,11.19 546.5,11.14" fill="none" stroke="#c0383a" stroke-width="1" stroke-linejoin="round"/>
<rect x="322.5" y="4.5" width="224" height="166" fill="none" stroke="#5a5a5a" stroke-width="0.9"/>
<line x1="322.5" y1="170.5" x2="322.5" y2="172.5" stroke="#5a5a5a" stroke-width="0.8"/>
<text x="322.5" y="181.6" font-size="9.8" text-anchor="middle" textLength="5.73" lengthAdjust="spacingAndGlyphs">0</text>
<line x1="359.83" y1="170.5" x2="359.83" y2="172.5" stroke="#5a5a5a" stroke-width="0.8"/>
<text x="359.83" y="181.6" font-size="9.8" text-anchor="middle" textLength="11.45" lengthAdjust="spacingAndGlyphs">50</text>
<line x1="397.17" y1="170.5" x2="397.17" y2="172.5" stroke="#5a5a5a" stroke-width="0.8"/>
<text x="397.17" y="181.6" font-size="9.8" text-anchor="middle" textLength="17.18" lengthAdjust="spacingAndGlyphs">100</text>
<line x1="434.5" y1="170.5" x2="434.5" y2="172.5" stroke="#5a5a5a" stroke-width="0.8"/>
<text x="434.5" y="181.6" font-size="9.8" text-anchor="middle" textLength="17.18" lengthAdjust="spacingAndGlyphs">150</text>
<line x1="471.83" y1="170.5" x2="471.83" y2="172.5" stroke="#5a5a5a" stroke-width="0.8"/>
<text x="471.83" y="181.6" font-size="9.8" text-anchor="middle" textLength="17.18" lengthAdjust="spacingAndGlyphs">200</text>
<line x1="509.17" y1="170.5" x2="509.17" y2="172.5" stroke="#5a5a5a" stroke-width="0.8"/>
<text x="509.17" y="181.6" font-size="9.8" text-anchor="middle" textLength="17.18" lengthAdjust="spacingAndGlyphs">250</text>
<line x1="546.5" y1="170.5" x2="546.5" y2="172.5" stroke="#5a5a5a" stroke-width="0.8"/>
<text x="546.5" y="181.6" font-size="9.8" text-anchor="middle" textLength="17.18" lengthAdjust="spacingAndGlyphs">300</text>
<line x1="320.5" y1="163.4" x2="322.5" y2="163.4" stroke="#5a5a5a" stroke-width="0.8"/>
<text x="319.3" y="166.9" font-size="9.8" text-anchor="end" textLength="14.31" lengthAdjust="spacingAndGlyphs">0.0</text>
<line x1="320.5" y1="132.98" x2="322.5" y2="132.98" stroke="#5a5a5a" stroke-width="0.8"/>
<text x="319.3" y="136.48" font-size="9.8" text-anchor="end" textLength="14.31" lengthAdjust="spacingAndGlyphs">0.5</text>
<line x1="320.5" y1="102.56" x2="322.5" y2="102.56" stroke="#5a5a5a" stroke-width="0.8"/>
<text x="319.3" y="106.06" font-size="9.8" text-anchor="end" textLength="14.31" lengthAdjust="spacingAndGlyphs">1.0</text>
<line x1="320.5" y1="72.14" x2="322.5" y2="72.14" stroke="#5a5a5a" stroke-width="0.8"/>
<text x="319.3" y="75.64" font-size="9.8" text-anchor="end" textLength="14.31" lengthAdjust="spacingAndGlyphs">1.5</text>
<line x1="320.5" y1="41.72" x2="322.5" y2="41.72" stroke="#5a5a5a" stroke-width="0.8"/>
<text x="319.3" y="45.22" font-size="9.8" text-anchor="end" textLength="14.31" lengthAdjust="spacingAndGlyphs">2.0</text>
<line x1="320.5" y1="11.3" x2="322.5" y2="11.3" stroke="#5a5a5a" stroke-width="0.8"/>
<text x="319.3" y="14.8" font-size="9.8" text-anchor="end" textLength="14.31" lengthAdjust="spacingAndGlyphs">2.5</text>
<text x="434.2" y="192.2" font-size="9.8" text-anchor="middle" textLength="72" lengthAdjust="spacingAndGlyphs">Temperature (K)</text>
<text x="300.6" y="87.5" font-size="9.4" text-anchor="middle" textLength="47.5" lengthAdjust="spacingAndGlyphs" transform="rotate(-90 300.6 87.5)"><tspan font-style="italic">ρ</tspan> (<tspan font-style="italic">m</tspan>Ω.cm)</text>
<line x1="330.1" y1="15.2" x2="347.5" y2="15.2" stroke="#c25a5c" stroke-width="1.1"/>
<line x1="330.1" y1="28.1" x2="347.5" y2="28.1" stroke="#6aa4d0" stroke-width="1.1"/>
<text x="354.2" y="18.9" font-size="9.2" textLength="100.3" lengthAdjust="spacingAndGlyphs"><tspan font-style="italic">Pr</tspan><tspan font-size="6.6" dy="1.8">0.8</tspan><tspan font-style="italic" dy="-1.8">Sr</tspan><tspan font-size="6.6" dy="1.8">0.2</tspan><tspan font-style="italic" dy="-1.8">NiO</tspan><tspan font-size="6.6" dy="1.8">2</tspan><tspan dy="-1.8"> by </tspan><tspan font-style="italic">ex situ</tspan></text>
<text x="354.2" y="31.7" font-size="9.2" textLength="97.8" lengthAdjust="spacingAndGlyphs"><tspan font-style="italic">Pr</tspan><tspan font-size="6.6" dy="1.8">0.8</tspan><tspan font-style="italic" dy="-1.8">Sr</tspan><tspan font-size="6.6" dy="1.8">0.2</tspan><tspan font-style="italic" dy="-1.8">NiO</tspan><tspan font-size="6.6" dy="1.8">2</tspan><tspan dy="-1.8"> by </tspan><tspan font-style="italic">in situ</tspan></text>
<text x="285.9" y="14.2" font-size="13" textLength="11" lengthAdjust="spacingAndGlyphs">b)</text>
<clipPath id="cc"><rect x="597" y="5.5" width="84" height="163"/></clipPath>
<g clip-path="url(#cc)">
<polyline points="603.05,168.5 603.2,168.49 603.36,168.49 603.52,168.48 603.67,168.47 603.83,168.46 603.99,168.45 604.14,168.44 604.3,168.43 604.45,168.42 604.61,168.41 604.77,168.4 604.92,168.39 605.08,168.38 605.24,168.37 605.39,168.35 605.55,168.34 605.7,168.33 605.86,168.31 606.02,168.3 606.17,168.29 606.33,168.27 606.48,168.26 606.64,168.24 606.8,168.23 606.95,168.21 607.11,168.2 607.27,168.18 607.42,168.16 607.58,168.15 607.73,168.13 607.89,168.11 608.05,168.1 608.2,168.08 608.36,168.06 608.52,168.05 608.67,168.03 608.83,168.01 608.98,168 609.14,167.98 609.3,167.96 609.45,167.94 609.61,167.93 609.77,167.91 609.92,167.89 610.08,167.87 610.23,167.85 610.39,167.83 610.55,167.81 610.7,167.79 610.86,167.76 611.02,167.74 611.17,167.72 611.33,167.69 611.48,167.67 611.64,167.64 611.8,167.61 611.95,167.58 612.11,167.55 612.26,167.52 612.42,167.49 612.58,167.45 612.73,167.42 612.89,167.38 613.05,167.35 613.2,167.31 613.36,167.27 613.51,167.22 613.67,167.18 613.83,167.13 613.98,167.08 614.14,167.03 614.3,166.96 614.45,166.89 614.61,166.81 614.76,166.72 614.92,166.63 615.08,166.52 615.23,166.41 615.39,166.29 615.55,166.16 615.7,166.02 615.86,165.88 616.01,165.72 616.17,165.56 616.33,165.38 616.48,165.2 616.64,165 616.8,164.8 616.95,164.58 617.11,164.35 617.26,164.06 617.42,163.68 617.58,163.24 617.73,162.73 617.89,162.15 618.04,161.52 618.2,160.84 618.36,160.12 618.51,159.35 618.67,158.54 618.83,157.71 618.98,156.78 619.14,155.66 619.29,154.39 619.45,152.98 619.61,151.45 619.76,149.83 619.92,148.15 620.08,146.42 620.23,144.67 620.39,142.93 620.54,141.2 620.7,139.53 620.86,137.93 621.01,136.4 621.17,134.92 621.33,133.49 621.48,132.09 621.64,130.72 621.79,129.36 621.95,128.02 622.11,126.68 622.26,125.34 622.42,123.98 622.58,122.61 622.73,121.21 622.89,119.77 623.04,118.29 623.2,116.75 623.36,115.16 623.51,113.5 623.67,111.77 623.82,109.95 623.98,108.04 624.14,106.04 624.29,103.93 624.45,101.7 624.61,99.29 624.76,96.12 624.92,92.34 625.07,88.33 625.23,84.48 625.39,81.17 625.54,78.65 625.7,76.37 625.86,74.21 626.01,72.18 626.17,70.27 626.32,68.47 626.48,66.78 626.64,65.19 626.79,63.68 626.95,62.27 627.11,60.93 627.26,59.66 627.42,58.46 627.57,57.3 627.73,56.19 627.89,55.13 628.04,54.11 628.2,53.14 628.36,52.21 628.51,51.32 628.67,50.47 628.82,49.66 628.98,48.89 629.14,48.15 629.29,47.45 629.45,46.76 629.6,46.09 629.76,45.43 629.92,44.79 630.07,44.16 630.23,43.56 630.39,42.98 630.54,42.42 630.7,41.9 630.85,41.4 631.01,40.93 631.17,40.49 631.32,40.09 631.48,39.73 631.64,39.4 631.79,39.1 631.95,38.81 632.1,38.53 632.26,38.27 632.42,38.01 632.57,37.77 632.73,37.53 632.89,37.31 633.04,37.1 633.2,36.89 633.35,36.69 633.51,36.5 633.67,36.32 633.82,36.15 633.98,35.98 634.14,35.82 634.29,35.67 634.45,35.52 634.6,35.38 634.76,35.24 634.92,35.1 635.07,34.97 635.23,34.83 635.38,34.7 635.54,34.57 635.7,34.45 635.85,34.32 636.01,34.2 636.17,34.08 636.32,33.96 636.48,33.84 636.63,33.73 636.79,33.62 636.95,33.51 637.1,33.4 637.26,33.29 637.42,33.19 637.57,33.09 637.73,32.99 637.88,32.89 638.04,32.8 638.2,32.71 638.35,32.62 638.51,32.53 638.67,32.45 638.82,32.36 638.98,32.28 639.13,32.2 639.29,32.13 639.45,32.06 639.6,31.98 639.76,31.91 639.92,31.85 640.07,31.78 640.23,31.72 640.38,31.66 640.54,31.61 640.7,31.55 640.85,31.5 641.01,31.44 641.16,31.39 641.32,31.34 641.48,31.29 641.63,31.24 641.79,31.19 641.95,31.14 642.1,31.09 642.26,31.04 642.41,30.99 642.57,30.95 642.73,30.9 642.88,30.86 643.04,30.81 643.2,30.77 643.35,30.72 643.51,30.68 643.66,30.64 643.82,30.6 643.98,30.55 644.13,30.51 644.29,30.47 644.45,30.43 644.6,30.39 644.76,30.35 644.91,30.32 645.07,30.28 645.23,30.24 645.38,30.2 645.54,30.17 645.7,30.13 645.85,30.09 646.01,30.06 646.16,30.02 646.32,29.99 646.48,29.95 646.63,29.92 646.79,29.89 646.94,29.85 647.1,29.82 647.26,29.79 647.41,29.76 647.57,29.72 647.73,29.69 647.88,29.66 648.04,29.63 648.19,29.6 648.35,29.57 648.51,29.54 648.66,29.51 648.82,29.48 648.98,29.45 649.13,29.42 649.29,29.39 649.44,29.36 649.6,29.33 649.76,29.31 649.91,29.28 650.07,29.25 650.23,29.22 650.38,29.19 650.54,29.17 650.69,29.14 650.85,29.11 651.01,29.08 651.16,29.06 651.32,29.03 651.48,29 651.63,28.97 651.79,28.95 651.94,28.92 652.1,28.89 652.26,28.87 652.41,28.84 652.57,28.81 652.72,28.78 652.88,28.76 653.04,28.73 653.19,28.7 653.35,28.68 653.51,28.65 653.66,28.62 653.82,28.6 653.97,28.57 654.13,28.54 654.29,28.51 654.44,28.49 654.6,28.46 654.76,28.43 654.91,28.4 655.07,28.37 655.22,28.35 655.38,28.32 655.54,28.29 655.69,28.26 655.85,28.23 656.01,28.2 656.16,28.17 656.32,28.14 656.47,28.11 656.63,28.08 656.79,28.05 656.94,28.02 657.1,27.99 657.26,27.96 657.41,27.93 657.57,27.89 657.72,27.86 657.88,27.83 658.04,27.8 658.19,27.77 658.35,27.74 658.5,27.7 658.66,27.67 658.82,27.64 658.97,27.61 659.13,27.58 659.29,27.55 659.44,27.51 659.6,27.48 659.75,27.45 659.91,27.42 660.07,27.39 660.22,27.36 660.38,27.33 660.54,27.29 660.69,27.26 660.85,27.23 661,27.2 661.16,27.17 661.32,27.14 661.47,27.11 661.63,27.07 661.79,27.04 661.94,27.01 662.1,26.98 662.25,26.95 662.41,26.92 662.57,26.89 662.72,26.86 662.88,26.83 663.04,26.8 663.19,26.76 663.35,26.73 663.5,26.7 663.66,26.67 663.82,26.64 663.97,26.61 664.13,26.58 664.28,26.55 664.44,26.52 664.6,26.49 664.75,26.46 664.91,26.43 665.07,26.39 665.22,26.36 665.38,26.33 665.53,26.3 665.69,26.27 665.85,26.24 666,26.21 666.16,26.18 666.32,26.15 666.47,26.12 666.63,26.09 666.78,26.06 666.94,26.03 667.1,26 667.25,25.97 667.41,25.94 667.57,25.91 667.72,25.88 667.88,25.85 668.03,25.82 668.19,25.79 668.35,25.76 668.5,25.73 668.66,25.7 668.82,25.67 668.97,25.64 669.13,25.61 669.28,25.58 669.44,25.55 669.6,25.52 669.75,25.49 669.91,25.46 670.06,25.43 670.22,25.4 670.38,25.37 670.53,25.34 670.69,25.31 670.85,25.28 671,25.25 671.16,25.22 671.31,25.19 671.47,25.16 671.63,25.13 671.78,25.1 671.94,25.07 672.1,25.05 672.25,25.02 672.41,24.99 672.56,24.96 672.72,24.93 672.88,24.9 673.03,24.87 673.19,24.84 673.35,24.81 673.5,24.78 673.66,24.75 673.81,24.73 673.97,24.7 674.13,24.67 674.28,24.64 674.44,24.61 674.6,24.58 674.75,24.55 674.91,24.52 675.06,24.49 675.22,24.47 675.38,24.44 675.53,24.41 675.69,24.38 675.84,24.35 676,24.32 676.16,24.29 676.31,24.27 676.47,24.24 676.63,24.21 676.78,24.18 676.94,24.15 677.09,24.12 677.25,24.1 677.41,24.07 677.56,24.04 677.72,24.01 677.88,23.98 678.03,23.96 678.19,23.93 678.34,23.9 678.5,23.87 678.66,23.84 678.81,23.82 678.97,23.79 679.13,23.76 679.28,23.73 679.44,23.71 679.59,23.68 679.75,23.65 679.91,23.62 680.06,23.59 680.22,23.57 680.38,23.54 680.53,23.51 680.69,23.48 680.84,23.46 681,23.43" fill="none" stroke="#d9444a" stroke-width="1.1" stroke-linejoin="round"/>
<polyline points="645.72,168.5 645.84,168.48 645.96,168.44 646.07,168.37 646.19,168.27 646.31,168.16 646.43,168.03 646.55,167.88 646.66,167.7 646.78,167.41 646.9,167 647.02,166.5 647.14,165.92 647.25,165.28 647.37,164.59 647.49,163.82 647.61,162.83 647.73,161.66 647.84,160.34 647.96,158.91 648.08,157.39 648.2,155.81 648.32,154.22 648.43,152.64 648.55,151.09 648.67,149.47 648.79,147.77 648.91,146 649.02,144.18 649.14,142.33 649.26,140.48 649.38,138.63 649.5,136.82 649.61,135.07 649.73,133.38 649.85,131.76 649.97,130.1 650.09,128.41 650.2,126.72 650.32,125.06 650.44,123.46 650.56,121.94 650.68,120.54 650.79,119.29 650.91,118.21 651.03,117.32 651.15,116.55 651.27,115.84 651.38,115.19 651.5,114.6 651.62,114.06 651.74,113.56 651.86,113.1 651.97,112.67 652.09,112.25 652.21,111.85 652.33,111.46 652.45,111.11 652.56,110.78 652.68,110.5 652.8,110.26 652.92,110.08 653.04,109.93 653.15,109.78 653.27,109.64 653.39,109.51 653.51,109.38 653.63,109.26 653.74,109.14 653.86,109.02 653.98,108.91 654.1,108.81 654.22,108.71 654.33,108.61 654.45,108.52 654.57,108.43 654.69,108.34 654.81,108.26 654.92,108.18 655.04,108.1 655.16,108.03 655.28,107.96 655.4,107.89 655.51,107.82 655.63,107.76 655.75,107.7 655.87,107.64 655.99,107.58 656.1,107.52 656.22,107.46 656.34,107.41 656.46,107.35 656.58,107.3 656.69,107.25 656.81,107.19 656.93,107.14 657.05,107.09 657.17,107.03 657.28,106.98 657.4,106.93 657.52,106.88 657.64,106.83 657.76,106.78 657.87,106.72 657.99,106.67 658.11,106.63 658.23,106.58 658.35,106.53 658.46,106.48 658.58,106.43 658.7,106.38 658.82,106.34 658.94,106.29 659.05,106.24 659.17,106.2 659.29,106.15 659.41,106.11 659.53,106.06 659.64,106.02 659.76,105.97 659.88,105.93 660,105.88 660.12,105.84 660.23,105.8 660.35,105.76 660.47,105.71 660.59,105.67 660.71,105.63 660.82,105.59 660.94,105.55 661.06,105.51 661.18,105.47 661.3,105.43 661.41,105.39 661.53,105.35 661.65,105.31 661.77,105.28 661.89,105.24 662,105.2 662.12,105.16 662.24,105.13 662.36,105.09 662.48,105.05 662.59,105.02 662.71,104.98 662.83,104.95 662.95,104.91 663.07,104.88 663.18,104.84 663.3,104.81 663.42,104.77 663.54,104.74 663.65,104.71 663.77,104.67 663.89,104.64 664.01,104.61 664.13,104.58 664.24,104.55 664.36,104.51 664.48,104.48 664.6,104.45 664.72,104.42 664.83,104.39 664.95,104.36 665.07,104.33 665.19,104.3 665.31,104.27 665.42,104.24 665.54,104.22 665.66,104.19 665.78,104.16 665.9,104.13 666.01,104.1 666.13,104.08 666.25,104.05 666.37,104.02 666.49,103.99 666.6,103.97 666.72,103.94 666.84,103.92 666.96,103.89 667.08,103.87 667.19,103.84 667.31,103.81 667.43,103.79 667.55,103.77 667.67,103.74 667.78,103.72 667.9,103.69 668.02,103.67 668.14,103.65 668.26,103.62 668.37,103.6 668.49,103.58 668.61,103.55 668.73,103.53 668.85,103.51 668.96,103.49 669.08,103.47 669.2,103.44 669.32,103.42 669.44,103.4 669.55,103.38 669.67,103.36 669.79,103.34 669.91,103.32 670.03,103.3 670.14,103.28 670.26,103.26 670.38,103.24 670.5,103.22 670.62,103.2 670.73,103.18 670.85,103.16 670.97,103.14 671.09,103.12 671.21,103.1 671.32,103.08 671.44,103.06 671.56,103.04 671.68,103.02 671.8,103 671.91,102.98 672.03,102.96 672.15,102.94 672.27,102.92 672.39,102.91 672.5,102.89 672.62,102.87 672.74,102.85 672.86,102.83 672.98,102.81 673.09,102.79 673.21,102.78 673.33,102.76 673.45,102.74 673.57,102.72 673.68,102.7 673.8,102.69 673.92,102.67 674.04,102.65 674.16,102.63 674.27,102.62 674.39,102.6 674.51,102.58 674.63,102.57 674.75,102.55 674.86,102.53 674.98,102.52 675.1,102.5 675.22,102.49 675.34,102.47 675.45,102.46 675.57,102.44 675.69,102.42 675.81,102.41 675.93,102.39 676.04,102.38 676.16,102.37 676.28,102.35 676.4,102.34 676.52,102.32 676.63,102.31 676.75,102.29 676.87,102.28 676.99,102.27 677.11,102.25 677.22,102.24 677.34,102.23 677.46,102.22 677.58,102.2 677.7,102.19 677.81,102.18 677.93,102.17 678.05,102.16 678.17,102.14 678.29,102.13 678.4,102.12 678.52,102.11 678.64,102.1 678.76,102.09 678.88,102.08 678.99,102.07 679.11,102.06 679.23,102.05 679.35,102.04 679.47,102.03 679.58,102.03 679.7,102.02 679.82,102.01 679.94,102 680.06,101.99 680.17,101.99 680.29,101.98 680.41,101.97 680.53,101.97 680.65,101.96 680.76,101.95 680.88,101.95 681,101.94" fill="none" stroke="#2f7db5" stroke-width="1.1" stroke-linejoin="round"/>
<line x1="616.49" y1="168.5" x2="630.77" y2="26.28" stroke="#3c4658" stroke-width="0.9" stroke-dasharray="2.6 1.8"/>
<line x1="617.97" y1="35.66" x2="681" y2="24.24" stroke="#3c4658" stroke-width="0.9" stroke-dasharray="2.6 1.8"/>
<line x1="645.62" y1="168.5" x2="651.77" y2="103.44" stroke="#3c4658" stroke-width="0.9" stroke-dasharray="2.6 1.8"/>
<line x1="650.52" y1="108.87" x2="681" y2="102.89" stroke="#3c4658" stroke-width="0.9" stroke-dasharray="2.6 1.8"/>
</g>
<rect x="597" y="5.5" width="84" height="163" fill="none" stroke="#5a5a5a" stroke-width="0.9"/>
<line x1="597" y1="168.5" x2="597" y2="170.5" stroke="#5a5a5a" stroke-width="0.8"/>
<text x="597" y="180" font-size="9.8" text-anchor="middle" textLength="5.73" lengthAdjust="spacingAndGlyphs">0</text>
<line x1="630.6" y1="168.5" x2="630.6" y2="170.5" stroke="#5a5a5a" stroke-width="0.8"/>
<text x="630.6" y="180" font-size="9.8" text-anchor="middle" textLength="11.45" lengthAdjust="spacingAndGlyphs">10</text>
<line x1="664.2" y1="168.5" x2="664.2" y2="170.5" stroke="#5a5a5a" stroke-width="0.8"/>
<text x="664.2" y="180" font-size="9.8" text-anchor="middle" textLength="11.45" lengthAdjust="spacingAndGlyphs">20</text>
<line x1="595" y1="168.5" x2="597" y2="168.5" stroke="#5a5a5a" stroke-width="0.8"/>
<text x="593.9" y="172" font-size="9.8" text-anchor="end" textLength="14.31" lengthAdjust="spacingAndGlyphs">0.0</text>
<line x1="595" y1="141.33" x2="597" y2="141.33" stroke="#5a5a5a" stroke-width="0.8"/>
<text x="593.9" y="144.83" font-size="9.8" text-anchor="end" textLength="14.31" lengthAdjust="spacingAndGlyphs">0.2</text>
<line x1="595" y1="114.17" x2="597" y2="114.17" stroke="#5a5a5a" stroke-width="0.8"/>
<text x="593.9" y="117.67" font-size="9.8" text-anchor="end" textLength="14.31" lengthAdjust="spacingAndGlyphs">0.4</text>
<line x1="595" y1="87" x2="597" y2="87" stroke="#5a5a5a" stroke-width="0.8"/>
<text x="593.9" y="90.5" font-size="9.8" text-anchor="end" textLength="14.31" lengthAdjust="spacingAndGlyphs">0.6</text>
<line x1="595" y1="59.83" x2="597" y2="59.83" stroke="#5a5a5a" stroke-width="0.8"/>
<text x="593.9" y="63.33" font-size="9.8" text-anchor="end" textLength="14.31" lengthAdjust="spacingAndGlyphs">0.8</text>
<line x1="595" y1="32.67" x2="597" y2="32.67" stroke="#5a5a5a" stroke-width="0.8"/>
<text x="593.9" y="36.17" font-size="9.8" text-anchor="end" textLength="14.31" lengthAdjust="spacingAndGlyphs">1.0</text>
<line x1="595" y1="5.5" x2="597" y2="5.5" stroke="#5a5a5a" stroke-width="0.8"/>
<text x="593.9" y="9" font-size="9.8" text-anchor="end" textLength="14.31" lengthAdjust="spacingAndGlyphs">1.2</text>
<text x="639" y="190" font-size="9.8" text-anchor="middle" textLength="72" lengthAdjust="spacingAndGlyphs">Temperature (K)</text>
<text x="575.6" y="87.1" font-size="9.4" text-anchor="middle" textLength="46.5" lengthAdjust="spacingAndGlyphs" transform="rotate(-90 575.6 87.1)"><tspan font-style="italic">ρ</tspan> (<tspan font-style="italic">m</tspan>Ω.cm)</text>
<text x="600" y="22.7" font-size="7.6" fill="#222" stroke="none" font-weight="bold" textLength="45.5" lengthAdjust="spacingAndGlyphs">T<tspan font-size="5" dy="0.7">c,onset</tspan><tspan dy="-0.7"> = 10 K</tspan></text>
<text x="630.8" y="98.9" font-size="7.6" fill="#222" stroke="none" font-weight="bold" textLength="45.5" lengthAdjust="spacingAndGlyphs">T<tspan font-size="5" dy="0.7">c,onset</tspan><tspan dy="-0.7"> = 17 K</tspan></text>
<text x="560.5" y="14.2" font-size="13" textLength="10" lengthAdjust="spacingAndGlyphs">c)</text>
<clipPath id="cd"><rect x="26.5" y="208" width="168" height="164.5"/></clipPath>
<g clip-path="url(#cd)">
<polyline points="40.11,371.5 40.49,371.5 40.88,371.5 41.27,371.5 41.65,371.5 42.04,371.5 42.43,371.5 42.81,371.5 43.2,371.5 43.59,371.5 43.97,371.5 44.36,371.5 44.75,371.5 45.13,371.5 45.52,371.5 45.9,371.5 46.29,371.5 46.68,371.5 47.06,371.5 47.45,371.5 47.84,371.5 48.22,371.5 48.61,371.5 49,371.5 49.38,371.5 49.77,371.5 50.16,371.5 50.54,371.5 50.93,371.5 51.31,371.5 51.7,371.5 52.09,371.5 52.47,371.5 52.86,371.5 53.25,371.5 53.63,371.5 54.02,371.5 54.41,371.5 54.79,371.5 55.18,371.5 55.57,371.5 55.95,371.5 56.34,371.5 56.73,371.5 57.11,371.5 57.5,371.5 57.88,371.5 58.27,371.5 58.66,371.5 59.04,371.5 59.43,371.5 59.82,371.5 60.2,371.5 60.59,371.5 60.98,371.5 61.36,371.5 61.75,371.5 62.14,371.5 62.52,371.5 62.91,371.5 63.29,371.5 63.68,371.5 64.07,371.5 64.45,371.5 64.84,371.5 65.23,371.5 65.61,371.5 66,371.5 66.39,371.5 66.77,371.5 67.16,371.5 67.55,371.5 67.93,371.5 68.32,371.5 68.71,371.5 69.09,371.5 69.48,371.5 69.86,371.5 70.25,371.5 70.64,371.5 71.02,371.5 71.41,371.5 71.8,371.5 72.18,371.5 72.57,371.5 72.96,371.5 73.34,371.5 73.73,371.5 74.12,371.5 74.5,371.5 74.89,371.5 75.27,371.5 75.66,371.5 76.05,371.5 76.43,371.5 76.82,371.5 77.21,371.5 77.59,371.5 77.98,371.5 78.37,371.5 78.75,371.5 79.14,371.5 79.53,371.5 79.91,371.48 80.3,371.37 80.68,371.18 81.07,370.91 81.46,370.58 81.84,370.18 82.23,369.73 82.62,369.24 83,368.72 83.39,368.17 83.78,367.41 84.16,366.37 84.55,365.1 84.94,363.65 85.32,362.07 85.71,360.42 86.1,358.75 86.48,357.1 86.87,355.31 87.25,353.35 87.64,351.29 88.03,349.2 88.41,347.14 88.8,345.17 89.19,343.31 89.57,341.5 89.96,339.69 90.35,337.84 90.73,335.9 91.12,333.83 91.51,331.61 91.89,329.27 92.28,326.82 92.66,324.3 93.05,321.74 93.44,319.16 93.82,316.58 94.21,314.01 94.6,311.32 94.98,308.57 95.37,305.84 95.76,303.24 96.14,300.83 96.53,298.62 96.92,296.46 97.3,294.34 97.69,292.25 98.07,290.21 98.46,288.21 98.85,286.25 99.23,284.32 99.62,282.44 100.01,280.6 100.39,278.79 100.78,277.02 101.17,275.29 101.55,273.6 101.94,271.95 102.33,270.34 102.71,268.76 103.1,267.22 103.49,265.72 103.87,264.25 104.26,262.83 104.64,261.41 105.03,260.01 105.42,258.61 105.8,257.24 106.19,255.88 106.58,254.54 106.96,253.23 107.35,251.95 107.74,250.7 108.12,249.5 108.51,248.33 108.9,247.21 109.28,246.14 109.67,245.13 110.05,244.17 110.44,243.28 110.83,242.45 111.21,241.69 111.6,240.98 111.99,240.3 112.37,239.63 112.76,238.99 113.15,238.36 113.53,237.75 113.92,237.16 114.31,236.59 114.69,236.04 115.08,235.51 115.46,234.99 115.85,234.5 116.24,234.03 116.62,233.57 117.01,233.14 117.4,232.72 117.78,232.33 118.17,231.95 118.56,231.59 118.94,231.26 119.33,230.94 119.72,230.64 120.1,230.36 120.49,230.08 120.88,229.81 121.26,229.55 121.65,229.29 122.03,229.03 122.42,228.78 122.81,228.54 123.19,228.3 123.58,228.07 123.97,227.85 124.35,227.63 124.74,227.42 125.13,227.21 125.51,227.01 125.9,226.81 126.29,226.62 126.67,226.44 127.06,226.26 127.44,226.09 127.83,225.93 128.22,225.77 128.6,225.62 128.99,225.48 129.38,225.34 129.76,225.21 130.15,225.08 130.54,224.97 130.92,224.85 131.31,224.75 131.7,224.65 132.08,224.56 132.47,224.47 132.86,224.38 133.24,224.29 133.63,224.2 134.01,224.11 134.4,224.02 134.79,223.93 135.17,223.84 135.56,223.75 135.95,223.66 136.33,223.57 136.72,223.49 137.11,223.4 137.49,223.31 137.88,223.23 138.27,223.14 138.65,223.06 139.04,222.97 139.42,222.89 139.81,222.81 140.2,222.72 140.58,222.64 140.97,222.56 141.36,222.48 141.74,222.39 142.13,222.31 142.52,222.23 142.9,222.15 143.29,222.07 143.68,221.99 144.06,221.92 144.45,221.84 144.83,221.76 145.22,221.68 145.61,221.61 145.99,221.53 146.38,221.45 146.77,221.38 147.15,221.3 147.54,221.23 147.93,221.16 148.31,221.08 148.7,221.01 149.09,220.94 149.47,220.87 149.86,220.8 150.25,220.72 150.63,220.65 151.02,220.58 151.4,220.51 151.79,220.45 152.18,220.38 152.56,220.31 152.95,220.24 153.34,220.18 153.72,220.11 154.11,220.04 154.5,219.98 154.88,219.91 155.27,219.85 155.66,219.79 156.04,219.72 156.43,219.66 156.81,219.6 157.2,219.54 157.59,219.48 157.97,219.42 158.36,219.36 158.75,219.3 159.13,219.24 159.52,219.18 159.91,219.12 160.29,219.07 160.68,219.01 161.07,218.95 161.45,218.9 161.84,218.84 162.22,218.79 162.61,218.73 163,218.68 163.38,218.63 163.77,218.58 164.16,218.52 164.54,218.47 164.93,218.42 165.32,218.37 165.7,218.32 166.09,218.28 166.48,218.23 166.86,218.18 167.25,218.13 167.64,218.09 168.02,218.04 168.41,218 168.79,217.95 169.18,217.91 169.57,217.87 169.95,217.82 170.34,217.78 170.73,217.74 171.11,217.7 171.5,217.66 171.89,217.62 172.27,217.58 172.66,217.54 173.05,217.5 173.43,217.47 173.82,217.43 174.2,217.39 174.59,217.36 174.98,217.33 175.36,217.29 175.75,217.26 176.14,217.23 176.52,217.19 176.91,217.16 177.3,217.13 177.68,217.1 178.07,217.07 178.46,217.04 178.84,217.01 179.23,216.99 179.62,216.96 180,216.93 180.39,216.91 180.77,216.88 181.16,216.86 181.55,216.84 181.93,216.81 182.32,216.79 182.71,216.77 183.09,216.75 183.48,216.73 183.87,216.71 184.25,216.69 184.64,216.67 185.03,216.65 185.41,216.64 185.8,216.62 186.18,216.61 186.57,216.59 186.96,216.58 187.34,216.56 187.73,216.55 188.12,216.54 188.5,216.53 188.89,216.52 189.28,216.51 189.66,216.5 190.05,216.49 190.44,216.48 190.82,216.48 191.21,216.47 191.59,216.47 191.98,216.46 192.37,216.46 192.75,216.45 193.14,216.45 193.53,216.45 193.91,216.45 194.3,216.45" fill="none" stroke="#c23c44" stroke-width="0.7" stroke-linejoin="round"/>
<polyline points="40.11,371.5 40.49,371.5 40.88,371.5 41.27,371.5 41.65,371.5 42.04,371.5 42.43,371.5 42.81,371.5 43.2,371.5 43.59,371.5 43.97,371.5 44.36,371.5 44.75,371.5 45.13,371.5 45.52,371.5 45.9,371.5 46.29,371.5 46.68,371.5 47.06,371.5 47.45,371.5 47.84,371.5 48.22,371.5 48.61,371.5 49,371.5 49.38,371.5 49.77,371.5 50.16,371.5 50.54,371.5 50.93,371.5 51.31,371.5 51.7,371.5 52.09,371.5 52.47,371.5 52.86,371.5 53.25,371.5 53.63,371.5 54.02,371.5 54.41,371.5 54.79,371.5 55.18,371.5 55.57,371.5 55.95,371.5 56.34,371.5 56.73,371.5 57.11,371.5 57.5,371.5 57.88,371.5 58.27,371.5 58.66,371.5 59.04,371.5 59.43,371.5 59.82,371.5 60.2,371.5 60.59,371.5 60.98,371.5 61.36,371.5 61.75,371.5 62.14,371.5 62.52,371.5 62.91,371.5 63.29,371.5 63.68,371.5 64.07,371.5 64.45,371.5 64.84,371.5 65.23,371.5 65.61,371.5 66,371.5 66.39,371.5 66.77,371.5 67.16,371.5 67.55,371.5 67.93,371.47 68.32,371.35 68.71,371.16 69.09,370.9 69.48,370.57 69.86,370.2 70.25,369.77 70.64,369.3 71.02,368.8 71.41,368.28 71.8,367.73 72.18,367.16 72.57,366.41 72.96,365.48 73.34,364.41 73.73,363.23 74.12,361.95 74.5,360.61 74.89,359.25 75.27,357.82 75.66,356.23 76.05,354.5 76.43,352.67 76.82,350.79 77.21,348.87 77.59,346.95 77.98,344.97 78.37,342.92 78.75,340.8 79.14,338.62 79.53,336.36 79.91,334 80.3,331.54 80.68,328.99 81.07,326.38 81.46,323.73 81.84,321.06 82.23,318.41 82.62,315.78 83,313.13 83.39,310.38 83.78,307.61 84.16,304.93 84.55,302.4 84.94,300.13 85.32,297.98 85.71,295.84 86.1,293.71 86.48,291.61 86.87,289.53 87.25,287.48 87.64,285.47 88.03,283.5 88.41,281.57 88.8,279.69 89.19,277.87 89.57,276.11 89.96,274.41 90.35,272.78 90.73,271.22 91.12,269.75 91.51,268.36 91.89,267.05 92.28,265.84 92.66,264.73 93.05,263.72 93.44,262.82 93.82,261.96 94.21,261.13 94.6,260.32 94.98,259.54 95.37,258.78 95.76,258.04 96.14,257.33 96.53,256.64 96.92,255.97 97.3,255.33 97.69,254.71 98.07,254.11 98.46,253.54 98.85,252.99 99.23,252.47 99.62,251.97 100.01,251.49 100.39,251.04 100.78,250.61 101.17,250.2 101.55,249.82 101.94,249.46 102.33,249.12 102.71,248.81 103.1,248.52 103.49,248.25 103.87,247.97 104.26,247.7 104.64,247.44 105.03,247.18 105.42,246.94 105.8,246.7 106.19,246.46 106.58,246.24 106.96,246.03 107.35,245.83 107.74,245.64 108.12,245.46 108.51,245.29 108.9,245.14 109.28,245 109.67,244.87 110.05,244.76 110.44,244.67 110.83,244.59 111.21,244.53 111.6,244.48 111.99,244.43 112.37,244.38 112.76,244.33 113.15,244.28 113.53,244.23 113.92,244.19 114.31,244.14 114.69,244.09 115.08,244.05 115.46,244 115.85,243.95 116.24,243.91 116.62,243.86 117.01,243.82 117.4,243.77 117.78,243.73 118.17,243.69 118.56,243.64 118.94,243.6 119.33,243.55 119.72,243.51 120.1,243.47 120.49,243.43 120.88,243.39 121.26,243.34 121.65,243.3 122.03,243.26 122.42,243.22 122.81,243.18 123.19,243.14 123.58,243.1 123.97,243.06 124.35,243.02 124.74,242.98 125.13,242.94 125.51,242.9 125.9,242.87 126.29,242.83 126.67,242.79 127.06,242.75 127.44,242.72 127.83,242.68 128.22,242.64 128.6,242.61 128.99,242.57 129.38,242.54 129.76,242.5 130.15,242.47 130.54,242.43 130.92,242.4 131.31,242.36 131.7,242.33 132.08,242.29 132.47,242.26 132.86,242.23 133.24,242.19 133.63,242.16 134.01,242.13 134.4,242.1 134.79,242.07 135.17,242.03 135.56,242 135.95,241.97 136.33,241.94 136.72,241.91 137.11,241.88 137.49,241.85 137.88,241.82 138.27,241.79 138.65,241.76 139.04,241.73 139.42,241.71 139.81,241.68 140.2,241.65 140.58,241.62 140.97,241.59 141.36,241.57 141.74,241.54 142.13,241.51 142.52,241.49 142.9,241.46 143.29,241.43 143.68,241.41 144.06,241.38 144.45,241.36 144.83,241.33 145.22,241.31 145.61,241.28 145.99,241.26 146.38,241.23 146.77,241.21 147.15,241.19 147.54,241.16 147.93,241.14 148.31,241.12 148.7,241.1 149.09,241.07 149.47,241.05 149.86,241.03 150.25,241.01 150.63,240.99 151.02,240.97 151.4,240.94 151.79,240.92 152.18,240.9 152.56,240.88 152.95,240.86 153.34,240.84 153.72,240.82 154.11,240.8 154.5,240.78 154.88,240.77 155.27,240.75 155.66,240.73 156.04,240.71 156.43,240.69 156.81,240.68 157.2,240.66 157.59,240.64 157.97,240.62 158.36,240.61 158.75,240.59 159.13,240.57 159.52,240.56 159.91,240.54 160.29,240.53 160.68,240.51 161.07,240.49 161.45,240.48 161.84,240.46 162.22,240.45 162.61,240.44 163,240.42 163.38,240.41 163.77,240.39 164.16,240.38 164.54,240.37 164.93,240.35 165.32,240.34 165.7,240.33 166.09,240.31 166.48,240.3 166.86,240.29 167.25,240.28 167.64,240.27 168.02,240.25 168.41,240.24 168.79,240.23 169.18,240.22 169.57,240.21 169.95,240.2 170.34,240.19 170.73,240.18 171.11,240.17 171.5,240.16 171.89,240.15 172.27,240.14 172.66,240.13 173.05,240.12 173.43,240.11 173.82,240.1 174.2,240.09 174.59,240.09 174.98,240.08 175.36,240.07 175.75,240.06 176.14,240.05 176.52,240.05 176.91,240.04 177.3,240.03 177.68,240.02 178.07,240.02 178.46,240.01 178.84,240 179.23,240 179.62,239.99 180,239.99 180.39,239.98 180.77,239.98 181.16,239.97 181.55,239.96 181.93,239.96 182.32,239.95 182.71,239.95 183.09,239.95 183.48,239.94 183.87,239.94 184.25,239.93 184.64,239.93 185.03,239.93 185.41,239.92 185.8,239.92 186.18,239.92 186.57,239.91 186.96,239.91 187.34,239.91 187.73,239.9 188.12,239.9 188.5,239.9 188.89,239.9 189.28,239.89 189.66,239.89 190.05,239.89 190.44,239.89 190.82,239.89 191.21,239.89 191.59,239.89 191.98,239.89 192.37,239.88 192.75,239.88 193.14,239.88 193.53,239.88 193.91,239.88 194.3,239.88" fill="none" stroke="#c23c44" stroke-width="0.7" stroke-linejoin="round"/>
<polyline points="40.11,371.5 40.49,371.5 40.88,371.5 41.27,371.5 41.65,371.5 42.04,371.5 42.43,371.5 42.81,371.5 43.2,371.5 43.59,371.5 43.97,371.5 44.36,371.5 44.75,371.5 45.13,371.5 45.52,371.5 45.9,371.5 46.29,371.5 46.68,371.5 47.06,371.5 47.45,371.5 47.84,371.5 48.22,371.5 48.61,371.5 49,371.5 49.38,371.5 49.77,371.5 50.16,371.5 50.54,371.5 50.93,371.5 51.31,371.5 51.7,371.5 52.09,371.5 52.47,371.5 52.86,371.5 53.25,371.5 53.63,371.5 54.02,371.5 54.41,371.5 54.79,371.5 55.18,371.5 55.57,371.5 55.95,371.5 56.34,371.5 56.73,371.5 57.11,371.5 57.5,371.5 57.88,371.5 58.27,371.5 58.66,371.5 59.04,371.5 59.43,371.5 59.82,371.5 60.2,371.5 60.59,371.5 60.98,371.5 61.36,371.5 61.75,371.5 62.14,371.5 62.52,371.5 62.91,371.5 63.29,371.5 63.68,371.5 64.07,371.5 64.45,371.5 64.84,371.5 65.23,371.5 65.61,371.5 66,371.5 66.39,371.5 66.77,371.5 67.16,371.5 67.55,371.5 67.93,371.5 68.32,371.5 68.71,371.5 69.09,371.5 69.48,371.5 69.86,371.5 70.25,371.5 70.64,371.5 71.02,371.5 71.41,371.5 71.8,371.5 72.18,371.5 72.57,371.5 72.96,371.5 73.34,371.5 73.73,371.5 74.12,371.5 74.5,371.5 74.89,371.5 75.27,371.5 75.66,371.5 76.05,371.5 76.43,371.5 76.82,371.5 77.21,371.5 77.59,371.5 77.98,371.5 78.37,371.5 78.75,371.5 79.14,371.5 79.53,371.5 79.91,371.5 80.3,371.5 80.68,371.44 81.07,371.23 81.46,370.91 81.84,370.48 82.23,369.97 82.62,369.41 83,368.79 83.39,368.16 83.78,367.36 84.16,366.32 84.55,365.08 84.94,363.68 85.32,362.18 85.71,360.6 86.1,358.99 86.48,357.39 86.87,355.58 87.25,353.59 87.64,351.51 88.03,349.45 88.41,347.51 88.8,345.78 89.19,344.1 89.57,342.42 89.96,340.83 90.35,339.4 90.73,338.21 91.12,337.32 91.51,336.6 91.89,335.96 92.28,335.38 92.66,334.88 93.05,334.45 93.44,334.11 93.82,333.84 94.21,333.61 94.6,333.4 94.98,333.19 95.37,333 95.76,332.83 96.14,332.66 96.53,332.51 96.92,332.36 97.3,332.23 97.69,332.1 98.07,331.99 98.46,331.88 98.85,331.78 99.23,331.69 99.62,331.6 100.01,331.53 100.39,331.45 100.78,331.38 101.17,331.31 101.55,331.25 101.94,331.18 102.33,331.11 102.71,331.05 103.1,330.99 103.49,330.93 103.87,330.87 104.26,330.81 104.64,330.75 105.03,330.69 105.42,330.64 105.8,330.59 106.19,330.54 106.58,330.49 106.96,330.44 107.35,330.4 107.74,330.35 108.12,330.31 108.51,330.27 108.9,330.23 109.28,330.2 109.67,330.16 110.05,330.13 110.44,330.1 110.83,330.08 111.21,330.05 111.6,330.03 111.99,330.01 112.37,329.99 112.76,329.97 113.15,329.96 113.53,329.95 113.92,329.94 114.31,329.94 114.69,329.93 115.08,329.92 115.46,329.92 115.85,329.91 116.24,329.9 116.62,329.9 117.01,329.89 117.4,329.88 117.78,329.88 118.17,329.87 118.56,329.87 118.94,329.86 119.33,329.86 119.72,329.85 120.1,329.85 120.49,329.85 120.88,329.84 121.26,329.84 121.65,329.83 122.03,329.83 122.42,329.83 122.81,329.82 123.19,329.82 123.58,329.82 123.97,329.82 124.35,329.81 124.74,329.81 125.13,329.81 125.51,329.81 125.9,329.81 126.29,329.81 126.67,329.81 127.06,329.81 127.44,329.81 127.83,329.81 128.22,329.81 128.6,329.81 128.99,329.81 129.38,329.81 129.76,329.81 130.15,329.81 130.54,329.82 130.92,329.82 131.31,329.82 131.7,329.82 132.08,329.83 132.47,329.83 132.86,329.83 133.24,329.83 133.63,329.84 134.01,329.84 134.4,329.85 134.79,329.85 135.17,329.85 135.56,329.86 135.95,329.86 136.33,329.87 136.72,329.87 137.11,329.88 137.49,329.88 137.88,329.89 138.27,329.89 138.65,329.9 139.04,329.9 139.42,329.91 139.81,329.92 140.2,329.92 140.58,329.93 140.97,329.93 141.36,329.94 141.74,329.95 142.13,329.95 142.52,329.96 142.9,329.97 143.29,329.98 143.68,329.98 144.06,329.99 144.45,330 144.83,330 145.22,330.01 145.61,330.02 145.99,330.03 146.38,330.04 146.77,330.04 147.15,330.05 147.54,330.06 147.93,330.07 148.31,330.08 148.7,330.08 149.09,330.09 149.47,330.1 149.86,330.11 150.25,330.12 150.63,330.13 151.02,330.13 151.4,330.14 151.79,330.15 152.18,330.16 152.56,330.17 152.95,330.18 153.34,330.19 153.72,330.19 154.11,330.2 154.5,330.21 154.88,330.22 155.27,330.23 155.66,330.24 156.04,330.25 156.43,330.26 156.81,330.26 157.2,330.27 157.59,330.28 157.97,330.29 158.36,330.3 158.75,330.31 159.13,330.32 159.52,330.32 159.91,330.33 160.29,330.34 160.68,330.35 161.07,330.36 161.45,330.37 161.84,330.38 162.22,330.38 162.61,330.39 163,330.4 163.38,330.41 163.77,330.42 164.16,330.43 164.54,330.44 164.93,330.45 165.32,330.46 165.7,330.47 166.09,330.48 166.48,330.49 166.86,330.5 167.25,330.51 167.64,330.52 168.02,330.53 168.41,330.54 168.79,330.55 169.18,330.56 169.57,330.57 169.95,330.58 170.34,330.59 170.73,330.61 171.11,330.62 171.5,330.63 171.89,330.64 172.27,330.65 172.66,330.66 173.05,330.67 173.43,330.69 173.82,330.7 174.2,330.71 174.59,330.72 174.98,330.73 175.36,330.75 175.75,330.76 176.14,330.77 176.52,330.78 176.91,330.8 177.3,330.81 177.68,330.82 178.07,330.84 178.46,330.85 178.84,330.86 179.23,330.87 179.62,330.89 180,330.9 180.39,330.91 180.77,330.93 181.16,330.94 181.55,330.96 181.93,330.97 182.32,330.98 182.71,331 183.09,331.01 183.48,331.02 183.87,331.04 184.25,331.05 184.64,331.07 185.03,331.08 185.41,331.1 185.8,331.11 186.18,331.12 186.57,331.14 186.96,331.15 187.34,331.17 187.73,331.18 188.12,331.2 188.5,331.21 188.89,331.23 189.28,331.24 189.66,331.26 190.05,331.27 190.44,331.29 190.82,331.3 191.21,331.32 191.59,331.33 191.98,331.35 192.37,331.36 192.75,331.38 193.14,331.4 193.53,331.41 193.91,331.43 194.3,331.44" fill="none" stroke="#c23c44" stroke-width="0.7" stroke-linejoin="round"/>
<polyline points="39.44,371.5 39.83,371.45 40.21,371.38 40.6,371.3 40.99,371.2 41.38,371.08 41.77,370.95 42.15,370.8 42.54,370.65 42.93,370.49 43.32,370.31 43.71,370.13 44.1,369.94 44.48,369.75 44.87,369.56 45.26,369.34 45.65,369.09 46.04,368.82 46.42,368.51 46.81,368.19 47.2,367.85 47.59,367.48 47.98,367.1 48.36,366.71 48.75,366.3 49.14,365.88 49.53,365.46 49.92,365.03 50.31,364.59 50.69,364.15 51.08,363.72 51.47,363.28 51.86,362.85 52.25,362.43 52.63,362 53.02,361.56 53.41,361.11 53.8,360.65 54.19,360.18 54.57,359.7 54.96,359.21 55.35,358.72 55.74,358.23 56.13,357.73 56.52,357.23 56.9,356.73 57.29,356.23 57.68,355.73 58.07,355.23 58.46,354.74 58.84,354.25 59.23,353.77 59.62,353.29 60.01,352.82 60.4,352.35 60.78,351.88 61.17,351.4 61.56,350.92 61.95,350.44 62.34,349.96 62.73,349.48 63.11,349 63.5,348.53 63.89,348.06 64.28,347.59 64.67,347.13 65.05,346.68 65.44,346.24 65.83,345.8 66.22,345.38 66.61,344.97 66.99,344.57 67.38,344.18 67.77,343.81 68.16,343.44 68.55,343.06 68.94,342.69 69.32,342.33 69.71,341.96 70.1,341.6 70.49,341.25 70.88,340.91 71.26,340.57 71.65,340.24 72.04,339.92 72.43,339.62 72.82,339.32 73.2,339.04 73.59,338.78 73.98,338.53 74.37,338.3 74.76,338.09 75.15,337.9 75.53,337.71 75.92,337.53 76.31,337.35 76.7,337.19 77.09,337.03 77.47,336.87 77.86,336.72 78.25,336.58 78.64,336.45 79.03,336.32 79.41,336.2 79.8,336.09 80.19,335.99 80.58,335.9 80.97,335.81 81.36,335.73 81.74,335.65 82.13,335.58 82.52,335.5 82.91,335.43 83.3,335.36 83.68,335.29 84.07,335.22 84.46,335.15 84.85,335.09 85.24,335.03 85.62,334.97 86.01,334.91 86.4,334.85 86.79,334.8 87.18,334.74 87.57,334.69 87.95,334.64 88.34,334.6 88.73,334.55 89.12,334.51 89.51,334.47 89.89,334.43 90.28,334.39 90.67,334.35 91.06,334.32 91.45,334.28 91.83,334.25 92.22,334.22 92.61,334.2 93,334.17 93.39,334.15 93.78,334.12 94.16,334.1 94.55,334.08 94.94,334.06 95.33,334.03 95.72,334.01 96.1,333.99 96.49,333.97 96.88,333.95 97.27,333.93 97.66,333.91 98.04,333.89 98.43,333.87 98.82,333.86 99.21,333.84 99.6,333.82 99.99,333.81 100.37,333.79 100.76,333.77 101.15,333.76 101.54,333.75 101.93,333.73 102.31,333.72 102.7,333.71 103.09,333.7 103.48,333.69 103.87,333.68 104.25,333.67 104.64,333.66 105.03,333.65 105.42,333.64 105.81,333.64 106.2,333.63 106.58,333.63 106.97,333.62 107.36,333.62 107.75,333.62 108.14,333.62 108.52,333.61 108.91,333.61 109.3,333.61 109.69,333.6 110.08,333.6 110.46,333.6 110.85,333.6 111.24,333.59 111.63,333.59 112.02,333.59 112.41,333.59 112.79,333.58 113.18,333.58 113.57,333.58 113.96,333.58 114.35,333.57 114.73,333.57 115.12,333.57 115.51,333.57 115.9,333.56 116.29,333.56 116.67,333.56 117.06,333.56 117.45,333.55 117.84,333.55 118.23,333.55 118.62,333.55 119,333.54 119.39,333.54 119.78,333.54 120.17,333.54 120.56,333.54 120.94,333.53 121.33,333.53 121.72,333.53 122.11,333.53 122.5,333.52 122.88,333.52 123.27,333.52 123.66,333.52 124.05,333.52 124.44,333.51 124.83,333.51 125.21,333.51 125.6,333.51 125.99,333.51 126.38,333.5 126.77,333.5 127.15,333.5 127.54,333.5 127.93,333.5 128.32,333.49 128.71,333.49 129.09,333.49 129.48,333.49 129.87,333.49 130.26,333.48 130.65,333.48 131.04,333.48 131.42,333.48 131.81,333.48 132.2,333.48 132.59,333.47 132.98,333.47 133.36,333.47 133.75,333.47 134.14,333.47 134.53,333.47 134.92,333.46 135.3,333.46 135.69,333.46 136.08,333.46 136.47,333.46 136.86,333.46 137.25,333.45 137.63,333.45 138.02,333.45 138.41,333.45 138.8,333.45 139.19,333.45 139.57,333.44 139.96,333.44 140.35,333.44 140.74,333.44 141.13,333.44 141.51,333.44 141.9,333.44 142.29,333.43 142.68,333.43 143.07,333.43 143.46,333.43 143.84,333.43 144.23,333.43 144.62,333.43 145.01,333.42 145.4,333.42 145.78,333.42 146.17,333.42 146.56,333.42 146.95,333.42 147.34,333.42 147.72,333.42 148.11,333.41 148.5,333.41 148.89,333.41 149.28,333.41 149.67,333.41 150.05,333.41 150.44,333.41 150.83,333.41 151.22,333.41 151.61,333.4 151.99,333.4 152.38,333.4 152.77,333.4 153.16,333.4 153.55,333.4 153.93,333.4 154.32,333.4 154.71,333.4 155.1,333.4 155.49,333.39 155.88,333.39 156.26,333.39 156.65,333.39 157.04,333.39 157.43,333.39 157.82,333.39 158.2,333.39 158.59,333.39 158.98,333.39 159.37,333.39 159.76,333.38 160.14,333.38 160.53,333.38 160.92,333.38 161.31,333.38 161.7,333.38 162.09,333.38 162.47,333.38 162.86,333.38 163.25,333.38 163.64,333.38 164.03,333.38 164.41,333.38 164.8,333.37 165.19,333.37 165.58,333.37 165.97,333.37 166.35,333.37 166.74,333.37 167.13,333.37 167.52,333.37 167.91,333.37 168.3,333.37 168.68,333.37 169.07,333.37 169.46,333.37 169.85,333.37 170.24,333.37 170.62,333.37 171.01,333.36 171.4,333.36 171.79,333.36 172.18,333.36 172.56,333.36 172.95,333.36 173.34,333.36 173.73,333.36 174.12,333.36 174.51,333.36 174.89,333.36 175.28,333.36 175.67,333.36 176.06,333.36 176.45,333.36 176.83,333.36 177.22,333.36 177.61,333.36 178,333.36 178.39,333.36 178.77,333.36 179.16,333.36 179.55,333.36 179.94,333.36 180.33,333.36 180.72,333.35 181.1,333.35 181.49,333.35 181.88,333.35 182.27,333.35 182.66,333.35 183.04,333.35 183.43,333.35 183.82,333.35 184.21,333.35 184.6,333.35 184.98,333.35 185.37,333.35 185.76,333.35 186.15,333.35 186.54,333.35 186.93,333.35 187.31,333.35 187.7,333.35 188.09,333.35 188.48,333.35 188.87,333.35 189.25,333.35 189.64,333.35 190.03,333.35 190.42,333.35 190.81,333.35 191.19,333.35 191.58,333.35 191.97,333.35 192.36,333.35 192.75,333.35 193.14,333.35 193.52,333.35 193.91,333.35 194.3,333.35" fill="none" stroke="#c23c44" stroke-width="0.7" stroke-linejoin="round"/>
<polyline points="37.83,364.42 38.22,364.41 38.61,364.41 39.01,364.41 39.4,364.4 39.79,364.39 40.18,364.39 40.57,364.38 40.97,364.36 41.36,364.35 41.75,364.34 42.14,364.32 42.53,364.3 42.93,364.29 43.32,364.27 43.71,364.25 44.1,364.23 44.5,364.2 44.89,364.18 45.28,364.15 45.67,364.13 46.06,364.1 46.46,364.08 46.85,364.05 47.24,364.02 47.63,363.99 48.02,363.96 48.42,363.93 48.81,363.9 49.2,363.87 49.59,363.83 49.99,363.8 50.38,363.77 50.77,363.73 51.16,363.7 51.55,363.66 51.95,363.63 52.34,363.59 52.73,363.56 53.12,363.52 53.51,363.47 53.91,363.43 54.3,363.38 54.69,363.32 55.08,363.27 55.48,363.21 55.87,363.14 56.26,363.08 56.65,363.01 57.04,362.93 57.44,362.86 57.83,362.78 58.22,362.7 58.61,362.61 59.01,362.53 59.4,362.43 59.79,362.34 60.18,362.24 60.57,362.14 60.97,362.03 61.36,361.9 61.75,361.77 62.14,361.63 62.53,361.47 62.93,361.31 63.32,361.14 63.71,360.96 64.1,360.78 64.5,360.58 64.89,360.38 65.28,360.17 65.67,359.96 66.06,359.74 66.46,359.5 66.85,359.24 67.24,358.96 67.63,358.66 68.02,358.35 68.42,358.02 68.81,357.67 69.2,357.32 69.59,356.96 69.99,356.59 70.38,356.21 70.77,355.83 71.16,355.44 71.55,355.06 71.95,354.68 72.34,354.28 72.73,353.85 73.12,353.38 73.52,352.89 73.91,352.38 74.3,351.87 74.69,351.35 75.08,350.83 75.48,350.33 75.87,349.84 76.26,349.38 76.65,348.95 77.04,348.56 77.44,348.22 77.83,347.93 78.22,347.7 78.61,347.49 79.01,347.28 79.4,347.09 79.79,346.91 80.18,346.74 80.57,346.58 80.97,346.43 81.36,346.29 81.75,346.15 82.14,346.03 82.53,345.91 82.93,345.79 83.32,345.69 83.71,345.58 84.1,345.49 84.5,345.4 84.89,345.31 85.28,345.22 85.67,345.14 86.06,345.06 86.46,344.98 86.85,344.9 87.24,344.83 87.63,344.76 88.02,344.69 88.42,344.63 88.81,344.56 89.2,344.5 89.59,344.44 89.99,344.38 90.38,344.33 90.77,344.27 91.16,344.22 91.55,344.17 91.95,344.12 92.34,344.08 92.73,344.03 93.12,343.99 93.52,343.94 93.91,343.9 94.3,343.86 94.69,343.82 95.08,343.77 95.48,343.73 95.87,343.69 96.26,343.65 96.65,343.61 97.04,343.57 97.44,343.53 97.83,343.49 98.22,343.45 98.61,343.41 99.01,343.37 99.4,343.34 99.79,343.3 100.18,343.27 100.57,343.23 100.97,343.2 101.36,343.17 101.75,343.14 102.14,343.11 102.53,343.09 102.93,343.06 103.32,343.04 103.71,343.01 104.1,342.99 104.5,342.97 104.89,342.95 105.28,342.94 105.67,342.92 106.06,342.91 106.46,342.9 106.85,342.89 107.24,342.89 107.63,342.88 108.03,342.87 108.42,342.87 108.81,342.86 109.2,342.86 109.59,342.85 109.99,342.85 110.38,342.84 110.77,342.84 111.16,342.83 111.55,342.83 111.95,342.82 112.34,342.82 112.73,342.81 113.12,342.8 113.52,342.8 113.91,342.79 114.3,342.79 114.69,342.78 115.08,342.78 115.48,342.77 115.87,342.77 116.26,342.76 116.65,342.76 117.04,342.75 117.44,342.75 117.83,342.75 118.22,342.74 118.61,342.74 119.01,342.73 119.4,342.73 119.79,342.72 120.18,342.72 120.57,342.71 120.97,342.71 121.36,342.7 121.75,342.7 122.14,342.69 122.53,342.69 122.93,342.69 123.32,342.68 123.71,342.68 124.1,342.67 124.5,342.67 124.89,342.66 125.28,342.66 125.67,342.66 126.06,342.65 126.46,342.65 126.85,342.64 127.24,342.64 127.63,342.64 128.03,342.63 128.42,342.63 128.81,342.62 129.2,342.62 129.59,342.62 129.99,342.61 130.38,342.61 130.77,342.61 131.16,342.6 131.55,342.6 131.95,342.6 132.34,342.59 132.73,342.59 133.12,342.58 133.52,342.58 133.91,342.58 134.3,342.57 134.69,342.57 135.08,342.57 135.48,342.56 135.87,342.56 136.26,342.56 136.65,342.55 137.04,342.55 137.44,342.55 137.83,342.54 138.22,342.54 138.61,342.54 139.01,342.54 139.4,342.53 139.79,342.53 140.18,342.53 140.57,342.52 140.97,342.52 141.36,342.52 141.75,342.51 142.14,342.51 142.54,342.51 142.93,342.51 143.32,342.5 143.71,342.5 144.1,342.5 144.5,342.5 144.89,342.49 145.28,342.49 145.67,342.49 146.06,342.48 146.46,342.48 146.85,342.48 147.24,342.48 147.63,342.47 148.03,342.47 148.42,342.47 148.81,342.47 149.2,342.47 149.59,342.46 149.99,342.46 150.38,342.46 150.77,342.46 151.16,342.45 151.55,342.45 151.95,342.45 152.34,342.45 152.73,342.45 153.12,342.44 153.52,342.44 153.91,342.44 154.3,342.44 154.69,342.43 155.08,342.43 155.48,342.43 155.87,342.43 156.26,342.43 156.65,342.43 157.04,342.42 157.44,342.42 157.83,342.42 158.22,342.42 158.61,342.42 159.01,342.41 159.4,342.41 159.79,342.41 160.18,342.41 160.57,342.41 160.97,342.41 161.36,342.4 161.75,342.4 162.14,342.4 162.54,342.4 162.93,342.4 163.32,342.4 163.71,342.4 164.1,342.39 164.5,342.39 164.89,342.39 165.28,342.39 165.67,342.39 166.06,342.39 166.46,342.39 166.85,342.38 167.24,342.38 167.63,342.38 168.03,342.38 168.42,342.38 168.81,342.38 169.2,342.38 169.59,342.38 169.99,342.37 170.38,342.37 170.77,342.37 171.16,342.37 171.55,342.37 171.95,342.37 172.34,342.37 172.73,342.37 173.12,342.37 173.52,342.37 173.91,342.36 174.3,342.36 174.69,342.36 175.08,342.36 175.48,342.36 175.87,342.36 176.26,342.36 176.65,342.36 177.05,342.36 177.44,342.36 177.83,342.36 178.22,342.36 178.61,342.36 179.01,342.35 179.4,342.35 179.79,342.35 180.18,342.35 180.57,342.35 180.97,342.35 181.36,342.35 181.75,342.35 182.14,342.35 182.54,342.35 182.93,342.35 183.32,342.35 183.71,342.35 184.1,342.35 184.5,342.35 184.89,342.35 185.28,342.35 185.67,342.35 186.06,342.35 186.46,342.35 186.85,342.35 187.24,342.34 187.63,342.34 188.03,342.34 188.42,342.34 188.81,342.34 189.2,342.34 189.59,342.34 189.99,342.34 190.38,342.34 190.77,342.34 191.16,342.34 191.55,342.34 191.95,342.34 192.34,342.34 192.73,342.34 193.12,342.34 193.52,342.34 193.91,342.34 194.3,342.34" fill="none" stroke="#c23c44" stroke-width="0.7" stroke-linejoin="round"/>
<polyline points="40.11,371.5 40.49,371.5 40.88,371.5 41.27,371.5 41.65,371.5 42.04,371.5 42.43,371.5 42.81,371.5 43.2,371.5 43.59,371.5 43.97,371.5 44.36,371.5 44.75,371.5 45.13,371.5 45.52,371.5 45.9,371.5 46.29,371.5 46.68,371.5 47.06,371.5 47.45,371.5 47.84,371.5 48.22,371.5 48.61,371.5 49,371.5 49.38,371.5 49.77,371.5 50.16,371.5 50.54,371.5 50.93,371.5 51.31,371.5 51.7,371.5 52.09,371.5 52.47,371.5 52.86,371.5 53.25,371.5 53.63,371.5 54.02,371.5 54.41,371.5 54.79,371.5 55.18,371.48 55.57,371.43 55.95,371.34 56.34,371.22 56.73,371.07 57.11,370.91 57.5,370.74 57.88,370.56 58.27,370.38 58.66,370.18 59.04,369.96 59.43,369.7 59.82,369.42 60.2,369.11 60.59,368.79 60.98,368.45 61.36,368.09 61.75,367.73 62.14,367.35 62.52,366.97 62.91,366.59 63.29,366.19 63.68,365.75 64.07,365.29 64.45,364.81 64.84,364.3 65.23,363.79 65.61,363.26 66,362.73 66.39,362.2 66.77,361.68 67.16,361.16 67.55,360.66 67.93,360.17 68.32,359.66 68.71,359.15 69.09,358.63 69.48,358.11 69.86,357.59 70.25,357.08 70.64,356.56 71.02,356.06 71.41,355.56 71.8,355.07 72.18,354.59 72.57,354.13 72.96,353.69 73.34,353.27 73.73,352.87 74.12,352.47 74.5,352.08 74.89,351.7 75.27,351.32 75.66,350.94 76.05,350.58 76.43,350.22 76.82,349.88 77.21,349.54 77.59,349.22 77.98,348.92 78.37,348.63 78.75,348.36 79.14,348.1 79.53,347.87 79.91,347.65 80.3,347.44 80.68,347.23 81.07,347.02 81.46,346.82 81.84,346.62 82.23,346.42 82.62,346.24 83,346.06 83.39,345.88 83.78,345.72 84.16,345.57 84.55,345.42 84.94,345.29 85.32,345.17 85.71,345.06 86.1,344.97 86.48,344.89 86.87,344.82 87.25,344.77 87.64,344.72 88.03,344.67 88.41,344.63 88.8,344.58 89.19,344.54 89.57,344.5 89.96,344.47 90.35,344.43 90.73,344.4 91.12,344.37 91.51,344.34 91.89,344.31 92.28,344.28 92.66,344.25 93.05,344.23 93.44,344.2 93.82,344.18 94.21,344.16 94.6,344.14 94.98,344.12 95.37,344.1 95.76,344.08 96.14,344.06 96.53,344.04 96.92,344.02 97.3,344 97.69,343.98 98.07,343.96 98.46,343.94 98.85,343.93 99.23,343.91 99.62,343.89 100.01,343.87 100.39,343.85 100.78,343.83 101.17,343.82 101.55,343.8 101.94,343.78 102.33,343.77 102.71,343.75 103.1,343.73 103.49,343.72 103.87,343.7 104.26,343.68 104.64,343.67 105.03,343.65 105.42,343.64 105.8,343.62 106.19,343.61 106.58,343.6 106.96,343.58 107.35,343.57 107.74,343.56 108.12,343.55 108.51,343.53 108.9,343.52 109.28,343.51 109.67,343.5 110.05,343.49 110.44,343.48 110.83,343.48 111.21,343.47 111.6,343.46 111.99,343.45 112.37,343.45 112.76,343.44 113.15,343.44 113.53,343.44 113.92,343.43 114.31,343.43 114.69,343.43 115.08,343.42 115.46,343.42 115.85,343.42 116.24,343.41 116.62,343.41 117.01,343.41 117.4,343.41 117.78,343.4 118.17,343.4 118.56,343.4 118.94,343.4 119.33,343.39 119.72,343.39 120.1,343.39 120.49,343.39 120.88,343.38 121.26,343.38 121.65,343.38 122.03,343.37 122.42,343.37 122.81,343.37 123.19,343.37 123.58,343.36 123.97,343.36 124.35,343.36 124.74,343.36 125.13,343.36 125.51,343.35 125.9,343.35 126.29,343.35 126.67,343.35 127.06,343.34 127.44,343.34 127.83,343.34 128.22,343.34 128.6,343.33 128.99,343.33 129.38,343.33 129.76,343.33 130.15,343.33 130.54,343.32 130.92,343.32 131.31,343.32 131.7,343.32 132.08,343.31 132.47,343.31 132.86,343.31 133.24,343.31 133.63,343.31 134.01,343.3 134.4,343.3 134.79,343.3 135.17,343.3 135.56,343.3 135.95,343.29 136.33,343.29 136.72,343.29 137.11,343.29 137.49,343.29 137.88,343.29 138.27,343.28 138.65,343.28 139.04,343.28 139.42,343.28 139.81,343.28 140.2,343.27 140.58,343.27 140.97,343.27 141.36,343.27 141.74,343.27 142.13,343.27 142.52,343.26 142.9,343.26 143.29,343.26 143.68,343.26 144.06,343.26 144.45,343.26 144.83,343.25 145.22,343.25 145.61,343.25 145.99,343.25 146.38,343.25 146.77,343.25 147.15,343.24 147.54,343.24 147.93,343.24 148.31,343.24 148.7,343.24 149.09,343.24 149.47,343.24 149.86,343.23 150.25,343.23 150.63,343.23 151.02,343.23 151.4,343.23 151.79,343.23 152.18,343.23 152.56,343.23 152.95,343.22 153.34,343.22 153.72,343.22 154.11,343.22 154.5,343.22 154.88,343.22 155.27,343.22 155.66,343.22 156.04,343.21 156.43,343.21 156.81,343.21 157.2,343.21 157.59,343.21 157.97,343.21 158.36,343.21 158.75,343.21 159.13,343.21 159.52,343.2 159.91,343.2 160.29,343.2 160.68,343.2 161.07,343.2 161.45,343.2 161.84,343.2 162.22,343.2 162.61,343.2 163,343.2 163.38,343.19 163.77,343.19 164.16,343.19 164.54,343.19 164.93,343.19 165.32,343.19 165.7,343.19 166.09,343.19 166.48,343.19 166.86,343.19 167.25,343.19 167.64,343.19 168.02,343.18 168.41,343.18 168.79,343.18 169.18,343.18 169.57,343.18 169.95,343.18 170.34,343.18 170.73,343.18 171.11,343.18 171.5,343.18 171.89,343.18 172.27,343.18 172.66,343.18 173.05,343.18 173.43,343.18 173.82,343.17 174.2,343.17 174.59,343.17 174.98,343.17 175.36,343.17 175.75,343.17 176.14,343.17 176.52,343.17 176.91,343.17 177.3,343.17 177.68,343.17 178.07,343.17 178.46,343.17 178.84,343.17 179.23,343.17 179.62,343.17 180,343.17 180.39,343.17 180.77,343.17 181.16,343.17 181.55,343.17 181.93,343.17 182.32,343.16 182.71,343.16 183.09,343.16 183.48,343.16 183.87,343.16 184.25,343.16 184.64,343.16 185.03,343.16 185.41,343.16 185.8,343.16 186.18,343.16 186.57,343.16 186.96,343.16 187.34,343.16 187.73,343.16 188.12,343.16 188.5,343.16 188.89,343.16 189.28,343.16 189.66,343.16 190.05,343.16 190.44,343.16 190.82,343.16 191.21,343.16 191.59,343.16 191.98,343.16 192.37,343.16 192.75,343.16 193.14,343.16 193.53,343.16 193.91,343.16 194.3,343.16" fill="none" stroke="#c23c44" stroke-width="0.7" stroke-linejoin="round"/>
<polyline points="40.11,371.5 40.49,371.5 40.88,371.5 41.27,371.5 41.65,371.5 42.04,371.5 42.43,371.5 42.81,371.5 43.2,371.5 43.59,371.5 43.97,371.5 44.36,371.5 44.75,371.5 45.13,371.5 45.52,371.5 45.9,371.5 46.29,371.5 46.68,371.5 47.06,371.5 47.45,371.5 47.84,371.5 48.22,371.5 48.61,371.5 49,371.5 49.38,371.5 49.77,371.5 50.16,371.5 50.54,371.5 50.93,371.5 51.31,371.5 51.7,371.5 52.09,371.5 52.47,371.5 52.86,371.5 53.25,371.5 53.63,371.5 54.02,371.5 54.41,371.5 54.79,371.5 55.18,371.5 55.57,371.5 55.95,371.5 56.34,371.5 56.73,371.5 57.11,371.5 57.5,371.5 57.88,371.5 58.27,371.5 58.66,371.5 59.04,371.5 59.43,371.5 59.82,371.5 60.2,371.5 60.59,371.5 60.98,371.5 61.36,371.5 61.75,371.5 62.14,371.48 62.52,371.46 62.91,371.42 63.29,371.37 63.68,371.32 64.07,371.26 64.45,371.18 64.84,371.05 65.23,370.85 65.61,370.59 66,370.29 66.39,369.94 66.77,369.54 67.16,369.11 67.55,368.65 67.93,368.17 68.32,367.66 68.71,367.14 69.09,366.6 69.48,366.06 69.86,365.53 70.25,364.99 70.64,364.43 71.02,363.79 71.41,363.09 71.8,362.34 72.18,361.56 72.57,360.74 72.96,359.92 73.34,359.1 73.73,358.3 74.12,357.52 74.5,356.79 74.89,356.1 75.27,355.46 75.66,354.82 76.05,354.19 76.43,353.56 76.82,352.94 77.21,352.34 77.59,351.76 77.98,351.2 78.37,350.67 78.75,350.18 79.14,349.71 79.53,349.29 79.91,348.91 80.3,348.53 80.68,348.16 81.07,347.8 81.46,347.46 81.84,347.13 82.23,346.83 82.62,346.54 83,346.28 83.39,346.05 83.78,345.85 84.16,345.68 84.55,345.55 84.94,345.42 85.32,345.3 85.71,345.18 86.1,345.07 86.48,344.96 86.87,344.86 87.25,344.76 87.64,344.67 88.03,344.58 88.41,344.5 88.8,344.41 89.19,344.34 89.57,344.27 89.96,344.2 90.35,344.13 90.73,344.07 91.12,344.01 91.51,343.96 91.89,343.91 92.28,343.86 92.66,343.81 93.05,343.77 93.44,343.73 93.82,343.7 94.21,343.66 94.6,343.63 94.98,343.59 95.37,343.56 95.76,343.53 96.14,343.5 96.53,343.46 96.92,343.43 97.3,343.4 97.69,343.37 98.07,343.34 98.46,343.32 98.85,343.29 99.23,343.26 99.62,343.23 100.01,343.21 100.39,343.18 100.78,343.16 101.17,343.13 101.55,343.11 101.94,343.08 102.33,343.06 102.71,343.04 103.1,343.02 103.49,343 103.87,342.97 104.26,342.95 104.64,342.93 105.03,342.92 105.42,342.9 105.8,342.88 106.19,342.86 106.58,342.84 106.96,342.83 107.35,342.81 107.74,342.8 108.12,342.78 108.51,342.77 108.9,342.75 109.28,342.74 109.67,342.73 110.05,342.71 110.44,342.7 110.83,342.69 111.21,342.68 111.6,342.67 111.99,342.66 112.37,342.65 112.76,342.64 113.15,342.63 113.53,342.62 113.92,342.61 114.31,342.61 114.69,342.6 115.08,342.59 115.46,342.58 115.85,342.58 116.24,342.57 116.62,342.56 117.01,342.55 117.4,342.55 117.78,342.54 118.17,342.53 118.56,342.52 118.94,342.52 119.33,342.51 119.72,342.5 120.1,342.5 120.49,342.49 120.88,342.48 121.26,342.47 121.65,342.47 122.03,342.46 122.42,342.45 122.81,342.45 123.19,342.44 123.58,342.43 123.97,342.43 124.35,342.42 124.74,342.41 125.13,342.41 125.51,342.4 125.9,342.39 126.29,342.39 126.67,342.38 127.06,342.37 127.44,342.37 127.83,342.36 128.22,342.35 128.6,342.35 128.99,342.34 129.38,342.33 129.76,342.33 130.15,342.32 130.54,342.32 130.92,342.31 131.31,342.3 131.7,342.3 132.08,342.29 132.47,342.29 132.86,342.28 133.24,342.27 133.63,342.27 134.01,342.26 134.4,342.26 134.79,342.25 135.17,342.24 135.56,342.24 135.95,342.23 136.33,342.23 136.72,342.22 137.11,342.22 137.49,342.21 137.88,342.21 138.27,342.2 138.65,342.19 139.04,342.19 139.42,342.18 139.81,342.18 140.2,342.17 140.58,342.17 140.97,342.16 141.36,342.16 141.74,342.15 142.13,342.15 142.52,342.14 142.9,342.14 143.29,342.13 143.68,342.13 144.06,342.12 144.45,342.12 144.83,342.11 145.22,342.11 145.61,342.1 145.99,342.1 146.38,342.09 146.77,342.09 147.15,342.08 147.54,342.08 147.93,342.07 148.31,342.07 148.7,342.07 149.09,342.06 149.47,342.06 149.86,342.05 150.25,342.05 150.63,342.04 151.02,342.04 151.4,342.04 151.79,342.03 152.18,342.03 152.56,342.02 152.95,342.02 153.34,342.01 153.72,342.01 154.11,342.01 154.5,342 154.88,342 155.27,341.99 155.66,341.99 156.04,341.99 156.43,341.98 156.81,341.98 157.2,341.98 157.59,341.97 157.97,341.97 158.36,341.97 158.75,341.96 159.13,341.96 159.52,341.95 159.91,341.95 160.29,341.95 160.68,341.94 161.07,341.94 161.45,341.94 161.84,341.93 162.22,341.93 162.61,341.93 163,341.92 163.38,341.92 163.77,341.92 164.16,341.92 164.54,341.91 164.93,341.91 165.32,341.91 165.7,341.9 166.09,341.9 166.48,341.9 166.86,341.9 167.25,341.89 167.64,341.89 168.02,341.89 168.41,341.88 168.79,341.88 169.18,341.88 169.57,341.88 169.95,341.87 170.34,341.87 170.73,341.87 171.11,341.87 171.5,341.87 171.89,341.86 172.27,341.86 172.66,341.86 173.05,341.86 173.43,341.85 173.82,341.85 174.2,341.85 174.59,341.85 174.98,341.85 175.36,341.84 175.75,341.84 176.14,341.84 176.52,341.84 176.91,341.84 177.3,341.84 177.68,341.83 178.07,341.83 178.46,341.83 178.84,341.83 179.23,341.83 179.62,341.83 180,341.82 180.39,341.82 180.77,341.82 181.16,341.82 181.55,341.82 181.93,341.82 182.32,341.82 182.71,341.82 183.09,341.81 183.48,341.81 183.87,341.81 184.25,341.81 184.64,341.81 185.03,341.81 185.41,341.81 185.8,341.81 186.18,341.81 186.57,341.81 186.96,341.8 187.34,341.8 187.73,341.8 188.12,341.8 188.5,341.8 188.89,341.8 189.28,341.8 189.66,341.8 190.05,341.8 190.44,341.8 190.82,341.8 191.21,341.8 191.59,341.8 191.98,341.8 192.37,341.8 192.75,341.8 193.14,341.8 193.53,341.8 193.91,341.8 194.3,341.8" fill="none" stroke="#c23c44" stroke-width="0.7" stroke-linejoin="round"/>
<polyline points="40.11,371.5 40.49,371.5 40.88,371.5 41.27,371.5 41.65,371.5 42.04,371.5 42.43,371.5 42.81,371.5 43.2,371.5 43.59,371.5 43.97,371.5 44.36,371.5 44.75,371.5 45.13,371.5 45.52,371.5 45.9,371.5 46.29,371.5 46.68,371.5 47.06,371.5 47.45,371.5 47.84,371.5 48.22,371.5 48.61,371.5 49,371.5 49.38,371.5 49.77,371.5 50.16,371.5 50.54,371.5 50.93,371.5 51.31,371.5 51.7,371.5 52.09,371.5 52.47,371.5 52.86,371.5 53.25,371.5 53.63,371.5 54.02,371.5 54.41,371.5 54.79,371.5 55.18,371.5 55.57,371.5 55.95,371.5 56.34,371.5 56.73,371.5 57.11,371.5 57.5,371.5 57.88,371.5 58.27,371.5 58.66,371.5 59.04,371.5 59.43,371.5 59.82,371.5 60.2,371.5 60.59,371.5 60.98,371.5 61.36,371.5 61.75,371.5 62.14,371.5 62.52,371.5 62.91,371.5 63.29,371.5 63.68,371.5 64.07,371.5 64.45,371.5 64.84,371.5 65.23,371.5 65.61,371.5 66,371.5 66.39,371.5 66.77,371.5 67.16,371.5 67.55,371.5 67.93,371.5 68.32,371.5 68.71,371.5 69.09,371.5 69.48,371.5 69.86,371.5 70.25,371.47 70.64,371.44 71.02,371.39 71.41,371.33 71.8,371.27 72.18,371.19 72.57,371.09 72.96,370.94 73.34,370.75 73.73,370.54 74.12,370.29 74.5,370.01 74.89,369.7 75.27,369.38 75.66,369.03 76.05,368.66 76.43,368.28 76.82,367.89 77.21,367.49 77.59,367.08 77.98,366.67 78.37,366.24 78.75,365.74 79.14,365.18 79.53,364.57 79.91,363.93 80.3,363.25 80.68,362.55 81.07,361.84 81.46,361.13 81.84,360.42 82.23,359.73 82.62,359.07 83,358.41 83.39,357.73 83.78,357.02 84.16,356.31 84.55,355.59 84.94,354.89 85.32,354.2 85.71,353.54 86.1,352.91 86.48,352.34 86.87,351.81 87.25,351.35 87.64,350.89 88.03,350.44 88.41,350 88.8,349.57 89.19,349.15 89.57,348.75 89.96,348.36 90.35,348 90.73,347.65 91.12,347.33 91.51,347.04 91.89,346.77 92.28,346.54 92.66,346.33 93.05,346.16 93.44,346.02 93.82,345.88 94.21,345.75 94.6,345.62 94.98,345.5 95.37,345.38 95.76,345.27 96.14,345.17 96.53,345.06 96.92,344.97 97.3,344.88 97.69,344.79 98.07,344.71 98.46,344.63 98.85,344.55 99.23,344.48 99.62,344.41 100.01,344.35 100.39,344.28 100.78,344.22 101.17,344.16 101.55,344.1 101.94,344.05 102.33,344 102.71,343.94 103.1,343.89 103.49,343.84 103.87,343.79 104.26,343.74 104.64,343.69 105.03,343.64 105.42,343.59 105.8,343.54 106.19,343.49 106.58,343.44 106.96,343.4 107.35,343.35 107.74,343.31 108.12,343.26 108.51,343.22 108.9,343.17 109.28,343.13 109.67,343.09 110.05,343.05 110.44,343.01 110.83,342.97 111.21,342.93 111.6,342.9 111.99,342.86 112.37,342.82 112.76,342.79 113.15,342.76 113.53,342.72 113.92,342.69 114.31,342.66 114.69,342.63 115.08,342.61 115.46,342.58 115.85,342.55 116.24,342.53 116.62,342.51 117.01,342.48 117.4,342.46 117.78,342.44 118.17,342.43 118.56,342.41 118.94,342.39 119.33,342.38 119.72,342.37 120.1,342.35 120.49,342.34 120.88,342.34 121.26,342.33 121.65,342.32 122.03,342.31 122.42,342.3 122.81,342.29 123.19,342.28 123.58,342.27 123.97,342.26 124.35,342.26 124.74,342.25 125.13,342.24 125.51,342.23 125.9,342.22 126.29,342.21 126.67,342.21 127.06,342.2 127.44,342.19 127.83,342.18 128.22,342.17 128.6,342.17 128.99,342.16 129.38,342.15 129.76,342.14 130.15,342.13 130.54,342.13 130.92,342.12 131.31,342.11 131.7,342.1 132.08,342.1 132.47,342.09 132.86,342.08 133.24,342.07 133.63,342.07 134.01,342.06 134.4,342.05 134.79,342.05 135.17,342.04 135.56,342.03 135.95,342.02 136.33,342.02 136.72,342.01 137.11,342 137.49,342 137.88,341.99 138.27,341.98 138.65,341.98 139.04,341.97 139.42,341.96 139.81,341.96 140.2,341.95 140.58,341.95 140.97,341.94 141.36,341.93 141.74,341.93 142.13,341.92 142.52,341.91 142.9,341.91 143.29,341.9 143.68,341.9 144.06,341.89 144.45,341.88 144.83,341.88 145.22,341.87 145.61,341.87 145.99,341.86 146.38,341.86 146.77,341.85 147.15,341.85 147.54,341.84 147.93,341.83 148.31,341.83 148.7,341.82 149.09,341.82 149.47,341.81 149.86,341.81 150.25,341.8 150.63,341.8 151.02,341.79 151.4,341.79 151.79,341.78 152.18,341.78 152.56,341.77 152.95,341.77 153.34,341.76 153.72,341.76 154.11,341.76 154.5,341.75 154.88,341.75 155.27,341.74 155.66,341.74 156.04,341.73 156.43,341.73 156.81,341.72 157.2,341.72 157.59,341.72 157.97,341.71 158.36,341.71 158.75,341.7 159.13,341.7 159.52,341.7 159.91,341.69 160.29,341.69 160.68,341.68 161.07,341.68 161.45,341.68 161.84,341.67 162.22,341.67 162.61,341.67 163,341.66 163.38,341.66 163.77,341.66 164.16,341.65 164.54,341.65 164.93,341.65 165.32,341.64 165.7,341.64 166.09,341.64 166.48,341.63 166.86,341.63 167.25,341.63 167.64,341.62 168.02,341.62 168.41,341.62 168.79,341.62 169.18,341.61 169.57,341.61 169.95,341.61 170.34,341.6 170.73,341.6 171.11,341.6 171.5,341.6 171.89,341.59 172.27,341.59 172.66,341.59 173.05,341.59 173.43,341.59 173.82,341.58 174.2,341.58 174.59,341.58 174.98,341.58 175.36,341.57 175.75,341.57 176.14,341.57 176.52,341.57 176.91,341.57 177.3,341.56 177.68,341.56 178.07,341.56 178.46,341.56 178.84,341.56 179.23,341.56 179.62,341.55 180,341.55 180.39,341.55 180.77,341.55 181.16,341.55 181.55,341.55 181.93,341.55 182.32,341.54 182.71,341.54 183.09,341.54 183.48,341.54 183.87,341.54 184.25,341.54 184.64,341.54 185.03,341.54 185.41,341.54 185.8,341.53 186.18,341.53 186.57,341.53 186.96,341.53 187.34,341.53 187.73,341.53 188.12,341.53 188.5,341.53 188.89,341.53 189.28,341.53 189.66,341.53 190.05,341.53 190.44,341.53 190.82,341.53 191.21,341.53 191.59,341.53 191.98,341.53 192.37,341.53 192.75,341.53 193.14,341.53 193.53,341.53 193.91,341.53 194.3,341.52" fill="none" stroke="#c23c44" stroke-width="0.7" stroke-linejoin="round"/>
<polyline points="40.11,371.5 40.49,371.5 40.88,371.5 41.27,371.5 41.65,371.5 42.04,371.5 42.43,371.5 42.81,371.5 43.2,371.5 43.59,371.5 43.97,371.5 44.36,371.5 44.75,371.5 45.13,371.5 45.52,371.5 45.9,371.5 46.29,371.5 46.68,371.5 47.06,371.5 47.45,371.5 47.84,371.5 48.22,371.5 48.61,371.5 49,371.5 49.38,371.5 49.77,371.5 50.16,371.5 50.54,371.5 50.93,371.5 51.31,371.5 51.7,371.5 52.09,371.5 52.47,371.5 52.86,371.5 53.25,371.5 53.63,371.5 54.02,371.5 54.41,371.5 54.79,371.5 55.18,371.5 55.57,371.5 55.95,371.5 56.34,371.5 56.73,371.5 57.11,371.5 57.5,371.5 57.88,371.5 58.27,371.5 58.66,371.5 59.04,371.5 59.43,371.5 59.82,371.5 60.2,371.5 60.59,371.5 60.98,371.5 61.36,371.5 61.75,371.5 62.14,371.5 62.52,371.5 62.91,371.5 63.29,371.5 63.68,371.5 64.07,371.5 64.45,371.5 64.84,371.5 65.23,371.5 65.61,371.5 66,371.5 66.39,371.5 66.77,371.5 67.16,371.5 67.55,371.5 67.93,371.5 68.32,371.5 68.71,371.5 69.09,371.5 69.48,371.5 69.86,371.5 70.25,371.5 70.64,371.5 71.02,371.5 71.41,371.5 71.8,371.5 72.18,371.5 72.57,371.5 72.96,371.5 73.34,371.5 73.73,371.5 74.12,371.49 74.5,371.46 74.89,371.43 75.27,371.38 75.66,371.32 76.05,371.25 76.43,371.18 76.82,371.1 77.21,371.01 77.59,370.92 77.98,370.83 78.37,370.73 78.75,370.63 79.14,370.54 79.53,370.44 79.91,370.35 80.3,370.24 80.68,370.13 81.07,370.01 81.46,369.89 81.84,369.75 82.23,369.61 82.62,369.47 83,369.32 83.39,369.17 83.78,369.02 84.16,368.86 84.55,368.7 84.94,368.54 85.32,368.38 85.71,368.22 86.1,368.07 86.48,367.91 86.87,367.75 87.25,367.58 87.64,367.41 88.03,367.23 88.41,367.06 88.8,366.87 89.19,366.69 89.57,366.51 89.96,366.32 90.35,366.14 90.73,365.96 91.12,365.78 91.51,365.61 91.89,365.44 92.28,365.27 92.66,365.12 93.05,364.97 93.44,364.82 93.82,364.67 94.21,364.52 94.6,364.36 94.98,364.21 95.37,364.05 95.76,363.89 96.14,363.74 96.53,363.59 96.92,363.43 97.3,363.29 97.69,363.14 98.07,363 98.46,362.87 98.85,362.74 99.23,362.62 99.62,362.51 100.01,362.4 100.39,362.3 100.78,362.21 101.17,362.14 101.55,362.07 101.94,362.02 102.33,361.97 102.71,361.94 103.1,361.91 103.49,361.88 103.87,361.85 104.26,361.83 104.64,361.8 105.03,361.77 105.42,361.75 105.8,361.72 106.19,361.7 106.58,361.68 106.96,361.66 107.35,361.64 107.74,361.62 108.12,361.6 108.51,361.58 108.9,361.57 109.28,361.55 109.67,361.54 110.05,361.52 110.44,361.51 110.83,361.5 111.21,361.48 111.6,361.47 111.99,361.46 112.37,361.45 112.76,361.45 113.15,361.44 113.53,361.43 113.92,361.43 114.31,361.42 114.69,361.42 115.08,361.41 115.46,361.41 115.85,361.4 116.24,361.4 116.62,361.39 117.01,361.39 117.4,361.39 117.78,361.38 118.17,361.38 118.56,361.37 118.94,361.37 119.33,361.36 119.72,361.36 120.1,361.36 120.49,361.35 120.88,361.35 121.26,361.34 121.65,361.34 122.03,361.34 122.42,361.33 122.81,361.33 123.19,361.33 123.58,361.32 123.97,361.32 124.35,361.31 124.74,361.31 125.13,361.31 125.51,361.3 125.9,361.3 126.29,361.3 126.67,361.29 127.06,361.29 127.44,361.28 127.83,361.28 128.22,361.28 128.6,361.27 128.99,361.27 129.38,361.27 129.76,361.26 130.15,361.26 130.54,361.26 130.92,361.25 131.31,361.25 131.7,361.25 132.08,361.24 132.47,361.24 132.86,361.24 133.24,361.24 133.63,361.23 134.01,361.23 134.4,361.23 134.79,361.22 135.17,361.22 135.56,361.22 135.95,361.21 136.33,361.21 136.72,361.21 137.11,361.2 137.49,361.2 137.88,361.2 138.27,361.2 138.65,361.19 139.04,361.19 139.42,361.19 139.81,361.19 140.2,361.18 140.58,361.18 140.97,361.18 141.36,361.17 141.74,361.17 142.13,361.17 142.52,361.17 142.9,361.16 143.29,361.16 143.68,361.16 144.06,361.16 144.45,361.15 144.83,361.15 145.22,361.15 145.61,361.15 145.99,361.14 146.38,361.14 146.77,361.14 147.15,361.14 147.54,361.14 147.93,361.13 148.31,361.13 148.7,361.13 149.09,361.13 149.47,361.12 149.86,361.12 150.25,361.12 150.63,361.12 151.02,361.12 151.4,361.11 151.79,361.11 152.18,361.11 152.56,361.11 152.95,361.11 153.34,361.1 153.72,361.1 154.11,361.1 154.5,361.1 154.88,361.1 155.27,361.09 155.66,361.09 156.04,361.09 156.43,361.09 156.81,361.09 157.2,361.09 157.59,361.08 157.97,361.08 158.36,361.08 158.75,361.08 159.13,361.08 159.52,361.08 159.91,361.07 160.29,361.07 160.68,361.07 161.07,361.07 161.45,361.07 161.84,361.07 162.22,361.07 162.61,361.06 163,361.06 163.38,361.06 163.77,361.06 164.16,361.06 164.54,361.06 164.93,361.06 165.32,361.05 165.7,361.05 166.09,361.05 166.48,361.05 166.86,361.05 167.25,361.05 167.64,361.05 168.02,361.05 168.41,361.05 168.79,361.04 169.18,361.04 169.57,361.04 169.95,361.04 170.34,361.04 170.73,361.04 171.11,361.04 171.5,361.04 171.89,361.04 172.27,361.03 172.66,361.03 173.05,361.03 173.43,361.03 173.82,361.03 174.2,361.03 174.59,361.03 174.98,361.03 175.36,361.03 175.75,361.03 176.14,361.03 176.52,361.03 176.91,361.02 177.3,361.02 177.68,361.02 178.07,361.02 178.46,361.02 178.84,361.02 179.23,361.02 179.62,361.02 180,361.02 180.39,361.02 180.77,361.02 181.16,361.02 181.55,361.02 181.93,361.02 182.32,361.02 182.71,361.02 183.09,361.02 183.48,361.01 183.87,361.01 184.25,361.01 184.64,361.01 185.03,361.01 185.41,361.01 185.8,361.01 186.18,361.01 186.57,361.01 186.96,361.01 187.34,361.01 187.73,361.01 188.12,361.01 188.5,361.01 188.89,361.01 189.28,361.01 189.66,361.01 190.05,361.01 190.44,361.01 190.82,361.01 191.21,361.01 191.59,361.01 191.98,361.01 192.37,361.01 192.75,361.01 193.14,361.01 193.53,361.01 193.91,361.01 194.3,361.01" fill="none" stroke="#c23c44" stroke-width="0.7" stroke-linejoin="round"/>
<polyline points="40.11,371.5 40.49,371.5 40.88,371.5 41.27,371.5 41.65,371.5 42.04,371.5 42.43,371.5 42.81,371.5 43.2,371.5 43.59,371.5 43.97,371.5 44.36,371.5 44.75,371.5 45.13,371.5 45.52,371.5 45.9,371.5 46.29,371.5 46.68,371.5 47.06,371.5 47.45,371.5 47.84,371.5 48.22,371.5 48.61,371.5 49,371.5 49.38,371.5 49.77,371.5 50.16,371.5 50.54,371.5 50.93,371.5 51.31,371.5 51.7,371.5 52.09,371.5 52.47,371.5 52.86,371.5 53.25,371.5 53.63,371.5 54.02,371.5 54.41,371.5 54.79,371.5 55.18,371.5 55.57,371.5 55.95,371.5 56.34,371.5 56.73,371.5 57.11,371.5 57.5,371.5 57.88,371.5 58.27,371.5 58.66,371.5 59.04,371.5 59.43,371.5 59.82,371.5 60.2,371.5 60.59,371.5 60.98,371.5 61.36,371.5 61.75,371.5 62.14,371.5 62.52,371.5 62.91,371.5 63.29,371.5 63.68,371.5 64.07,371.5 64.45,371.5 64.84,371.5 65.23,371.5 65.61,371.5 66,371.5 66.39,371.5 66.77,371.5 67.16,371.5 67.55,371.5 67.93,371.5 68.32,371.5 68.71,371.5 69.09,371.5 69.48,371.5 69.86,371.5 70.25,371.5 70.64,371.5 71.02,371.49 71.41,371.48 71.8,371.46 72.18,371.44 72.57,371.42 72.96,371.39 73.34,371.36 73.73,371.33 74.12,371.3 74.5,371.27 74.89,371.23 75.27,371.2 75.66,371.15 76.05,371.1 76.43,371.03 76.82,370.96 77.21,370.89 77.59,370.81 77.98,370.72 78.37,370.63 78.75,370.53 79.14,370.43 79.53,370.33 79.91,370.23 80.3,370.13 80.68,370.02 81.07,369.92 81.46,369.82 81.84,369.72 82.23,369.62 82.62,369.52 83,369.42 83.39,369.32 83.78,369.22 84.16,369.11 84.55,369 84.94,368.88 85.32,368.77 85.71,368.66 86.1,368.54 86.48,368.43 86.87,368.31 87.25,368.2 87.64,368.09 88.03,367.98 88.41,367.87 88.8,367.76 89.19,367.66 89.57,367.56 89.96,367.47 90.35,367.37 90.73,367.28 91.12,367.19 91.51,367.1 91.89,367 92.28,366.91 92.66,366.81 93.05,366.72 93.44,366.62 93.82,366.53 94.21,366.43 94.6,366.34 94.98,366.25 95.37,366.16 95.76,366.07 96.14,365.98 96.53,365.9 96.92,365.81 97.3,365.73 97.69,365.65 98.07,365.58 98.46,365.5 98.85,365.43 99.23,365.37 99.62,365.3 100.01,365.24 100.39,365.19 100.78,365.13 101.17,365.09 101.55,365.04 101.94,365 102.33,364.97 102.71,364.94 103.1,364.91 103.49,364.88 103.87,364.85 104.26,364.83 104.64,364.8 105.03,364.77 105.42,364.75 105.8,364.72 106.19,364.7 106.58,364.68 106.96,364.65 107.35,364.63 107.74,364.61 108.12,364.59 108.51,364.57 108.9,364.55 109.28,364.54 109.67,364.52 110.05,364.51 110.44,364.49 110.83,364.48 111.21,364.47 111.6,364.45 111.99,364.45 112.37,364.44 112.76,364.43 113.15,364.42 113.53,364.42 113.92,364.41 114.31,364.41 114.69,364.41 115.08,364.41 115.46,364.4 115.85,364.4 116.24,364.4 116.62,364.39 117.01,364.39 117.4,364.39 117.78,364.38 118.17,364.38 118.56,364.38 118.94,364.38 119.33,364.37 119.72,364.37 120.1,364.37 120.49,364.36 120.88,364.36 121.26,364.36 121.65,364.36 122.03,364.35 122.42,364.35 122.81,364.35 123.19,364.35 123.58,364.34 123.97,364.34 124.35,364.34 124.74,364.34 125.13,364.33 125.51,364.33 125.9,364.33 126.29,364.33 126.67,364.32 127.06,364.32 127.44,364.32 127.83,364.32 128.22,364.31 128.6,364.31 128.99,364.31 129.38,364.31 129.76,364.3 130.15,364.3 130.54,364.3 130.92,364.3 131.31,364.3 131.7,364.29 132.08,364.29 132.47,364.29 132.86,364.29 133.24,364.28 133.63,364.28 134.01,364.28 134.4,364.28 134.79,364.28 135.17,364.27 135.56,364.27 135.95,364.27 136.33,364.27 136.72,364.27 137.11,364.26 137.49,364.26 137.88,364.26 138.27,364.26 138.65,364.26 139.04,364.26 139.42,364.25 139.81,364.25 140.2,364.25 140.58,364.25 140.97,364.25 141.36,364.24 141.74,364.24 142.13,364.24 142.52,364.24 142.9,364.24 143.29,364.24 143.68,364.23 144.06,364.23 144.45,364.23 144.83,364.23 145.22,364.23 145.61,364.23 145.99,364.23 146.38,364.22 146.77,364.22 147.15,364.22 147.54,364.22 147.93,364.22 148.31,364.22 148.7,364.22 149.09,364.21 149.47,364.21 149.86,364.21 150.25,364.21 150.63,364.21 151.02,364.21 151.4,364.21 151.79,364.2 152.18,364.2 152.56,364.2 152.95,364.2 153.34,364.2 153.72,364.2 154.11,364.2 154.5,364.2 154.88,364.2 155.27,364.19 155.66,364.19 156.04,364.19 156.43,364.19 156.81,364.19 157.2,364.19 157.59,364.19 157.97,364.19 158.36,364.19 158.75,364.18 159.13,364.18 159.52,364.18 159.91,364.18 160.29,364.18 160.68,364.18 161.07,364.18 161.45,364.18 161.84,364.18 162.22,364.18 162.61,364.17 163,364.17 163.38,364.17 163.77,364.17 164.16,364.17 164.54,364.17 164.93,364.17 165.32,364.17 165.7,364.17 166.09,364.17 166.48,364.17 166.86,364.17 167.25,364.17 167.64,364.16 168.02,364.16 168.41,364.16 168.79,364.16 169.18,364.16 169.57,364.16 169.95,364.16 170.34,364.16 170.73,364.16 171.11,364.16 171.5,364.16 171.89,364.16 172.27,364.16 172.66,364.16 173.05,364.16 173.43,364.16 173.82,364.16 174.2,364.15 174.59,364.15 174.98,364.15 175.36,364.15 175.75,364.15 176.14,364.15 176.52,364.15 176.91,364.15 177.3,364.15 177.68,364.15 178.07,364.15 178.46,364.15 178.84,364.15 179.23,364.15 179.62,364.15 180,364.15 180.39,364.15 180.77,364.15 181.16,364.15 181.55,364.15 181.93,364.15 182.32,364.15 182.71,364.15 183.09,364.15 183.48,364.15 183.87,364.15 184.25,364.15 184.64,364.15 185.03,364.14 185.41,364.14 185.8,364.14 186.18,364.14 186.57,364.14 186.96,364.14 187.34,364.14 187.73,364.14 188.12,364.14 188.5,364.14 188.89,364.14 189.28,364.14 189.66,364.14 190.05,364.14 190.44,364.14 190.82,364.14 191.21,364.14 191.59,364.14 191.98,364.14 192.37,364.14 192.75,364.14 193.14,364.14 193.53,364.14 193.91,364.14 194.3,364.14" fill="none" stroke="#c23c44" stroke-width="0.7" stroke-linejoin="round"/>
<polyline points="40.11,371.5 40.49,371.5 40.88,371.5 41.27,371.5 41.65,371.5 42.04,371.5 42.43,371.5 42.81,371.5 43.2,371.5 43.59,371.5 43.97,371.5 44.36,371.5 44.75,371.5 45.13,371.5 45.52,371.5 45.9,371.5 46.29,371.5 46.68,371.5 47.06,371.5 47.45,371.5 47.84,371.5 48.22,371.5 48.61,371.5 49,371.5 49.38,371.5 49.77,371.5 50.16,371.5 50.54,371.5 50.93,371.5 51.31,371.5 51.7,371.5 52.09,371.5 52.47,371.5 52.86,371.5 53.25,371.5 53.63,371.5 54.02,371.5 54.41,371.5 54.79,371.5 55.18,371.5 55.57,371.5 55.95,371.5 56.34,371.5 56.73,371.5 57.11,371.5 57.5,371.5 57.88,371.5 58.27,371.5 58.66,371.5 59.04,371.5 59.43,371.5 59.82,371.5 60.2,371.5 60.59,371.5 60.98,371.5 61.36,371.5 61.75,371.5 62.14,371.5 62.52,371.5 62.91,371.5 63.29,371.5 63.68,371.5 64.07,371.5 64.45,371.5 64.84,371.5 65.23,371.5 65.61,371.5 66,371.5 66.39,371.5 66.77,371.5 67.16,371.5 67.55,371.5 67.93,371.5 68.32,371.5 68.71,371.5 69.09,371.5 69.48,371.5 69.86,371.5 70.25,371.5 70.64,371.5 71.02,371.5 71.41,371.5 71.8,371.5 72.18,371.5 72.57,371.5 72.96,371.5 73.34,371.5 73.73,371.5 74.12,371.5 74.5,371.5 74.89,371.5 75.27,371.5 75.66,371.5 76.05,371.5 76.43,371.5 76.82,371.5 77.21,371.5 77.59,371.5 77.98,371.5 78.37,371.49 78.75,371.48 79.14,371.47 79.53,371.45 79.91,371.43 80.3,371.41 80.68,371.38 81.07,371.35 81.46,371.33 81.84,371.3 82.23,371.26 82.62,371.23 83,371.2 83.39,371.15 83.78,371.1 84.16,371.03 84.55,370.96 84.94,370.89 85.32,370.81 85.71,370.72 86.1,370.63 86.48,370.53 86.87,370.44 87.25,370.34 87.64,370.24 88.03,370.14 88.41,370.04 88.8,369.95 89.19,369.86 89.57,369.77 89.96,369.68 90.35,369.6 90.73,369.52 91.12,369.45 91.51,369.37 91.89,369.29 92.28,369.22 92.66,369.14 93.05,369.06 93.44,368.98 93.82,368.91 94.21,368.84 94.6,368.76 94.98,368.69 95.37,368.62 95.76,368.55 96.14,368.48 96.53,368.42 96.92,368.36 97.3,368.3 97.69,368.24 98.07,368.18 98.46,368.13 98.85,368.07 99.23,368.01 99.62,367.95 100.01,367.9 100.39,367.84 100.78,367.78 101.17,367.72 101.55,367.66 101.94,367.61 102.33,367.55 102.71,367.49 103.1,367.44 103.49,367.39 103.87,367.34 104.26,367.29 104.64,367.24 105.03,367.19 105.42,367.15 105.8,367.11 106.19,367.07 106.58,367.03 106.96,367 107.35,366.97 107.74,366.95 108.12,366.92 108.51,366.9 108.9,366.89 109.28,366.88 109.67,366.87 110.05,366.87 110.44,366.86 110.83,366.86 111.21,366.86 111.6,366.85 111.99,366.85 112.37,366.85 112.76,366.84 113.15,366.84 113.53,366.84 113.92,366.84 114.31,366.83 114.69,366.83 115.08,366.83 115.46,366.82 115.85,366.82 116.24,366.82 116.62,366.82 117.01,366.81 117.4,366.81 117.78,366.81 118.17,366.8 118.56,366.8 118.94,366.8 119.33,366.8 119.72,366.79 120.1,366.79 120.49,366.79 120.88,366.79 121.26,366.78 121.65,366.78 122.03,366.78 122.42,366.78 122.81,366.77 123.19,366.77 123.58,366.77 123.97,366.77 124.35,366.76 124.74,366.76 125.13,366.76 125.51,366.76 125.9,366.76 126.29,366.75 126.67,366.75 127.06,366.75 127.44,366.75 127.83,366.74 128.22,366.74 128.6,366.74 128.99,366.74 129.38,366.74 129.76,366.73 130.15,366.73 130.54,366.73 130.92,366.73 131.31,366.73 131.7,366.72 132.08,366.72 132.47,366.72 132.86,366.72 133.24,366.72 133.63,366.71 134.01,366.71 134.4,366.71 134.79,366.71 135.17,366.71 135.56,366.7 135.95,366.7 136.33,366.7 136.72,366.7 137.11,366.7 137.49,366.7 137.88,366.69 138.27,366.69 138.65,366.69 139.04,366.69 139.42,366.69 139.81,366.69 140.2,366.68 140.58,366.68 140.97,366.68 141.36,366.68 141.74,366.68 142.13,366.68 142.52,366.68 142.9,366.67 143.29,366.67 143.68,366.67 144.06,366.67 144.45,366.67 144.83,366.67 145.22,366.67 145.61,366.66 145.99,366.66 146.38,366.66 146.77,366.66 147.15,366.66 147.54,366.66 147.93,366.66 148.31,366.66 148.7,366.65 149.09,366.65 149.47,366.65 149.86,366.65 150.25,366.65 150.63,366.65 151.02,366.65 151.4,366.65 151.79,366.65 152.18,366.64 152.56,366.64 152.95,366.64 153.34,366.64 153.72,366.64 154.11,366.64 154.5,366.64 154.88,366.64 155.27,366.64 155.66,366.64 156.04,366.63 156.43,366.63 156.81,366.63 157.2,366.63 157.59,366.63 157.97,366.63 158.36,366.63 158.75,366.63 159.13,366.63 159.52,366.63 159.91,366.63 160.29,366.62 160.68,366.62 161.07,366.62 161.45,366.62 161.84,366.62 162.22,366.62 162.61,366.62 163,366.62 163.38,366.62 163.77,366.62 164.16,366.62 164.54,366.62 164.93,366.62 165.32,366.62 165.7,366.61 166.09,366.61 166.48,366.61 166.86,366.61 167.25,366.61 167.64,366.61 168.02,366.61 168.41,366.61 168.79,366.61 169.18,366.61 169.57,366.61 169.95,366.61 170.34,366.61 170.73,366.61 171.11,366.61 171.5,366.61 171.89,366.61 172.27,366.61 172.66,366.61 173.05,366.61 173.43,366.6 173.82,366.6 174.2,366.6 174.59,366.6 174.98,366.6 175.36,366.6 175.75,366.6 176.14,366.6 176.52,366.6 176.91,366.6 177.3,366.6 177.68,366.6 178.07,366.6 178.46,366.6 178.84,366.6 179.23,366.6 179.62,366.6 180,366.6 180.39,366.6 180.77,366.6 181.16,366.6 181.55,366.6 181.93,366.6 182.32,366.6 182.71,366.6 183.09,366.6 183.48,366.6 183.87,366.6 184.25,366.6 184.64,366.6 185.03,366.6 185.41,366.6 185.8,366.6 186.18,366.6 186.57,366.6 186.96,366.6 187.34,366.6 187.73,366.6 188.12,366.6 188.5,366.6 188.89,366.6 189.28,366.6 189.66,366.6 190.05,366.6 190.44,366.6 190.82,366.6 191.21,366.6 191.59,366.6 191.98,366.6 192.37,366.6 192.75,366.6 193.14,366.6 193.53,366.6 193.91,366.6 194.3,366.6" fill="none" stroke="#c23c44" stroke-width="0.7" stroke-linejoin="round"/>
</g>
<rect x="26.5" y="208" width="168" height="163.5" fill="none" stroke="#5a5a5a" stroke-width="0.9"/>
<line x1="26.7" y1="371.5" x2="26.7" y2="373.5" stroke="#5a5a5a" stroke-width="0.8"/>
<text x="26.7" y="383" font-size="9.8" text-anchor="middle" textLength="5.73" lengthAdjust="spacingAndGlyphs">0</text>
<line x1="60.22" y1="371.5" x2="60.22" y2="373.5" stroke="#5a5a5a" stroke-width="0.8"/>
<text x="60.22" y="383" font-size="9.8" text-anchor="middle" textLength="5.73" lengthAdjust="spacingAndGlyphs">5</text>
<line x1="93.74" y1="371.5" x2="93.74" y2="373.5" stroke="#5a5a5a" stroke-width="0.8"/>
<text x="93.74" y="383" font-size="9.8" text-anchor="middle" textLength="11.45" lengthAdjust="spacingAndGlyphs">10</text>
<line x1="127.26" y1="371.5" x2="127.26" y2="373.5" stroke="#5a5a5a" stroke-width="0.8"/>
<text x="127.26" y="383" font-size="9.8" text-anchor="middle" textLength="11.45" lengthAdjust="spacingAndGlyphs">15</text>
<line x1="160.78" y1="371.5" x2="160.78" y2="373.5" stroke="#5a5a5a" stroke-width="0.8"/>
<text x="160.78" y="383" font-size="9.8" text-anchor="middle" textLength="11.45" lengthAdjust="spacingAndGlyphs">20</text>
<line x1="194.3" y1="371.5" x2="194.3" y2="373.5" stroke="#5a5a5a" stroke-width="0.8"/>
<text x="194.3" y="383" font-size="9.8" text-anchor="middle" textLength="11.45" lengthAdjust="spacingAndGlyphs">25</text>
<line x1="24.5" y1="371.5" x2="26.5" y2="371.5" stroke="#5a5a5a" stroke-width="0.8"/>
<text x="22.9" y="375" font-size="9.8" text-anchor="end" textLength="5.73" lengthAdjust="spacingAndGlyphs">0</text>
<line x1="24.5" y1="344.25" x2="26.5" y2="344.25" stroke="#5a5a5a" stroke-width="0.8"/>
<text x="22.9" y="347.75" font-size="9.8" text-anchor="end" textLength="5.73" lengthAdjust="spacingAndGlyphs">1</text>
<line x1="24.5" y1="317" x2="26.5" y2="317" stroke="#5a5a5a" stroke-width="0.8"/>
<text x="22.9" y="320.5" font-size="9.8" text-anchor="end" textLength="5.73" lengthAdjust="spacingAndGlyphs">2</text>
<line x1="24.5" y1="289.75" x2="26.5" y2="289.75" stroke="#5a5a5a" stroke-width="0.8"/>
<text x="22.9" y="293.25" font-size="9.8" text-anchor="end" textLength="5.73" lengthAdjust="spacingAndGlyphs">3</text>
<line x1="24.5" y1="262.5" x2="26.5" y2="262.5" stroke="#5a5a5a" stroke-width="0.8"/>
<text x="22.9" y="266" font-size="9.8" text-anchor="end" textLength="5.73" lengthAdjust="spacingAndGlyphs">4</text>
<line x1="24.5" y1="235.25" x2="26.5" y2="235.25" stroke="#5a5a5a" stroke-width="0.8"/>
<text x="22.9" y="238.75" font-size="9.8" text-anchor="end" textLength="5.73" lengthAdjust="spacingAndGlyphs">5</text>
<line x1="24.5" y1="208" x2="26.5" y2="208" stroke="#5a5a5a" stroke-width="0.8"/>
<text x="22.9" y="211.5" font-size="9.8" text-anchor="end" textLength="5.73" lengthAdjust="spacingAndGlyphs">6</text>
<text x="110.9" y="393.7" font-size="9.8" text-anchor="middle" textLength="74.5" lengthAdjust="spacingAndGlyphs">Temperature (K)</text>
<text x="12" y="288.4" font-size="9.4" text-anchor="middle" textLength="46.5" lengthAdjust="spacingAndGlyphs" transform="rotate(-90 12 288.4)"><tspan font-style="italic">ρ</tspan> (mΩ.cm)</text>
<text x="28.7" y="219" font-size="9.6" fill="#b0282e" stroke="none" textLength="65.6" lengthAdjust="spacingAndGlyphs"><tspan font-style="italic">Ex situ</tspan> reduction</text>
<text x="2.2" y="216.1" font-size="13" textLength="11.3" lengthAdjust="spacingAndGlyphs">d)</text>
<clipPath id="ce"><rect x="239" y="209.5" width="164.9" height="164"/></clipPath>
<g clip-path="url(#ce)">
<polyline points="252.17,372.4 252.55,372.4 252.93,372.4 253.31,372.4 253.69,372.4 254.07,372.4 254.45,372.4 254.82,372.4 255.2,372.4 255.58,372.4 255.96,372.4 256.34,372.4 256.72,372.4 257.1,372.4 257.48,372.4 257.86,372.4 258.24,372.4 258.62,372.4 259,372.4 259.38,372.4 259.76,372.4 260.14,372.4 260.52,372.4 260.9,372.4 261.28,372.4 261.66,372.4 262.04,372.4 262.42,372.4 262.79,372.4 263.17,372.4 263.55,372.4 263.93,372.4 264.31,372.4 264.69,372.4 265.07,372.4 265.45,372.4 265.83,372.4 266.21,372.4 266.59,372.4 266.97,372.4 267.35,372.4 267.73,372.4 268.11,372.4 268.49,372.4 268.87,372.4 269.25,372.4 269.63,372.4 270.01,372.4 270.39,372.4 270.76,372.4 271.14,372.4 271.52,372.4 271.9,372.4 272.28,372.4 272.66,372.4 273.04,372.4 273.42,372.4 273.8,372.4 274.18,372.4 274.56,372.4 274.94,372.4 275.32,372.4 275.7,372.34 276.08,372.21 276.46,372.02 276.84,371.78 277.22,371.5 277.6,371.19 277.98,370.87 278.36,370.53 278.74,370.2 279.11,369.84 279.49,369.44 279.87,369 280.25,368.52 280.63,368 281.01,367.44 281.39,366.85 281.77,366.22 282.15,365.56 282.53,364.86 282.91,364.12 283.29,363.36 283.67,362.56 284.05,361.74 284.43,360.88 284.81,359.99 285.19,359.08 285.57,358.14 285.95,357.17 286.33,356.14 286.71,354.99 287.08,353.74 287.46,352.38 287.84,350.94 288.22,349.4 288.6,347.77 288.98,346.07 289.36,344.3 289.74,342.45 290.12,340.55 290.5,338.58 290.88,336.54 291.26,334.31 291.64,331.89 292.02,329.3 292.4,326.56 292.78,323.71 293.16,320.77 293.54,317.75 293.92,314.69 294.3,311.6 294.68,308.41 295.05,305.04 295.43,301.55 295.81,297.96 296.19,294.35 296.57,290.75 296.95,287.22 297.33,283.73 297.71,280.06 298.09,276.01 298.47,271.58 298.85,266.84 299.23,261.85 299.61,256.65 299.99,250.22 300.37,243.17 300.75,237.32 301.13,234.35 301.51,232.8 301.89,231.72 302.27,230.97 302.65,230.36 303.02,229.79 303.4,229.28 303.78,228.81 304.16,228.4 304.54,228.04 304.92,227.72 305.3,227.46 305.68,227.25 306.06,227.08 306.44,226.96 306.82,226.83 307.2,226.72 307.58,226.6 307.96,226.49 308.34,226.38 308.72,226.28 309.1,226.17 309.48,226.08 309.86,225.98 310.24,225.89 310.62,225.8 310.99,225.72 311.37,225.64 311.75,225.56 312.13,225.49 312.51,225.42 312.89,225.35 313.27,225.29 313.65,225.23 314.03,225.17 314.41,225.12 314.79,225.07 315.17,225.03 315.55,224.99 315.93,224.95 316.31,224.91 316.69,224.88 317.07,224.86 317.45,224.83 317.83,224.81 318.21,224.8 318.59,224.78 318.97,224.77 319.34,224.77 319.72,224.77 320.1,224.77 320.48,224.77 320.86,224.77 321.24,224.77 321.62,224.77 322,224.78 322.38,224.78 322.76,224.79 323.14,224.79 323.52,224.8 323.9,224.8 324.28,224.81 324.66,224.82 325.04,224.83 325.42,224.83 325.8,224.84 326.18,224.85 326.56,224.86 326.94,224.87 327.31,224.88 327.69,224.89 328.07,224.9 328.45,224.91 328.83,224.92 329.21,224.93 329.59,224.95 329.97,224.96 330.35,224.97 330.73,224.98 331.11,225 331.49,225.01 331.87,225.02 332.25,225.03 332.63,225.05 333.01,225.06 333.39,225.07 333.77,225.09 334.15,225.1 334.53,225.12 334.91,225.13 335.28,225.14 335.66,225.16 336.04,225.17 336.42,225.18 336.8,225.2 337.18,225.21 337.56,225.22 337.94,225.24 338.32,225.25 338.7,225.26 339.08,225.27 339.46,225.29 339.84,225.3 340.22,225.31 340.6,225.32 340.98,225.33 341.36,225.34 341.74,225.35 342.12,225.36 342.5,225.37 342.88,225.38 343.25,225.39 343.63,225.4 344.01,225.41 344.39,225.42 344.77,225.43 345.15,225.44 345.53,225.44 345.91,225.45 346.29,225.46 346.67,225.47 347.05,225.47 347.43,225.48 347.81,225.49 348.19,225.5 348.57,225.51 348.95,225.51 349.33,225.52 349.71,225.53 350.09,225.54 350.47,225.55 350.85,225.55 351.23,225.56 351.6,225.57 351.98,225.58 352.36,225.58 352.74,225.59 353.12,225.6 353.5,225.61 353.88,225.62 354.26,225.62 354.64,225.63 355.02,225.64 355.4,225.65 355.78,225.65 356.16,225.66 356.54,225.67 356.92,225.68 357.3,225.68 357.68,225.69 358.06,225.7 358.44,225.71 358.82,225.71 359.2,225.72 359.57,225.73 359.95,225.74 360.33,225.74 360.71,225.75 361.09,225.76 361.47,225.76 361.85,225.77 362.23,225.78 362.61,225.79 362.99,225.79 363.37,225.8 363.75,225.81 364.13,225.82 364.51,225.82 364.89,225.83 365.27,225.84 365.65,225.84 366.03,225.85 366.41,225.86 366.79,225.87 367.17,225.87 367.54,225.88 367.92,225.89 368.3,225.89 368.68,225.9 369.06,225.91 369.44,225.91 369.82,225.92 370.2,225.93 370.58,225.93 370.96,225.94 371.34,225.95 371.72,225.95 372.1,225.96 372.48,225.97 372.86,225.97 373.24,225.98 373.62,225.99 374,225.99 374.38,226 374.76,226.01 375.14,226.01 375.51,226.02 375.89,226.03 376.27,226.03 376.65,226.04 377.03,226.04 377.41,226.05 377.79,226.06 378.17,226.06 378.55,226.07 378.93,226.08 379.31,226.08 379.69,226.09 380.07,226.09 380.45,226.1 380.83,226.11 381.21,226.11 381.59,226.12 381.97,226.12 382.35,226.13 382.73,226.14 383.11,226.14 383.48,226.15 383.86,226.15 384.24,226.16 384.62,226.16 385,226.17 385.38,226.17 385.76,226.18 386.14,226.19 386.52,226.19 386.9,226.2 387.28,226.2 387.66,226.21 388.04,226.21 388.42,226.22 388.8,226.22 389.18,226.23 389.56,226.23 389.94,226.24 390.32,226.24 390.7,226.25 391.08,226.25 391.46,226.26 391.83,226.26 392.21,226.27 392.59,226.27 392.97,226.28 393.35,226.28 393.73,226.29 394.11,226.29 394.49,226.3 394.87,226.3 395.25,226.31 395.63,226.31 396.01,226.32 396.39,226.32 396.77,226.32 397.15,226.33 397.53,226.33 397.91,226.34 398.29,226.34 398.67,226.35 399.05,226.35 399.43,226.35 399.8,226.36 400.18,226.36 400.56,226.37 400.94,226.37 401.32,226.37 401.7,226.38 402.08,226.38 402.46,226.39 402.84,226.39 403.22,226.39 403.6,226.4" fill="none" stroke="#3a7aa6" stroke-width="0.7" stroke-linejoin="round"/>
<polyline points="252.17,372.4 252.55,372.4 252.93,372.4 253.31,372.4 253.69,372.4 254.07,372.4 254.45,372.4 254.82,372.4 255.2,372.4 255.58,372.4 255.96,372.4 256.34,372.4 256.72,372.4 257.1,372.4 257.48,372.4 257.86,372.4 258.24,372.4 258.62,372.4 259,372.4 259.38,372.4 259.76,372.4 260.14,372.4 260.52,372.4 260.9,372.4 261.28,372.4 261.66,372.4 262.04,372.4 262.42,372.4 262.79,372.4 263.17,372.4 263.55,372.4 263.93,372.4 264.31,372.4 264.69,372.4 265.07,372.4 265.45,372.4 265.83,372.4 266.21,372.4 266.59,372.4 266.97,372.38 267.35,372.32 267.73,372.22 268.11,372.08 268.49,371.9 268.87,371.69 269.25,371.44 269.63,371.17 270.01,370.88 270.39,370.57 270.76,370.23 271.14,369.89 271.52,369.52 271.9,369.15 272.28,368.73 272.66,368.19 273.04,367.56 273.42,366.83 273.8,366.02 274.18,365.15 274.56,364.21 274.94,363.23 275.32,362.21 275.7,361.15 276.08,360.08 276.46,358.99 276.84,357.84 277.22,356.6 277.6,355.3 277.98,353.91 278.36,352.46 278.74,350.94 279.11,349.34 279.49,347.68 279.87,345.96 280.25,344.17 280.63,342.33 281.01,340.43 281.39,338.45 281.77,336.34 282.15,334.09 282.53,331.72 282.91,329.22 283.29,326.59 283.67,323.85 284.05,320.99 284.43,318.01 284.81,314.9 285.19,311.3 285.57,307.29 285.95,303.1 286.33,298.96 286.71,295.11 287.08,291.78 287.46,288.94 287.84,286.35 288.22,283.92 288.6,281.53 288.98,279.05 289.36,276.39 289.74,273.58 290.12,270.71 290.5,267.85 290.88,265.09 291.26,262.49 291.64,260.13 292.02,258.1 292.4,256.46 292.78,255.29 293.16,254.35 293.54,253.47 293.92,252.65 294.3,251.87 294.68,251.15 295.05,250.48 295.43,249.85 295.81,249.27 296.19,248.72 296.57,248.21 296.95,247.74 297.33,247.29 297.71,246.88 298.09,246.48 298.47,246.12 298.85,245.77 299.23,245.44 299.61,245.12 299.99,244.81 300.37,244.5 300.75,244.19 301.13,243.89 301.51,243.6 301.89,243.31 302.27,243.03 302.65,242.75 303.02,242.48 303.4,242.22 303.78,241.97 304.16,241.73 304.54,241.5 304.92,241.28 305.3,241.08 305.68,240.88 306.06,240.7 306.44,240.53 306.82,240.38 307.2,240.24 307.58,240.12 307.96,240.01 308.34,239.92 308.72,239.85 309.1,239.8 309.48,239.77 309.86,239.74 310.24,239.72 310.62,239.69 310.99,239.67 311.37,239.64 311.75,239.62 312.13,239.59 312.51,239.57 312.89,239.54 313.27,239.52 313.65,239.5 314.03,239.47 314.41,239.45 314.79,239.43 315.17,239.4 315.55,239.38 315.93,239.36 316.31,239.34 316.69,239.31 317.07,239.29 317.45,239.27 317.83,239.25 318.21,239.22 318.59,239.2 318.97,239.18 319.34,239.16 319.72,239.14 320.1,239.12 320.48,239.1 320.86,239.08 321.24,239.06 321.62,239.04 322,239.01 322.38,238.99 322.76,238.97 323.14,238.95 323.52,238.94 323.9,238.92 324.28,238.9 324.66,238.88 325.04,238.86 325.42,238.84 325.8,238.82 326.18,238.8 326.56,238.78 326.94,238.76 327.31,238.75 327.69,238.73 328.07,238.71 328.45,238.69 328.83,238.67 329.21,238.66 329.59,238.64 329.97,238.62 330.35,238.61 330.73,238.59 331.11,238.57 331.49,238.55 331.87,238.54 332.25,238.52 332.63,238.51 333.01,238.49 333.39,238.47 333.77,238.46 334.15,238.44 334.53,238.43 334.91,238.41 335.28,238.39 335.66,238.38 336.04,238.36 336.42,238.35 336.8,238.33 337.18,238.32 337.56,238.31 337.94,238.29 338.32,238.28 338.7,238.26 339.08,238.25 339.46,238.23 339.84,238.22 340.22,238.21 340.6,238.19 340.98,238.18 341.36,238.17 341.74,238.15 342.12,238.14 342.5,238.13 342.88,238.11 343.25,238.1 343.63,238.09 344.01,238.08 344.39,238.06 344.77,238.05 345.15,238.04 345.53,238.03 345.91,238.02 346.29,238 346.67,237.99 347.05,237.98 347.43,237.97 347.81,237.96 348.19,237.95 348.57,237.94 348.95,237.93 349.33,237.91 349.71,237.9 350.09,237.89 350.47,237.88 350.85,237.87 351.23,237.86 351.6,237.85 351.98,237.84 352.36,237.83 352.74,237.82 353.12,237.81 353.5,237.8 353.88,237.79 354.26,237.78 354.64,237.77 355.02,237.76 355.4,237.76 355.78,237.75 356.16,237.74 356.54,237.73 356.92,237.72 357.3,237.71 357.68,237.7 358.06,237.69 358.44,237.69 358.82,237.68 359.2,237.67 359.57,237.66 359.95,237.65 360.33,237.65 360.71,237.64 361.09,237.63 361.47,237.62 361.85,237.62 362.23,237.61 362.61,237.6 362.99,237.59 363.37,237.59 363.75,237.58 364.13,237.57 364.51,237.57 364.89,237.56 365.27,237.55 365.65,237.55 366.03,237.54 366.41,237.53 366.79,237.53 367.17,237.52 367.54,237.52 367.92,237.51 368.3,237.5 368.68,237.5 369.06,237.49 369.44,237.49 369.82,237.48 370.2,237.48 370.58,237.47 370.96,237.47 371.34,237.46 371.72,237.46 372.1,237.45 372.48,237.45 372.86,237.44 373.24,237.44 373.62,237.43 374,237.43 374.38,237.42 374.76,237.42 375.14,237.41 375.51,237.41 375.89,237.4 376.27,237.4 376.65,237.4 377.03,237.39 377.41,237.39 377.79,237.38 378.17,237.38 378.55,237.38 378.93,237.37 379.31,237.37 379.69,237.37 380.07,237.36 380.45,237.36 380.83,237.36 381.21,237.35 381.59,237.35 381.97,237.35 382.35,237.34 382.73,237.34 383.11,237.34 383.48,237.34 383.86,237.33 384.24,237.33 384.62,237.33 385,237.32 385.38,237.32 385.76,237.32 386.14,237.32 386.52,237.32 386.9,237.31 387.28,237.31 387.66,237.31 388.04,237.31 388.42,237.3 388.8,237.3 389.18,237.3 389.56,237.3 389.94,237.3 390.32,237.3 390.7,237.29 391.08,237.29 391.46,237.29 391.83,237.29 392.21,237.29 392.59,237.29 392.97,237.29 393.35,237.28 393.73,237.28 394.11,237.28 394.49,237.28 394.87,237.28 395.25,237.28 395.63,237.28 396.01,237.28 396.39,237.28 396.77,237.27 397.15,237.27 397.53,237.27 397.91,237.27 398.29,237.27 398.67,237.27 399.05,237.27 399.43,237.27 399.8,237.27 400.18,237.27 400.56,237.27 400.94,237.27 401.32,237.27 401.7,237.27 402.08,237.27 402.46,237.27 402.84,237.27 403.22,237.27 403.6,237.27" fill="none" stroke="#3a7aa6" stroke-width="0.7" stroke-linejoin="round"/>
<polyline points="252.17,372.4 252.55,372.4 252.93,372.4 253.31,372.4 253.69,372.4 254.07,372.4 254.45,372.4 254.82,372.4 255.2,372.4 255.58,372.4 255.96,372.4 256.34,372.4 256.72,372.4 257.1,372.4 257.48,372.4 257.86,372.4 258.24,372.4 258.62,372.4 259,372.4 259.38,372.4 259.76,372.4 260.14,372.4 260.52,372.4 260.9,372.4 261.28,372.4 261.66,372.4 262.04,372.4 262.42,372.4 262.79,372.4 263.17,372.4 263.55,372.4 263.93,372.4 264.31,372.4 264.69,372.4 265.07,372.4 265.45,372.4 265.83,372.4 266.21,372.4 266.59,372.4 266.97,372.4 267.35,372.4 267.73,372.4 268.11,372.4 268.49,372.4 268.87,372.4 269.25,372.4 269.63,372.4 270.01,372.4 270.39,372.4 270.76,372.4 271.14,372.4 271.52,372.4 271.9,372.4 272.28,372.4 272.66,372.4 273.04,372.4 273.42,372.4 273.8,372.4 274.18,372.4 274.56,372.4 274.94,372.4 275.32,372.4 275.7,372.4 276.08,372.4 276.46,372.4 276.84,372.4 277.22,372.4 277.6,372.4 277.98,372.4 278.36,372.4 278.74,372.4 279.11,372.4 279.49,372.4 279.87,372.4 280.25,372.4 280.63,372.4 281.01,372.4 281.39,372.4 281.77,372.4 282.15,372.4 282.53,372.4 282.91,372.4 283.29,372.4 283.67,372.4 284.05,372.4 284.43,372.4 284.81,372.4 285.19,372.4 285.57,372.4 285.95,372.4 286.33,372.4 286.71,372.4 287.08,372.4 287.46,372.4 287.84,372.4 288.22,372.4 288.6,372.39 288.98,372.35 289.36,372.27 289.74,372.16 290.12,372.03 290.5,371.88 290.88,371.7 291.26,371.52 291.64,371.33 292.02,371.12 292.4,370.88 292.78,370.61 293.16,370.29 293.54,369.93 293.92,369.52 294.3,369.07 294.68,368.56 295.05,367.99 295.43,367.37 295.81,366.68 296.19,365.92 296.57,365.09 296.95,364.2 297.33,363.22 297.71,362.16 298.09,360.9 298.47,358.53 298.85,355.16 299.23,351.12 299.61,346.76 299.99,342.41 300.37,338.3 300.75,333.68 301.13,328.62 301.51,323.5 301.89,318.71 302.27,314.63 302.65,311.65 303.02,309.49 303.4,307.46 303.78,305.57 304.16,303.81 304.54,302.18 304.92,300.69 305.3,299.33 305.68,298.11 306.06,297.02 306.44,296.06 306.82,295.24 307.2,294.54 307.58,293.98 307.96,293.47 308.34,292.98 308.72,292.51 309.1,292.06 309.48,291.63 309.86,291.23 310.24,290.84 310.62,290.47 310.99,290.12 311.37,289.79 311.75,289.48 312.13,289.18 312.51,288.9 312.89,288.63 313.27,288.38 313.65,288.14 314.03,287.91 314.41,287.7 314.79,287.5 315.17,287.31 315.55,287.13 315.93,286.97 316.31,286.81 316.69,286.66 317.07,286.52 317.45,286.39 317.83,286.26 318.21,286.13 318.59,286 318.97,285.88 319.34,285.75 319.72,285.63 320.1,285.52 320.48,285.4 320.86,285.29 321.24,285.18 321.62,285.08 322,284.98 322.38,284.88 322.76,284.78 323.14,284.69 323.52,284.6 323.9,284.51 324.28,284.43 324.66,284.35 325.04,284.28 325.42,284.21 325.8,284.14 326.18,284.08 326.56,284.02 326.94,283.96 327.31,283.91 327.69,283.87 328.07,283.83 328.45,283.79 328.83,283.75 329.21,283.73 329.59,283.7 329.97,283.68 330.35,283.67 330.73,283.65 331.11,283.63 331.49,283.61 331.87,283.6 332.25,283.58 332.63,283.56 333.01,283.55 333.39,283.53 333.77,283.51 334.15,283.5 334.53,283.48 334.91,283.46 335.28,283.45 335.66,283.43 336.04,283.42 336.42,283.4 336.8,283.38 337.18,283.37 337.56,283.35 337.94,283.34 338.32,283.32 338.7,283.31 339.08,283.29 339.46,283.28 339.84,283.26 340.22,283.25 340.6,283.23 340.98,283.22 341.36,283.21 341.74,283.19 342.12,283.18 342.5,283.16 342.88,283.15 343.25,283.14 343.63,283.12 344.01,283.11 344.39,283.1 344.77,283.08 345.15,283.07 345.53,283.06 345.91,283.04 346.29,283.03 346.67,283.02 347.05,283.01 347.43,282.99 347.81,282.98 348.19,282.97 348.57,282.96 348.95,282.94 349.33,282.93 349.71,282.92 350.09,282.91 350.47,282.9 350.85,282.89 351.23,282.87 351.6,282.86 351.98,282.85 352.36,282.84 352.74,282.83 353.12,282.82 353.5,282.81 353.88,282.8 354.26,282.79 354.64,282.78 355.02,282.77 355.4,282.76 355.78,282.75 356.16,282.74 356.54,282.73 356.92,282.72 357.3,282.71 357.68,282.7 358.06,282.69 358.44,282.68 358.82,282.67 359.2,282.66 359.57,282.65 359.95,282.64 360.33,282.63 360.71,282.62 361.09,282.61 361.47,282.61 361.85,282.6 362.23,282.59 362.61,282.58 362.99,282.57 363.37,282.56 363.75,282.56 364.13,282.55 364.51,282.54 364.89,282.53 365.27,282.52 365.65,282.52 366.03,282.51 366.41,282.5 366.79,282.49 367.17,282.49 367.54,282.48 367.92,282.47 368.3,282.47 368.68,282.46 369.06,282.45 369.44,282.45 369.82,282.44 370.2,282.43 370.58,282.43 370.96,282.42 371.34,282.41 371.72,282.41 372.1,282.4 372.48,282.4 372.86,282.39 373.24,282.38 373.62,282.38 374,282.37 374.38,282.37 374.76,282.36 375.14,282.36 375.51,282.35 375.89,282.35 376.27,282.34 376.65,282.34 377.03,282.33 377.41,282.33 377.79,282.32 378.17,282.32 378.55,282.31 378.93,282.31 379.31,282.3 379.69,282.3 380.07,282.29 380.45,282.29 380.83,282.28 381.21,282.28 381.59,282.28 381.97,282.27 382.35,282.27 382.73,282.27 383.11,282.26 383.48,282.26 383.86,282.25 384.24,282.25 384.62,282.25 385,282.24 385.38,282.24 385.76,282.24 386.14,282.23 386.52,282.23 386.9,282.23 387.28,282.23 387.66,282.22 388.04,282.22 388.42,282.22 388.8,282.22 389.18,282.21 389.56,282.21 389.94,282.21 390.32,282.21 390.7,282.2 391.08,282.2 391.46,282.2 391.83,282.2 392.21,282.2 392.59,282.19 392.97,282.19 393.35,282.19 393.73,282.19 394.11,282.19 394.49,282.18 394.87,282.18 395.25,282.18 395.63,282.18 396.01,282.18 396.39,282.18 396.77,282.18 397.15,282.18 397.53,282.17 397.91,282.17 398.29,282.17 398.67,282.17 399.05,282.17 399.43,282.17 399.8,282.17 400.18,282.17 400.56,282.17 400.94,282.17 401.32,282.17 401.7,282.17 402.08,282.17 402.46,282.17 402.84,282.17 403.22,282.17 403.6,282.17" fill="none" stroke="#3a7aa6" stroke-width="0.7" stroke-linejoin="round"/>
<polyline points="252.17,372.4 252.55,372.4 252.93,372.4 253.31,372.4 253.69,372.4 254.07,372.4 254.45,372.4 254.82,372.4 255.2,372.4 255.58,372.4 255.96,372.4 256.34,372.4 256.72,372.4 257.1,372.4 257.48,372.4 257.86,372.4 258.24,372.4 258.62,372.4 259,372.4 259.38,372.4 259.76,372.4 260.14,372.4 260.52,372.4 260.9,372.4 261.28,372.4 261.66,372.4 262.04,372.4 262.42,372.4 262.79,372.4 263.17,372.4 263.55,372.4 263.93,372.4 264.31,372.4 264.69,372.4 265.07,372.4 265.45,372.4 265.83,372.4 266.21,372.4 266.59,372.4 266.97,372.4 267.35,372.4 267.73,372.4 268.11,372.4 268.49,372.4 268.87,372.4 269.25,372.4 269.63,372.4 270.01,372.4 270.39,372.4 270.76,372.4 271.14,372.4 271.52,372.4 271.9,372.4 272.28,372.4 272.66,372.4 273.04,372.4 273.42,372.4 273.8,372.4 274.18,372.4 274.56,372.4 274.94,372.4 275.32,372.4 275.7,372.4 276.08,372.4 276.46,372.4 276.84,372.4 277.22,372.4 277.6,372.4 277.98,372.4 278.36,372.4 278.74,372.4 279.11,372.4 279.49,372.4 279.87,372.4 280.25,372.4 280.63,372.4 281.01,372.4 281.39,372.4 281.77,372.4 282.15,372.4 282.53,372.4 282.91,372.4 283.29,372.4 283.67,372.4 284.05,372.4 284.43,372.4 284.81,372.4 285.19,372.4 285.57,372.4 285.95,372.4 286.33,372.4 286.71,372.4 287.08,372.4 287.46,372.4 287.84,372.4 288.22,372.4 288.6,372.4 288.98,372.4 289.36,372.4 289.74,372.4 290.12,372.4 290.5,372.4 290.88,372.4 291.26,372.4 291.64,372.4 292.02,372.39 292.4,372.35 292.78,372.28 293.16,372.2 293.54,372.09 293.92,371.96 294.3,371.82 294.68,371.67 295.05,371.51 295.43,371.34 295.81,371.15 296.19,370.92 296.57,370.64 296.95,370.32 297.33,369.94 297.71,369.51 298.09,369.03 298.47,368.48 298.85,367.88 299.23,367.2 299.61,366.47 299.99,365.66 300.37,364.77 300.75,363.81 301.13,362.78 301.51,361.66 301.89,359.75 302.27,356.39 302.65,352.14 303.02,347.63 303.4,343.46 303.78,340.22 304.16,337.95 304.54,335.8 304.92,333.76 305.3,331.86 305.68,330.11 306.06,328.53 306.44,327.16 306.82,326 307.2,325.07 307.58,324.4 307.96,323.82 308.34,323.26 308.72,322.74 309.1,322.24 309.48,321.78 309.86,321.34 310.24,320.93 310.62,320.55 310.99,320.19 311.37,319.86 311.75,319.56 312.13,319.28 312.51,319.03 312.89,318.8 313.27,318.6 313.65,318.42 314.03,318.27 314.41,318.13 314.79,318.02 315.17,317.92 315.55,317.83 315.93,317.73 316.31,317.64 316.69,317.56 317.07,317.47 317.45,317.39 317.83,317.31 318.21,317.24 318.59,317.17 318.97,317.1 319.34,317.03 319.72,316.97 320.1,316.91 320.48,316.85 320.86,316.79 321.24,316.74 321.62,316.68 322,316.63 322.38,316.58 322.76,316.54 323.14,316.49 323.52,316.45 323.9,316.4 324.28,316.36 324.66,316.32 325.04,316.29 325.42,316.25 325.8,316.21 326.18,316.18 326.56,316.14 326.94,316.11 327.31,316.08 327.69,316.04 328.07,316.01 328.45,315.98 328.83,315.95 329.21,315.92 329.59,315.89 329.97,315.86 330.35,315.83 330.73,315.8 331.11,315.77 331.49,315.74 331.87,315.71 332.25,315.68 332.63,315.65 333.01,315.62 333.39,315.59 333.77,315.56 334.15,315.53 334.53,315.5 334.91,315.47 335.28,315.44 335.66,315.41 336.04,315.38 336.42,315.36 336.8,315.33 337.18,315.3 337.56,315.27 337.94,315.24 338.32,315.21 338.7,315.18 339.08,315.16 339.46,315.13 339.84,315.1 340.22,315.07 340.6,315.04 340.98,315.01 341.36,314.99 341.74,314.96 342.12,314.93 342.5,314.9 342.88,314.88 343.25,314.85 343.63,314.82 344.01,314.79 344.39,314.77 344.77,314.74 345.15,314.71 345.53,314.69 345.91,314.66 346.29,314.63 346.67,314.61 347.05,314.58 347.43,314.56 347.81,314.53 348.19,314.5 348.57,314.48 348.95,314.45 349.33,314.43 349.71,314.4 350.09,314.38 350.47,314.35 350.85,314.33 351.23,314.3 351.6,314.28 351.98,314.25 352.36,314.23 352.74,314.2 353.12,314.18 353.5,314.15 353.88,314.13 354.26,314.11 354.64,314.08 355.02,314.06 355.4,314.03 355.78,314.01 356.16,313.99 356.54,313.96 356.92,313.94 357.3,313.92 357.68,313.89 358.06,313.87 358.44,313.85 358.82,313.83 359.2,313.81 359.57,313.78 359.95,313.76 360.33,313.74 360.71,313.72 361.09,313.7 361.47,313.67 361.85,313.65 362.23,313.63 362.61,313.61 362.99,313.59 363.37,313.57 363.75,313.55 364.13,313.53 364.51,313.51 364.89,313.49 365.27,313.47 365.65,313.45 366.03,313.43 366.41,313.41 366.79,313.39 367.17,313.37 367.54,313.35 367.92,313.33 368.3,313.31 368.68,313.3 369.06,313.28 369.44,313.26 369.82,313.24 370.2,313.22 370.58,313.21 370.96,313.19 371.34,313.17 371.72,313.15 372.1,313.14 372.48,313.12 372.86,313.1 373.24,313.09 373.62,313.07 374,313.05 374.38,313.04 374.76,313.02 375.14,313.01 375.51,312.99 375.89,312.97 376.27,312.96 376.65,312.94 377.03,312.93 377.41,312.92 377.79,312.9 378.17,312.89 378.55,312.87 378.93,312.86 379.31,312.84 379.69,312.83 380.07,312.82 380.45,312.8 380.83,312.79 381.21,312.78 381.59,312.77 381.97,312.75 382.35,312.74 382.73,312.73 383.11,312.72 383.48,312.71 383.86,312.69 384.24,312.68 384.62,312.67 385,312.66 385.38,312.65 385.76,312.64 386.14,312.63 386.52,312.62 386.9,312.61 387.28,312.6 387.66,312.59 388.04,312.58 388.42,312.57 388.8,312.56 389.18,312.56 389.56,312.55 389.94,312.54 390.32,312.53 390.7,312.52 391.08,312.52 391.46,312.51 391.83,312.5 392.21,312.49 392.59,312.49 392.97,312.48 393.35,312.47 393.73,312.47 394.11,312.46 394.49,312.46 394.87,312.45 395.25,312.45 395.63,312.44 396.01,312.44 396.39,312.43 396.77,312.43 397.15,312.42 397.53,312.42 397.91,312.42 398.29,312.41 398.67,312.41 399.05,312.41 399.43,312.4 399.8,312.4 400.18,312.4 400.56,312.4 400.94,312.4 401.32,312.39 401.7,312.39 402.08,312.39 402.46,312.39 402.84,312.39 403.22,312.39 403.6,312.39" fill="none" stroke="#3a7aa6" stroke-width="0.7" stroke-linejoin="round"/>
<polyline points="252.17,372.4 252.55,372.4 252.93,372.4 253.31,372.4 253.69,372.4 254.07,372.4 254.45,372.4 254.82,372.4 255.2,372.4 255.58,372.4 255.96,372.4 256.34,372.4 256.72,372.4 257.1,372.4 257.48,372.4 257.86,372.4 258.24,372.4 258.62,372.4 259,372.4 259.38,372.4 259.76,372.4 260.14,372.4 260.52,372.4 260.9,372.4 261.28,372.4 261.66,372.4 262.04,372.4 262.42,372.4 262.79,372.4 263.17,372.4 263.55,372.4 263.93,372.4 264.31,372.4 264.69,372.4 265.07,372.4 265.45,372.4 265.83,372.4 266.21,372.4 266.59,372.4 266.97,372.4 267.35,372.4 267.73,372.4 268.11,372.4 268.49,372.4 268.87,372.4 269.25,372.4 269.63,372.4 270.01,372.4 270.39,372.4 270.76,372.4 271.14,372.4 271.52,372.4 271.9,372.4 272.28,372.4 272.66,372.4 273.04,372.4 273.42,372.4 273.8,372.4 274.18,372.4 274.56,372.4 274.94,372.4 275.32,372.4 275.7,372.4 276.08,372.4 276.46,372.4 276.84,372.4 277.22,372.4 277.6,372.4 277.98,372.4 278.36,372.4 278.74,372.4 279.11,372.4 279.49,372.4 279.87,372.4 280.25,372.4 280.63,372.4 281.01,372.4 281.39,372.4 281.77,372.4 282.15,372.4 282.53,372.4 282.91,372.4 283.29,372.4 283.67,372.4 284.05,372.4 284.43,372.4 284.81,372.4 285.19,372.4 285.57,372.4 285.95,372.4 286.33,372.4 286.71,372.4 287.08,372.4 287.46,372.4 287.84,372.4 288.22,372.4 288.6,372.4 288.98,372.4 289.36,372.4 289.74,372.4 290.12,372.4 290.5,372.4 290.88,372.4 291.26,372.4 291.64,372.4 292.02,372.4 292.4,372.4 292.78,372.4 293.16,372.4 293.54,372.4 293.92,372.4 294.3,372.4 294.68,372.4 295.05,372.4 295.43,372.4 295.81,372.4 296.19,372.4 296.57,372.4 296.95,372.4 297.33,372.4 297.71,372.4 298.09,372.4 298.47,372.39 298.85,372.35 299.23,372.28 299.61,372.18 299.99,372.05 300.37,371.9 300.75,371.73 301.13,371.54 301.51,371.34 301.89,371.07 302.27,370.66 302.65,370.13 303.02,369.49 303.4,368.74 303.78,367.91 304.16,367 304.54,366.03 304.92,365.01 305.3,363.96 305.68,362.89 306.06,361.8 306.44,360.65 306.82,359.28 307.2,357.72 307.58,356 307.96,354.18 308.34,352.28 308.72,350.34 309.1,348.41 309.48,346.51 309.86,344.69 310.24,343 310.62,341.45 310.99,340.1 311.37,338.92 311.75,337.75 312.13,336.59 312.51,335.45 312.89,334.33 313.27,333.25 313.65,332.21 314.03,331.21 314.41,330.26 314.79,329.38 315.17,328.55 315.55,327.81 315.93,327.14 316.31,326.55 316.69,326.06 317.07,325.67 317.45,325.34 317.83,325.03 318.21,324.74 318.59,324.47 318.97,324.2 319.34,323.96 319.72,323.73 320.1,323.51 320.48,323.31 320.86,323.12 321.24,322.94 321.62,322.77 322,322.61 322.38,322.46 322.76,322.32 323.14,322.19 323.52,322.07 323.9,321.95 324.28,321.84 324.66,321.74 325.04,321.64 325.42,321.54 325.8,321.44 326.18,321.35 326.56,321.26 326.94,321.18 327.31,321.1 327.69,321.03 328.07,320.97 328.45,320.91 328.83,320.86 329.21,320.82 329.59,320.78 329.97,320.75 330.35,320.73 330.73,320.7 331.11,320.68 331.49,320.66 331.87,320.63 332.25,320.61 332.63,320.59 333.01,320.56 333.39,320.54 333.77,320.52 334.15,320.49 334.53,320.47 334.91,320.45 335.28,320.43 335.66,320.4 336.04,320.38 336.42,320.36 336.8,320.34 337.18,320.32 337.56,320.29 337.94,320.27 338.32,320.25 338.7,320.23 339.08,320.21 339.46,320.19 339.84,320.17 340.22,320.15 340.6,320.13 340.98,320.11 341.36,320.09 341.74,320.07 342.12,320.05 342.5,320.03 342.88,320.01 343.25,319.99 343.63,319.97 344.01,319.95 344.39,319.93 344.77,319.91 345.15,319.9 345.53,319.88 345.91,319.86 346.29,319.84 346.67,319.82 347.05,319.81 347.43,319.79 347.81,319.77 348.19,319.75 348.57,319.74 348.95,319.72 349.33,319.7 349.71,319.69 350.09,319.67 350.47,319.65 350.85,319.64 351.23,319.62 351.6,319.6 351.98,319.59 352.36,319.57 352.74,319.56 353.12,319.54 353.5,319.53 353.88,319.51 354.26,319.5 354.64,319.48 355.02,319.47 355.4,319.45 355.78,319.44 356.16,319.42 356.54,319.41 356.92,319.39 357.3,319.38 357.68,319.37 358.06,319.35 358.44,319.34 358.82,319.33 359.2,319.31 359.57,319.3 359.95,319.29 360.33,319.27 360.71,319.26 361.09,319.25 361.47,319.24 361.85,319.22 362.23,319.21 362.61,319.2 362.99,319.19 363.37,319.17 363.75,319.16 364.13,319.15 364.51,319.14 364.89,319.13 365.27,319.12 365.65,319.11 366.03,319.1 366.41,319.08 366.79,319.07 367.17,319.06 367.54,319.05 367.92,319.04 368.3,319.03 368.68,319.02 369.06,319.01 369.44,319 369.82,318.99 370.2,318.98 370.58,318.97 370.96,318.96 371.34,318.96 371.72,318.95 372.1,318.94 372.48,318.93 372.86,318.92 373.24,318.91 373.62,318.9 374,318.89 374.38,318.89 374.76,318.88 375.14,318.87 375.51,318.86 375.89,318.85 376.27,318.85 376.65,318.84 377.03,318.83 377.41,318.83 377.79,318.82 378.17,318.81 378.55,318.8 378.93,318.8 379.31,318.79 379.69,318.78 380.07,318.78 380.45,318.77 380.83,318.77 381.21,318.76 381.59,318.75 381.97,318.75 382.35,318.74 382.73,318.74 383.11,318.73 383.48,318.72 383.86,318.72 384.24,318.71 384.62,318.71 385,318.7 385.38,318.7 385.76,318.69 386.14,318.69 386.52,318.69 386.9,318.68 387.28,318.68 387.66,318.67 388.04,318.67 388.42,318.66 388.8,318.66 389.18,318.66 389.56,318.65 389.94,318.65 390.32,318.65 390.7,318.64 391.08,318.64 391.46,318.64 391.83,318.63 392.21,318.63 392.59,318.63 392.97,318.62 393.35,318.62 393.73,318.62 394.11,318.62 394.49,318.61 394.87,318.61 395.25,318.61 395.63,318.61 396.01,318.61 396.39,318.6 396.77,318.6 397.15,318.6 397.53,318.6 397.91,318.6 398.29,318.6 398.67,318.59 399.05,318.59 399.43,318.59 399.8,318.59 400.18,318.59 400.56,318.59 400.94,318.59 401.32,318.59 401.7,318.59 402.08,318.59 402.46,318.59 402.84,318.59 403.22,318.59 403.6,318.59" fill="none" stroke="#3a7aa6" stroke-width="0.7" stroke-linejoin="round"/>
<polyline points="334.47,372.4 334.64,372.39 334.81,372.38 334.99,372.35 335.16,372.32 335.33,372.27 335.51,372.22 335.68,372.17 335.85,372.1 336.03,372.03 336.2,371.96 336.37,371.89 336.55,371.8 336.72,371.68 336.89,371.52 337.07,371.32 337.24,371.09 337.41,370.82 337.59,370.53 337.76,370.21 337.93,369.86 338.11,369.49 338.28,369.11 338.45,368.7 338.63,368.28 338.8,367.85 338.97,367.41 339.15,366.96 339.32,366.5 339.49,366.04 339.67,365.58 339.84,365.13 340.01,364.67 340.19,364.23 340.36,363.79 340.53,363.36 340.71,362.94 340.88,362.51 341.05,362.08 341.23,361.65 341.4,361.2 341.57,360.74 341.75,360.25 341.92,359.75 342.09,359.22 342.26,358.66 342.44,358.07 342.61,357.45 342.78,356.78 342.96,356.06 343.13,355.27 343.3,354.29 343.48,353.13 343.65,351.83 343.82,350.41 344,348.92 344.17,347.37 344.34,345.82 344.52,344.28 344.69,342.79 344.86,341.39 345.04,340.1 345.21,338.96 345.38,337.99 345.56,337.06 345.73,336.14 345.9,335.22 346.08,334.31 346.25,333.42 346.42,332.55 346.6,331.71 346.77,330.89 346.94,330.1 347.12,329.36 347.29,328.65 347.46,327.99 347.64,327.38 347.81,326.83 347.98,326.34 348.16,325.91 348.33,325.55 348.5,325.26 348.68,325.05 348.85,324.86 349.02,324.68 349.2,324.5 349.37,324.32 349.54,324.15 349.72,323.98 349.89,323.82 350.06,323.67 350.23,323.51 350.41,323.36 350.58,323.22 350.75,323.08 350.93,322.94 351.1,322.81 351.27,322.69 351.45,322.56 351.62,322.45 351.79,322.33 351.97,322.22 352.14,322.11 352.31,322.01 352.49,321.92 352.66,321.82 352.83,321.73 353.01,321.65 353.18,321.57 353.35,321.49 353.53,321.41 353.7,321.34 353.87,321.28 354.05,321.22 354.22,321.16 354.39,321.1 354.57,321.05 354.74,321.01 354.91,320.96 355.09,320.93 355.26,320.89 355.43,320.86 355.61,320.83 355.78,320.81 355.95,320.78 356.13,320.77 356.3,320.75 356.47,320.74 356.65,320.72 356.82,320.71 356.99,320.7 357.17,320.68 357.34,320.67 357.51,320.65 357.69,320.64 357.86,320.63 358.03,320.61 358.21,320.6 358.38,320.59 358.55,320.57 358.72,320.56 358.9,320.55 359.07,320.53 359.24,320.52 359.42,320.51 359.59,320.5 359.76,320.48 359.94,320.47 360.11,320.46 360.28,320.44 360.46,320.43 360.63,320.42 360.8,320.41 360.98,320.39 361.15,320.38 361.32,320.37 361.5,320.36 361.67,320.35 361.84,320.33 362.02,320.32 362.19,320.31 362.36,320.3 362.54,320.29 362.71,320.28 362.88,320.26 363.06,320.25 363.23,320.24 363.4,320.23 363.58,320.22 363.75,320.21 363.92,320.2 364.1,320.19 364.27,320.18 364.44,320.16 364.62,320.15 364.79,320.14 364.96,320.13 365.14,320.12 365.31,320.11 365.48,320.1 365.66,320.09 365.83,320.08 366,320.07 366.18,320.06 366.35,320.05 366.52,320.04 366.69,320.03 366.87,320.02 367.04,320.01 367.21,320 367.39,319.99 367.56,319.98 367.73,319.97 367.91,319.96 368.08,319.95 368.25,319.94 368.43,319.93 368.6,319.93 368.77,319.92 368.95,319.91 369.12,319.9 369.29,319.89 369.47,319.88 369.64,319.87 369.81,319.86 369.99,319.85 370.16,319.85 370.33,319.84 370.51,319.83 370.68,319.82 370.85,319.81 371.03,319.8 371.2,319.79 371.37,319.79 371.55,319.78 371.72,319.77 371.89,319.76 372.07,319.75 372.24,319.75 372.41,319.74 372.59,319.73 372.76,319.72 372.93,319.72 373.11,319.71 373.28,319.7 373.45,319.69 373.63,319.69 373.8,319.68 373.97,319.67 374.15,319.66 374.32,319.66 374.49,319.65 374.67,319.64 374.84,319.64 375.01,319.63 375.18,319.62 375.36,319.61 375.53,319.61 375.7,319.6 375.88,319.59 376.05,319.59 376.22,319.58 376.4,319.58 376.57,319.57 376.74,319.56 376.92,319.56 377.09,319.55 377.26,319.54 377.44,319.54 377.61,319.53 377.78,319.53 377.96,319.52 378.13,319.51 378.3,319.51 378.48,319.5 378.65,319.5 378.82,319.49 379,319.48 379.17,319.48 379.34,319.47 379.52,319.47 379.69,319.46 379.86,319.46 380.04,319.45 380.21,319.45 380.38,319.44 380.56,319.44 380.73,319.43 380.9,319.43 381.08,319.42 381.25,319.42 381.42,319.41 381.6,319.41 381.77,319.4 381.94,319.4 382.12,319.39 382.29,319.39 382.46,319.38 382.64,319.38 382.81,319.37 382.98,319.37 383.15,319.36 383.33,319.36 383.5,319.36 383.67,319.35 383.85,319.35 384.02,319.34 384.19,319.34 384.37,319.33 384.54,319.33 384.71,319.33 384.89,319.32 385.06,319.32 385.23,319.31 385.41,319.31 385.58,319.31 385.75,319.3 385.93,319.3 386.1,319.3 386.27,319.29 386.45,319.29 386.62,319.29 386.79,319.28 386.97,319.28 387.14,319.28 387.31,319.27 387.49,319.27 387.66,319.27 387.83,319.26 388.01,319.26 388.18,319.26 388.35,319.25 388.53,319.25 388.7,319.25 388.87,319.24 389.05,319.24 389.22,319.24 389.39,319.24 389.57,319.23 389.74,319.23 389.91,319.23 390.09,319.22 390.26,319.22 390.43,319.22 390.61,319.22 390.78,319.21 390.95,319.21 391.13,319.21 391.3,319.21 391.47,319.2 391.64,319.2 391.82,319.2 391.99,319.2 392.16,319.2 392.34,319.19 392.51,319.19 392.68,319.19 392.86,319.19 393.03,319.19 393.2,319.18 393.38,319.18 393.55,319.18 393.72,319.18 393.9,319.18 394.07,319.17 394.24,319.17 394.42,319.17 394.59,319.17 394.76,319.17 394.94,319.17 395.11,319.17 395.28,319.16 395.46,319.16 395.63,319.16 395.8,319.16 395.98,319.16 396.15,319.16 396.32,319.16 396.5,319.15 396.67,319.15 396.84,319.15 397.02,319.15 397.19,319.15 397.36,319.15 397.54,319.15 397.71,319.15 397.88,319.15 398.06,319.14 398.23,319.14 398.4,319.14 398.58,319.14 398.75,319.14 398.92,319.14 399.1,319.14 399.27,319.14 399.44,319.14 399.61,319.14 399.79,319.14 399.96,319.14 400.13,319.14 400.31,319.13 400.48,319.13 400.65,319.13 400.83,319.13 401,319.13 401.17,319.13 401.35,319.13 401.52,319.13 401.69,319.13 401.87,319.13 402.04,319.13 402.21,319.13 402.39,319.13 402.56,319.13 402.73,319.13 402.91,319.13 403.08,319.13 403.25,319.13 403.43,319.13 403.6,319.13" fill="none" stroke="#3a7aa6" stroke-width="0.7" stroke-linejoin="round"/>
<polyline points="252.17,372.4 252.55,372.4 252.93,372.4 253.31,372.4 253.69,372.4 254.07,372.4 254.45,372.4 254.82,372.4 255.2,372.4 255.58,372.4 255.96,372.4 256.34,372.4 256.72,372.4 257.1,372.4 257.48,372.4 257.86,372.4 258.24,372.4 258.62,372.4 259,372.4 259.38,372.4 259.76,372.4 260.14,372.4 260.52,372.4 260.9,372.4 261.28,372.4 261.66,372.4 262.04,372.4 262.42,372.4 262.79,372.4 263.17,372.4 263.55,372.4 263.93,372.4 264.31,372.4 264.69,372.4 265.07,372.4 265.45,372.4 265.83,372.4 266.21,372.4 266.59,372.4 266.97,372.4 267.35,372.4 267.73,372.4 268.11,372.4 268.49,372.4 268.87,372.4 269.25,372.4 269.63,372.4 270.01,372.4 270.39,372.4 270.76,372.4 271.14,372.4 271.52,372.4 271.9,372.4 272.28,372.4 272.66,372.4 273.04,372.4 273.42,372.4 273.8,372.4 274.18,372.4 274.56,372.4 274.94,372.4 275.32,372.4 275.7,372.4 276.08,372.4 276.46,372.4 276.84,372.4 277.22,372.4 277.6,372.4 277.98,372.4 278.36,372.4 278.74,372.4 279.11,372.4 279.49,372.4 279.87,372.4 280.25,372.4 280.63,372.4 281.01,372.4 281.39,372.4 281.77,372.4 282.15,372.4 282.53,372.4 282.91,372.4 283.29,372.4 283.67,372.4 284.05,372.4 284.43,372.4 284.81,372.4 285.19,372.4 285.57,372.4 285.95,372.4 286.33,372.4 286.71,372.4 287.08,372.4 287.46,372.4 287.84,372.4 288.22,372.4 288.6,372.4 288.98,372.4 289.36,372.4 289.74,372.4 290.12,372.4 290.5,372.4 290.88,372.4 291.26,372.4 291.64,372.4 292.02,372.4 292.4,372.4 292.78,372.4 293.16,372.4 293.54,372.4 293.92,372.4 294.3,372.4 294.68,372.4 295.05,372.4 295.43,372.4 295.81,372.39 296.19,372.35 296.57,372.27 296.95,372.16 297.33,372.03 297.71,371.87 298.09,371.7 298.47,371.52 298.85,371.34 299.23,371.15 299.61,370.91 299.99,370.64 300.37,370.33 300.75,369.99 301.13,369.62 301.51,369.22 301.89,368.8 302.27,368.35 302.65,367.89 303.02,367.41 303.4,366.91 303.78,366.41 304.16,365.9 304.54,365.38 304.92,364.86 305.3,364.34 305.68,363.83 306.06,363.32 306.44,362.82 306.82,362.33 307.2,361.86 307.58,361.4 307.96,360.94 308.34,360.48 308.72,360 309.1,359.53 309.48,359.04 309.86,358.55 310.24,358.06 310.62,357.57 310.99,357.07 311.37,356.57 311.75,356.07 312.13,355.58 312.51,355.08 312.89,354.59 313.27,354.1 313.65,353.62 314.03,353.14 314.41,352.66 314.79,352.2 315.17,351.74 315.55,351.29 315.93,350.85 316.31,350.42 316.69,350 317.07,349.59 317.45,349.19 317.83,348.78 318.21,348.37 318.59,347.95 318.97,347.53 319.34,347.12 319.72,346.7 320.1,346.29 320.48,345.88 320.86,345.47 321.24,345.07 321.62,344.68 322,344.3 322.38,343.93 322.76,343.57 323.14,343.22 323.52,342.89 323.9,342.57 324.28,342.27 324.66,341.98 325.04,341.72 325.42,341.47 325.8,341.25 326.18,341.05 326.56,340.88 326.94,340.72 327.31,340.56 327.69,340.41 328.07,340.26 328.45,340.11 328.83,339.96 329.21,339.82 329.59,339.69 329.97,339.55 330.35,339.42 330.73,339.3 331.11,339.18 331.49,339.06 331.87,338.95 332.25,338.84 332.63,338.74 333.01,338.64 333.39,338.54 333.77,338.45 334.15,338.37 334.53,338.29 334.91,338.21 335.28,338.15 335.66,338.08 336.04,338.02 336.42,337.97 336.8,337.92 337.18,337.88 337.56,337.85 337.94,337.81 338.32,337.79 338.7,337.76 339.08,337.73 339.46,337.7 339.84,337.67 340.22,337.64 340.6,337.61 340.98,337.58 341.36,337.56 341.74,337.53 342.12,337.5 342.5,337.47 342.88,337.45 343.25,337.42 343.63,337.39 344.01,337.37 344.39,337.34 344.77,337.32 345.15,337.29 345.53,337.26 345.91,337.24 346.29,337.21 346.67,337.19 347.05,337.16 347.43,337.14 347.81,337.11 348.19,337.09 348.57,337.07 348.95,337.04 349.33,337.02 349.71,336.99 350.09,336.97 350.47,336.95 350.85,336.93 351.23,336.9 351.6,336.88 351.98,336.86 352.36,336.84 352.74,336.81 353.12,336.79 353.5,336.77 353.88,336.75 354.26,336.73 354.64,336.71 355.02,336.69 355.4,336.67 355.78,336.65 356.16,336.63 356.54,336.61 356.92,336.59 357.3,336.57 357.68,336.55 358.06,336.53 358.44,336.51 358.82,336.49 359.2,336.47 359.57,336.45 359.95,336.43 360.33,336.42 360.71,336.4 361.09,336.38 361.47,336.36 361.85,336.34 362.23,336.33 362.61,336.31 362.99,336.29 363.37,336.28 363.75,336.26 364.13,336.24 364.51,336.23 364.89,336.21 365.27,336.2 365.65,336.18 366.03,336.16 366.41,336.15 366.79,336.13 367.17,336.12 367.54,336.1 367.92,336.09 368.3,336.08 368.68,336.06 369.06,336.05 369.44,336.03 369.82,336.02 370.2,336.01 370.58,335.99 370.96,335.98 371.34,335.97 371.72,335.95 372.1,335.94 372.48,335.93 372.86,335.92 373.24,335.9 373.62,335.89 374,335.88 374.38,335.87 374.76,335.86 375.14,335.85 375.51,335.83 375.89,335.82 376.27,335.81 376.65,335.8 377.03,335.79 377.41,335.78 377.79,335.77 378.17,335.76 378.55,335.75 378.93,335.74 379.31,335.73 379.69,335.72 380.07,335.71 380.45,335.7 380.83,335.69 381.21,335.69 381.59,335.68 381.97,335.67 382.35,335.66 382.73,335.65 383.11,335.64 383.48,335.64 383.86,335.63 384.24,335.62 384.62,335.61 385,335.61 385.38,335.6 385.76,335.59 386.14,335.59 386.52,335.58 386.9,335.57 387.28,335.57 387.66,335.56 388.04,335.56 388.42,335.55 388.8,335.54 389.18,335.54 389.56,335.53 389.94,335.53 390.32,335.52 390.7,335.52 391.08,335.51 391.46,335.51 391.83,335.5 392.21,335.5 392.59,335.5 392.97,335.49 393.35,335.49 393.73,335.48 394.11,335.48 394.49,335.48 394.87,335.47 395.25,335.47 395.63,335.47 396.01,335.46 396.39,335.46 396.77,335.46 397.15,335.46 397.53,335.45 397.91,335.45 398.29,335.45 398.67,335.45 399.05,335.45 399.43,335.45 399.8,335.44 400.18,335.44 400.56,335.44 400.94,335.44 401.32,335.44 401.7,335.44 402.08,335.44 402.46,335.44 402.84,335.44 403.22,335.44 403.6,335.44" fill="none" stroke="#3a7aa6" stroke-width="0.7" stroke-linejoin="round"/>
<polyline points="252.17,372.4 252.55,372.4 252.93,372.4 253.31,372.4 253.69,372.4 254.07,372.4 254.45,372.4 254.82,372.4 255.2,372.4 255.58,372.4 255.96,372.4 256.34,372.4 256.72,372.4 257.1,372.4 257.48,372.4 257.86,372.4 258.24,372.4 258.62,372.4 259,372.4 259.38,372.4 259.76,372.4 260.14,372.4 260.52,372.4 260.9,372.4 261.28,372.4 261.66,372.4 262.04,372.4 262.42,372.4 262.79,372.4 263.17,372.4 263.55,372.4 263.93,372.4 264.31,372.4 264.69,372.4 265.07,372.4 265.45,372.4 265.83,372.4 266.21,372.4 266.59,372.4 266.97,372.4 267.35,372.4 267.73,372.4 268.11,372.4 268.49,372.4 268.87,372.4 269.25,372.4 269.63,372.4 270.01,372.4 270.39,372.4 270.76,372.4 271.14,372.4 271.52,372.4 271.9,372.4 272.28,372.4 272.66,372.4 273.04,372.4 273.42,372.4 273.8,372.4 274.18,372.4 274.56,372.4 274.94,372.4 275.32,372.4 275.7,372.4 276.08,372.4 276.46,372.4 276.84,372.4 277.22,372.4 277.6,372.4 277.98,372.4 278.36,372.4 278.74,372.4 279.11,372.4 279.49,372.4 279.87,372.4 280.25,372.4 280.63,372.4 281.01,372.4 281.39,372.4 281.77,372.4 282.15,372.4 282.53,372.4 282.91,372.4 283.29,372.4 283.67,372.4 284.05,372.4 284.43,372.4 284.81,372.4 285.19,372.4 285.57,372.4 285.95,372.4 286.33,372.4 286.71,372.4 287.08,372.4 287.46,372.4 287.84,372.4 288.22,372.4 288.6,372.4 288.98,372.4 289.36,372.4 289.74,372.4 290.12,372.4 290.5,372.4 290.88,372.4 291.26,372.4 291.64,372.4 292.02,372.4 292.4,372.4 292.78,372.4 293.16,372.4 293.54,372.4 293.92,372.4 294.3,372.4 294.68,372.4 295.05,372.4 295.43,372.4 295.81,372.4 296.19,372.4 296.57,372.4 296.95,372.4 297.33,372.4 297.71,372.4 298.09,372.4 298.47,372.4 298.85,372.4 299.23,372.4 299.61,372.4 299.99,372.4 300.37,372.4 300.75,372.4 301.13,372.4 301.51,372.4 301.89,372.4 302.27,372.4 302.65,372.4 303.02,372.4 303.4,372.4 303.78,372.4 304.16,372.4 304.54,372.4 304.92,372.4 305.3,372.4 305.68,372.4 306.06,372.4 306.44,372.4 306.82,372.4 307.2,372.4 307.58,372.4 307.96,372.4 308.34,372.4 308.72,372.39 309.1,372.37 309.48,372.34 309.86,372.31 310.24,372.27 310.62,372.22 310.99,372.16 311.37,372.1 311.75,372.03 312.13,371.95 312.51,371.87 312.89,371.79 313.27,371.7 313.65,371.6 314.03,371.5 314.41,371.4 314.79,371.29 315.17,371.14 315.55,370.95 315.93,370.7 316.31,370.41 316.69,370.08 317.07,369.71 317.45,369.31 317.83,368.89 318.21,368.44 318.59,367.97 318.97,367.49 319.34,367 319.72,366.51 320.1,366.01 320.48,365.52 320.86,365.03 321.24,364.55 321.62,364.09 322,363.65 322.38,363.21 322.76,362.74 323.14,362.26 323.52,361.76 323.9,361.24 324.28,360.72 324.66,360.19 325.04,359.66 325.42,359.13 325.8,358.6 326.18,358.07 326.56,357.56 326.94,357.06 327.31,356.57 327.69,356.1 328.07,355.65 328.45,355.23 328.83,354.83 329.21,354.46 329.59,354.13 329.97,353.83 330.35,353.55 330.73,353.27 331.11,352.99 331.49,352.72 331.87,352.46 332.25,352.2 332.63,351.96 333.01,351.71 333.39,351.48 333.77,351.26 334.15,351.05 334.53,350.84 334.91,350.65 335.28,350.46 335.66,350.29 336.04,350.13 336.42,349.98 336.8,349.85 337.18,349.73 337.56,349.62 337.94,349.53 338.32,349.43 338.7,349.34 339.08,349.26 339.46,349.17 339.84,349.09 340.22,349.01 340.6,348.93 340.98,348.85 341.36,348.77 341.74,348.7 342.12,348.63 342.5,348.56 342.88,348.49 343.25,348.43 343.63,348.36 344.01,348.3 344.39,348.24 344.77,348.19 345.15,348.13 345.53,348.08 345.91,348.03 346.29,347.99 346.67,347.94 347.05,347.9 347.43,347.86 347.81,347.82 348.19,347.79 348.57,347.76 348.95,347.73 349.33,347.7 349.71,347.67 350.09,347.65 350.47,347.63 350.85,347.62 351.23,347.6 351.6,347.59 351.98,347.57 352.36,347.56 352.74,347.54 353.12,347.53 353.5,347.52 353.88,347.5 354.26,347.49 354.64,347.47 355.02,347.46 355.4,347.45 355.78,347.43 356.16,347.42 356.54,347.41 356.92,347.39 357.3,347.38 357.68,347.37 358.06,347.36 358.44,347.34 358.82,347.33 359.2,347.32 359.57,347.31 359.95,347.29 360.33,347.28 360.71,347.27 361.09,347.26 361.47,347.25 361.85,347.24 362.23,347.22 362.61,347.21 362.99,347.2 363.37,347.19 363.75,347.18 364.13,347.17 364.51,347.16 364.89,347.15 365.27,347.14 365.65,347.13 366.03,347.12 366.41,347.11 366.79,347.1 367.17,347.09 367.54,347.08 367.92,347.07 368.3,347.06 368.68,347.05 369.06,347.04 369.44,347.03 369.82,347.02 370.2,347.01 370.58,347 370.96,347 371.34,346.99 371.72,346.98 372.1,346.97 372.48,346.96 372.86,346.95 373.24,346.95 373.62,346.94 374,346.93 374.38,346.92 374.76,346.91 375.14,346.91 375.51,346.9 375.89,346.89 376.27,346.88 376.65,346.88 377.03,346.87 377.41,346.86 377.79,346.86 378.17,346.85 378.55,346.84 378.93,346.84 379.31,346.83 379.69,346.82 380.07,346.82 380.45,346.81 380.83,346.81 381.21,346.8 381.59,346.8 381.97,346.79 382.35,346.78 382.73,346.78 383.11,346.77 383.48,346.77 383.86,346.76 384.24,346.76 384.62,346.75 385,346.75 385.38,346.74 385.76,346.74 386.14,346.73 386.52,346.73 386.9,346.73 387.28,346.72 387.66,346.72 388.04,346.71 388.42,346.71 388.8,346.71 389.18,346.7 389.56,346.7 389.94,346.7 390.32,346.69 390.7,346.69 391.08,346.69 391.46,346.68 391.83,346.68 392.21,346.68 392.59,346.67 392.97,346.67 393.35,346.67 393.73,346.67 394.11,346.66 394.49,346.66 394.87,346.66 395.25,346.66 395.63,346.66 396.01,346.65 396.39,346.65 396.77,346.65 397.15,346.65 397.53,346.65 397.91,346.65 398.29,346.64 398.67,346.64 399.05,346.64 399.43,346.64 399.8,346.64 400.18,346.64 400.56,346.64 400.94,346.64 401.32,346.64 401.7,346.64 402.08,346.64 402.46,346.64 402.84,346.63 403.22,346.63 403.6,346.63" fill="none" stroke="#3a7aa6" stroke-width="0.7" stroke-linejoin="round"/>
<polyline points="252.17,372.4 252.55,372.4 252.93,372.4 253.31,372.4 253.69,372.4 254.07,372.4 254.45,372.4 254.82,372.4 255.2,372.4 255.58,372.4 255.96,372.4 256.34,372.4 256.72,372.4 257.1,372.4 257.48,372.4 257.86,372.4 258.24,372.4 258.62,372.4 259,372.4 259.38,372.4 259.76,372.4 260.14,372.4 260.52,372.4 260.9,372.4 261.28,372.4 261.66,372.4 262.04,372.4 262.42,372.4 262.79,372.4 263.17,372.4 263.55,372.4 263.93,372.4 264.31,372.4 264.69,372.4 265.07,372.4 265.45,372.4 265.83,372.4 266.21,372.4 266.59,372.4 266.97,372.4 267.35,372.4 267.73,372.4 268.11,372.4 268.49,372.4 268.87,372.4 269.25,372.4 269.63,372.4 270.01,372.4 270.39,372.4 270.76,372.4 271.14,372.4 271.52,372.4 271.9,372.4 272.28,372.4 272.66,372.4 273.04,372.4 273.42,372.4 273.8,372.4 274.18,372.4 274.56,372.4 274.94,372.4 275.32,372.4 275.7,372.4 276.08,372.4 276.46,372.4 276.84,372.4 277.22,372.4 277.6,372.4 277.98,372.4 278.36,372.4 278.74,372.4 279.11,372.4 279.49,372.4 279.87,372.4 280.25,372.4 280.63,372.4 281.01,372.4 281.39,372.4 281.77,372.4 282.15,372.4 282.53,372.4 282.91,372.4 283.29,372.4 283.67,372.4 284.05,372.4 284.43,372.4 284.81,372.4 285.19,372.4 285.57,372.4 285.95,372.4 286.33,372.4 286.71,372.4 287.08,372.4 287.46,372.4 287.84,372.4 288.22,372.4 288.6,372.4 288.98,372.4 289.36,372.4 289.74,372.4 290.12,372.4 290.5,372.4 290.88,372.4 291.26,372.4 291.64,372.4 292.02,372.4 292.4,372.4 292.78,372.4 293.16,372.4 293.54,372.4 293.92,372.4 294.3,372.4 294.68,372.4 295.05,372.4 295.43,372.4 295.81,372.4 296.19,372.4 296.57,372.4 296.95,372.4 297.33,372.4 297.71,372.4 298.09,372.4 298.47,372.4 298.85,372.4 299.23,372.4 299.61,372.4 299.99,372.4 300.37,372.4 300.75,372.4 301.13,372.4 301.51,372.4 301.89,372.4 302.27,372.4 302.65,372.4 303.02,372.4 303.4,372.4 303.78,372.4 304.16,372.4 304.54,372.4 304.92,372.4 305.3,372.4 305.68,372.4 306.06,372.4 306.44,372.4 306.82,372.4 307.2,372.4 307.58,372.4 307.96,372.4 308.34,372.4 308.72,372.4 309.1,372.4 309.48,372.4 309.86,372.4 310.24,372.4 310.62,372.4 310.99,372.4 311.37,372.4 311.75,372.4 312.13,372.38 312.51,372.36 312.89,372.33 313.27,372.29 313.65,372.25 314.03,372.19 314.41,372.13 314.79,372.07 315.17,371.99 315.55,371.92 315.93,371.83 316.31,371.75 316.69,371.65 317.07,371.56 317.45,371.46 317.83,371.36 318.21,371.25 318.59,371.1 318.97,370.91 319.34,370.68 319.72,370.41 320.1,370.1 320.48,369.77 320.86,369.41 321.24,369.02 321.62,368.61 322,368.19 322.38,367.75 322.76,367.29 323.14,366.83 323.52,366.36 323.9,365.89 324.28,365.41 324.66,364.95 325.04,364.48 325.42,364.03 325.8,363.59 326.18,363.17 326.56,362.76 326.94,362.37 327.31,362.01 327.69,361.68 328.07,361.38 328.45,361.08 328.83,360.77 329.21,360.47 329.59,360.16 329.97,359.86 330.35,359.56 330.73,359.26 331.11,358.96 331.49,358.67 331.87,358.39 332.25,358.1 332.63,357.83 333.01,357.56 333.39,357.29 333.77,357.04 334.15,356.79 334.53,356.55 334.91,356.33 335.28,356.11 335.66,355.9 336.04,355.71 336.42,355.53 336.8,355.36 337.18,355.21 337.56,355.07 337.94,354.95 338.32,354.83 338.7,354.71 339.08,354.59 339.46,354.48 339.84,354.36 340.22,354.25 340.6,354.14 340.98,354.04 341.36,353.93 341.74,353.83 342.12,353.73 342.5,353.63 342.88,353.54 343.25,353.45 343.63,353.36 344.01,353.27 344.39,353.19 344.77,353.11 345.15,353.03 345.53,352.96 345.91,352.89 346.29,352.82 346.67,352.76 347.05,352.7 347.43,352.64 347.81,352.59 348.19,352.54 348.57,352.49 348.95,352.45 349.33,352.41 349.71,352.37 350.09,352.34 350.47,352.32 350.85,352.29 351.23,352.27 351.6,352.25 351.98,352.23 352.36,352.21 352.74,352.19 353.12,352.18 353.5,352.16 353.88,352.14 354.26,352.12 354.64,352.1 355.02,352.08 355.4,352.06 355.78,352.05 356.16,352.03 356.54,352.01 356.92,351.99 357.3,351.98 357.68,351.96 358.06,351.94 358.44,351.93 358.82,351.91 359.2,351.89 359.57,351.88 359.95,351.86 360.33,351.84 360.71,351.83 361.09,351.81 361.47,351.8 361.85,351.78 362.23,351.77 362.61,351.75 362.99,351.74 363.37,351.72 363.75,351.71 364.13,351.69 364.51,351.68 364.89,351.67 365.27,351.65 365.65,351.64 366.03,351.62 366.41,351.61 366.79,351.6 367.17,351.58 367.54,351.57 367.92,351.56 368.3,351.55 368.68,351.53 369.06,351.52 369.44,351.51 369.82,351.5 370.2,351.49 370.58,351.47 370.96,351.46 371.34,351.45 371.72,351.44 372.1,351.43 372.48,351.42 372.86,351.41 373.24,351.39 373.62,351.38 374,351.37 374.38,351.36 374.76,351.35 375.14,351.34 375.51,351.33 375.89,351.32 376.27,351.31 376.65,351.3 377.03,351.3 377.41,351.29 377.79,351.28 378.17,351.27 378.55,351.26 378.93,351.25 379.31,351.24 379.69,351.23 380.07,351.23 380.45,351.22 380.83,351.21 381.21,351.2 381.59,351.2 381.97,351.19 382.35,351.18 382.73,351.17 383.11,351.17 383.48,351.16 383.86,351.15 384.24,351.15 384.62,351.14 385,351.13 385.38,351.13 385.76,351.12 386.14,351.12 386.52,351.11 386.9,351.1 387.28,351.1 387.66,351.09 388.04,351.09 388.42,351.08 388.8,351.08 389.18,351.07 389.56,351.07 389.94,351.06 390.32,351.06 390.7,351.05 391.08,351.05 391.46,351.05 391.83,351.04 392.21,351.04 392.59,351.03 392.97,351.03 393.35,351.03 393.73,351.02 394.11,351.02 394.49,351.02 394.87,351.02 395.25,351.01 395.63,351.01 396.01,351.01 396.39,351.01 396.77,351 397.15,351 397.53,351 397.91,351 398.29,351 398.67,350.99 399.05,350.99 399.43,350.99 399.8,350.99 400.18,350.99 400.56,350.99 400.94,350.99 401.32,350.99 401.7,350.98 402.08,350.98 402.46,350.98 402.84,350.98 403.22,350.98 403.6,350.98" fill="none" stroke="#3a7aa6" stroke-width="0.7" stroke-linejoin="round"/>
</g>
<rect x="239" y="209.5" width="164.9" height="163" fill="none" stroke="#5a5a5a" stroke-width="0.9"/>
<line x1="239" y1="372.5" x2="239" y2="374.5" stroke="#5a5a5a" stroke-width="0.8"/>
<text x="239" y="384" font-size="9.8" text-anchor="middle" textLength="5.73" lengthAdjust="spacingAndGlyphs">0</text>
<line x1="271.92" y1="372.5" x2="271.92" y2="374.5" stroke="#5a5a5a" stroke-width="0.8"/>
<text x="271.92" y="384" font-size="9.8" text-anchor="middle" textLength="5.73" lengthAdjust="spacingAndGlyphs">5</text>
<line x1="304.84" y1="372.5" x2="304.84" y2="374.5" stroke="#5a5a5a" stroke-width="0.8"/>
<text x="304.84" y="384" font-size="9.8" text-anchor="middle" textLength="11.45" lengthAdjust="spacingAndGlyphs">10</text>
<line x1="337.76" y1="372.5" x2="337.76" y2="374.5" stroke="#5a5a5a" stroke-width="0.8"/>
<text x="337.76" y="384" font-size="9.8" text-anchor="middle" textLength="11.45" lengthAdjust="spacingAndGlyphs">15</text>
<line x1="370.68" y1="372.5" x2="370.68" y2="374.5" stroke="#5a5a5a" stroke-width="0.8"/>
<text x="370.68" y="384" font-size="9.8" text-anchor="middle" textLength="11.45" lengthAdjust="spacingAndGlyphs">20</text>
<line x1="403.6" y1="372.5" x2="403.6" y2="374.5" stroke="#5a5a5a" stroke-width="0.8"/>
<text x="403.6" y="384" font-size="9.8" text-anchor="middle" textLength="11.45" lengthAdjust="spacingAndGlyphs">25</text>
<line x1="237" y1="372.4" x2="239" y2="372.4" stroke="#5a5a5a" stroke-width="0.8"/>
<text x="236.4" y="375.9" font-size="9.8" text-anchor="end" textLength="14.31" lengthAdjust="spacingAndGlyphs">0.0</text>
<line x1="237" y1="350.66" x2="239" y2="350.66" stroke="#5a5a5a" stroke-width="0.8"/>
<text x="236.4" y="354.16" font-size="9.8" text-anchor="end" textLength="14.31" lengthAdjust="spacingAndGlyphs">0.2</text>
<line x1="237" y1="328.91" x2="239" y2="328.91" stroke="#5a5a5a" stroke-width="0.8"/>
<text x="236.4" y="332.41" font-size="9.8" text-anchor="end" textLength="14.31" lengthAdjust="spacingAndGlyphs">0.4</text>
<line x1="237" y1="307.17" x2="239" y2="307.17" stroke="#5a5a5a" stroke-width="0.8"/>
<text x="236.4" y="310.67" font-size="9.8" text-anchor="end" textLength="14.31" lengthAdjust="spacingAndGlyphs">0.6</text>
<line x1="237" y1="285.43" x2="239" y2="285.43" stroke="#5a5a5a" stroke-width="0.8"/>
<text x="236.4" y="288.93" font-size="9.8" text-anchor="end" textLength="14.31" lengthAdjust="spacingAndGlyphs">0.8</text>
<line x1="237" y1="263.69" x2="239" y2="263.69" stroke="#5a5a5a" stroke-width="0.8"/>
<text x="236.4" y="267.19" font-size="9.8" text-anchor="end" textLength="14.31" lengthAdjust="spacingAndGlyphs">1.0</text>
<line x1="237" y1="241.94" x2="239" y2="241.94" stroke="#5a5a5a" stroke-width="0.8"/>
<text x="236.4" y="245.44" font-size="9.8" text-anchor="end" textLength="14.31" lengthAdjust="spacingAndGlyphs">1.2</text>
<line x1="237" y1="220.2" x2="239" y2="220.2" stroke="#5a5a5a" stroke-width="0.8"/>
<text x="236.4" y="223.7" font-size="9.8" text-anchor="end" textLength="14.31" lengthAdjust="spacingAndGlyphs">1.4</text>
<text x="321.2" y="393.3" font-size="9.8" text-anchor="middle" textLength="74.5" lengthAdjust="spacingAndGlyphs">Temperature (K)</text>
<text x="218" y="287.3" font-size="9.4" text-anchor="middle" textLength="44.5" lengthAdjust="spacingAndGlyphs" transform="rotate(-90 218 287.3)"><tspan font-style="italic">ρ</tspan> (mΩ.cm)</text>
<text x="244.6" y="219" font-size="9.6" fill="#3c64a8" stroke="none" textLength="62.8" lengthAdjust="spacingAndGlyphs"><tspan font-style="italic">In situ</tspan> reduction</text>
<text x="207.9" y="216.2" font-size="13" textLength="11.5" lengthAdjust="spacingAndGlyphs">e)</text>
<rect x="454.5" y="207.7" width="61.7" height="164.3" fill="#ebf1f8"/>
<line x1="516.2" y1="207.7" x2="516.2" y2="372" stroke="#666" stroke-width="1" stroke-dasharray="3.6 2.2"/>
<path d="M470.6,279.8 L466.4,287.15 L474.8,287.15 Z" fill="#8cc47a"/>
<path d="M477.7,217.3 L473.5,224.65 L481.9,224.65 Z" fill="#e87b34"/>
<path d="M465.3,239.4 L469.3,243.4 L465.3,247.4 L461.3,243.4 Z" fill="#e08c2c"/>
<rect x="481.7" y="258.3" width="6.8" height="6.8" fill="#c77bc8"/>
<rect x="481.7" y="308.2" width="6.8" height="6.8" fill="#cfd45a"/>
<rect x="478.2" y="339.2" width="6.8" height="6.8" fill="#95cb7e"/>
<line x1="464.11" y1="347.18" x2="464.11" y2="327.22" stroke="#d9646c" stroke-width="1"/>
<line x1="462.31" y1="347.18" x2="465.91" y2="347.18" stroke="#d9646c" stroke-width="1"/>
<line x1="462.31" y1="327.22" x2="465.91" y2="327.22" stroke="#d9646c" stroke-width="1"/>
<circle cx="464.11" cy="337.2" r="3" fill="#d7404a"/>
<line x1="467.01" y1="325.58" x2="467.01" y2="305.62" stroke="#d9646c" stroke-width="1"/>
<line x1="465.21" y1="325.58" x2="468.81" y2="325.58" stroke="#d9646c" stroke-width="1"/>
<line x1="465.21" y1="305.62" x2="468.81" y2="305.62" stroke="#d9646c" stroke-width="1"/>
<circle cx="467.01" cy="315.6" r="3" fill="#d7404a"/>
<line x1="472.12" y1="326.38" x2="472.12" y2="306.42" stroke="#d9646c" stroke-width="1"/>
<line x1="470.32" y1="326.38" x2="473.92" y2="326.38" stroke="#d9646c" stroke-width="1"/>
<line x1="470.32" y1="306.42" x2="473.92" y2="306.42" stroke="#d9646c" stroke-width="1"/>
<circle cx="472.12" cy="316.4" r="3" fill="#d7404a"/>
<line x1="496.45" y1="342.27" x2="496.45" y2="322.32" stroke="#d9646c" stroke-width="1"/>
<line x1="494.65" y1="342.27" x2="498.25" y2="342.27" stroke="#d9646c" stroke-width="1"/>
<line x1="494.65" y1="322.32" x2="498.25" y2="322.32" stroke="#d9646c" stroke-width="1"/>
<circle cx="496.45" cy="332.3" r="3" fill="#d7404a"/>
<line x1="497.25" y1="365.18" x2="497.25" y2="345.22" stroke="#d9646c" stroke-width="1"/>
<line x1="495.45" y1="365.18" x2="499.05" y2="365.18" stroke="#d9646c" stroke-width="1"/>
<line x1="495.45" y1="345.22" x2="499.05" y2="345.22" stroke="#d9646c" stroke-width="1"/>
<circle cx="497.25" cy="355.2" r="3" fill="#d7404a"/>
<line x1="509.97" y1="366.78" x2="509.97" y2="346.82" stroke="#d9646c" stroke-width="1"/>
<line x1="508.17" y1="366.78" x2="511.77" y2="366.78" stroke="#d9646c" stroke-width="1"/>
<line x1="508.17" y1="346.82" x2="511.77" y2="346.82" stroke="#d9646c" stroke-width="1"/>
<circle cx="509.97" cy="356.8" r="3" fill="#d7404a"/>
<line x1="513.98" y1="347.18" x2="513.98" y2="327.22" stroke="#d9646c" stroke-width="1"/>
<line x1="512.18" y1="347.18" x2="515.78" y2="347.18" stroke="#d9646c" stroke-width="1"/>
<line x1="512.18" y1="327.22" x2="515.78" y2="327.22" stroke="#d9646c" stroke-width="1"/>
<circle cx="513.98" cy="337.2" r="3" fill="#d7404a"/>
<line x1="637.04" y1="338.27" x2="637.04" y2="318.32" stroke="#d9646c" stroke-width="1"/>
<line x1="635.24" y1="338.27" x2="638.84" y2="338.27" stroke="#d9646c" stroke-width="1"/>
<line x1="635.24" y1="318.32" x2="638.84" y2="318.32" stroke="#d9646c" stroke-width="1"/>
<circle cx="637.04" cy="328.3" r="3" fill="#d7404a"/>
<line x1="665.38" y1="315.38" x2="665.38" y2="295.42" stroke="#d9646c" stroke-width="1"/>
<line x1="663.58" y1="315.38" x2="667.18" y2="315.38" stroke="#d9646c" stroke-width="1"/>
<line x1="663.58" y1="295.42" x2="667.18" y2="295.42" stroke="#d9646c" stroke-width="1"/>
<circle cx="665.38" cy="305.4" r="3" fill="#d7404a"/>
<line x1="464.31" y1="312.08" x2="464.31" y2="292.12" stroke="#78aad6" stroke-width="1"/>
<line x1="462.51" y1="312.08" x2="466.11" y2="312.08" stroke="#78aad6" stroke-width="1"/>
<line x1="462.51" y1="292.12" x2="466.11" y2="292.12" stroke="#78aad6" stroke-width="1"/>
<circle cx="464.31" cy="302.1" r="3" fill="#5e9cd0"/>
<line x1="469.52" y1="321.38" x2="469.52" y2="303.42" stroke="#78aad6" stroke-width="1"/>
<line x1="467.72" y1="321.38" x2="471.32" y2="321.38" stroke="#78aad6" stroke-width="1"/>
<line x1="467.72" y1="303.42" x2="471.32" y2="303.42" stroke="#78aad6" stroke-width="1"/>
<circle cx="469.52" cy="312.4" r="3" fill="#5e9cd0"/>
<line x1="475.62" y1="322.38" x2="475.62" y2="302.42" stroke="#78aad6" stroke-width="1"/>
<line x1="473.82" y1="322.38" x2="477.42" y2="322.38" stroke="#78aad6" stroke-width="1"/>
<line x1="473.82" y1="302.42" x2="477.42" y2="302.42" stroke="#78aad6" stroke-width="1"/>
<circle cx="475.62" cy="312.4" r="3" fill="#5e9cd0"/>
<line x1="477.53" y1="347.18" x2="477.53" y2="327.22" stroke="#78aad6" stroke-width="1"/>
<line x1="475.73" y1="347.18" x2="479.33" y2="347.18" stroke="#78aad6" stroke-width="1"/>
<line x1="475.73" y1="327.22" x2="479.33" y2="327.22" stroke="#78aad6" stroke-width="1"/>
<circle cx="477.53" cy="337.2" r="3" fill="#5e9cd0"/>
<line x1="487.84" y1="342.27" x2="487.84" y2="322.32" stroke="#78aad6" stroke-width="1"/>
<line x1="486.04" y1="342.27" x2="489.64" y2="342.27" stroke="#78aad6" stroke-width="1"/>
<line x1="486.04" y1="322.32" x2="489.64" y2="322.32" stroke="#78aad6" stroke-width="1"/>
<circle cx="487.84" cy="332.3" r="3" fill="#5e9cd0"/>
<line x1="503.46" y1="354.37" x2="503.46" y2="334.42" stroke="#78aad6" stroke-width="1"/>
<line x1="501.66" y1="354.37" x2="505.26" y2="354.37" stroke="#78aad6" stroke-width="1"/>
<line x1="501.66" y1="334.42" x2="505.26" y2="334.42" stroke="#78aad6" stroke-width="1"/>
<circle cx="503.46" cy="344.4" r="3" fill="#5e9cd0"/>
<line x1="507.57" y1="342.27" x2="507.57" y2="322.32" stroke="#78aad6" stroke-width="1"/>
<line x1="505.77" y1="342.27" x2="509.37" y2="342.27" stroke="#78aad6" stroke-width="1"/>
<line x1="505.77" y1="322.32" x2="509.37" y2="322.32" stroke="#78aad6" stroke-width="1"/>
<circle cx="507.57" cy="332.3" r="3" fill="#5e9cd0"/>
<line x1="469.22" y1="271.38" x2="469.22" y2="251.42" stroke="#78aad6" stroke-width="1"/>
<line x1="467.42" y1="271.38" x2="471.02" y2="271.38" stroke="#78aad6" stroke-width="1"/>
<line x1="467.42" y1="251.42" x2="471.02" y2="251.42" stroke="#78aad6" stroke-width="1"/>
<circle cx="469.22" cy="261.4" r="3" fill="#5e9cd0"/>
<line x1="475.32" y1="277.17" x2="475.32" y2="257.22" stroke="#78aad6" stroke-width="1"/>
<line x1="473.52" y1="277.17" x2="477.12" y2="277.17" stroke="#78aad6" stroke-width="1"/>
<line x1="473.52" y1="257.22" x2="477.12" y2="257.22" stroke="#78aad6" stroke-width="1"/>
<circle cx="475.32" cy="267.2" r="3" fill="#5e9cd0"/>
<line x1="475.82" y1="294.38" x2="475.82" y2="274.42" stroke="#78aad6" stroke-width="1"/>
<line x1="474.02" y1="294.38" x2="477.62" y2="294.38" stroke="#78aad6" stroke-width="1"/>
<line x1="474.02" y1="274.42" x2="477.62" y2="274.42" stroke="#78aad6" stroke-width="1"/>
<circle cx="475.82" cy="284.4" r="3" fill="#5e9cd0"/>
<rect x="454.5" y="207.7" width="221.2" height="164.3" fill="none" stroke="#5a5a5a" stroke-width="0.9"/>
<line x1="457.4" y1="372" x2="457.4" y2="374" stroke="#5a5a5a" stroke-width="0.8"/>
<text x="457.4" y="383.4" font-size="9.8" text-anchor="middle" textLength="5.73" lengthAdjust="spacingAndGlyphs">0</text>
<line x1="494.9" y1="372" x2="494.9" y2="374" stroke="#5a5a5a" stroke-width="0.8"/>
<text x="494.9" y="383.4" font-size="9.8" text-anchor="middle" textLength="5.73" lengthAdjust="spacingAndGlyphs">1</text>
<line x1="532.4" y1="372" x2="532.4" y2="374" stroke="#5a5a5a" stroke-width="0.8"/>
<text x="532.4" y="383.4" font-size="9.8" text-anchor="middle" textLength="5.73" lengthAdjust="spacingAndGlyphs">2</text>
<line x1="569.9" y1="372" x2="569.9" y2="374" stroke="#5a5a5a" stroke-width="0.8"/>
<text x="569.9" y="383.4" font-size="9.8" text-anchor="middle" textLength="5.73" lengthAdjust="spacingAndGlyphs">3</text>
<line x1="607.4" y1="372" x2="607.4" y2="374" stroke="#5a5a5a" stroke-width="0.8"/>
<text x="607.4" y="383.4" font-size="9.8" text-anchor="middle" textLength="5.73" lengthAdjust="spacingAndGlyphs">4</text>
<line x1="644.9" y1="372" x2="644.9" y2="374" stroke="#5a5a5a" stroke-width="0.8"/>
<text x="644.9" y="383.4" font-size="9.8" text-anchor="middle" textLength="5.73" lengthAdjust="spacingAndGlyphs">5</text>
<line x1="452.5" y1="372.2" x2="454.5" y2="372.2" stroke="#5a5a5a" stroke-width="0.8"/>
<text x="450.8" y="375.7" font-size="9.8" text-anchor="end" textLength="5.73" lengthAdjust="spacingAndGlyphs">6</text>
<line x1="452.5" y1="352.25" x2="454.5" y2="352.25" stroke="#5a5a5a" stroke-width="0.8"/>
<text x="450.8" y="355.75" font-size="9.8" text-anchor="end" textLength="5.73" lengthAdjust="spacingAndGlyphs">8</text>
<line x1="452.5" y1="332.3" x2="454.5" y2="332.3" stroke="#5a5a5a" stroke-width="0.8"/>
<text x="450.8" y="335.8" font-size="9.8" text-anchor="end" textLength="11.45" lengthAdjust="spacingAndGlyphs">10</text>
<line x1="452.5" y1="312.35" x2="454.5" y2="312.35" stroke="#5a5a5a" stroke-width="0.8"/>
<text x="450.8" y="315.85" font-size="9.8" text-anchor="end" textLength="11.45" lengthAdjust="spacingAndGlyphs">12</text>
<line x1="452.5" y1="292.4" x2="454.5" y2="292.4" stroke="#5a5a5a" stroke-width="0.8"/>
<text x="450.8" y="295.9" font-size="9.8" text-anchor="end" textLength="11.45" lengthAdjust="spacingAndGlyphs">14</text>
<line x1="452.5" y1="272.45" x2="454.5" y2="272.45" stroke="#5a5a5a" stroke-width="0.8"/>
<text x="450.8" y="275.95" font-size="9.8" text-anchor="end" textLength="11.45" lengthAdjust="spacingAndGlyphs">16</text>
<line x1="452.5" y1="252.5" x2="454.5" y2="252.5" stroke="#5a5a5a" stroke-width="0.8"/>
<text x="450.8" y="256" font-size="9.8" text-anchor="end" textLength="11.45" lengthAdjust="spacingAndGlyphs">18</text>
<line x1="452.5" y1="232.55" x2="454.5" y2="232.55" stroke="#5a5a5a" stroke-width="0.8"/>
<text x="450.8" y="236.05" font-size="9.8" text-anchor="end" textLength="11.45" lengthAdjust="spacingAndGlyphs">20</text>
<line x1="452.5" y1="212.6" x2="454.5" y2="212.6" stroke="#5a5a5a" stroke-width="0.8"/>
<text x="450.8" y="216.1" font-size="9.8" text-anchor="end" textLength="11.45" lengthAdjust="spacingAndGlyphs">22</text>
<text x="564.2" y="392.4" font-size="9.8" text-anchor="middle" textLength="72" lengthAdjust="spacingAndGlyphs"><tspan font-style="italic">ρ</tspan>(20K) (<tspan font-style="italic">m</tspan>Ω.cm)</text>
<text x="435.4" y="289.3" font-size="9.8" text-anchor="middle" textLength="43.5" lengthAdjust="spacingAndGlyphs" transform="rotate(-90 435.4 289.3)"><tspan font-style="italic">T</tspan><tspan font-size="6.6" dy="1.8" font-style="italic">c, onset</tspan><tspan dy="-1.8">(</tspan><tspan font-style="italic">K</tspan>)</text>
<text x="423.5" y="216.3" font-size="13" textLength="9" lengthAdjust="spacingAndGlyphs">f)</text>
<text x="534.6" y="217.6" font-size="7.6" font-weight="bold" textLength="55.2" lengthAdjust="spacingAndGlyphs" text-decoration="underline">CaH<tspan font-size="5" dy="1.2">2</tspan><tspan dy="-1.2"> reduction:</tspan></text>
<line x1="534.6" y1="219.4" x2="589.8" y2="219.4" stroke="#262626" stroke-width="0.7"/>
<path d="M526.8,222.4 L522.8,229.4 L530.8,229.4 Z" fill="#76b85a"/>
<text x="534.6" y="230" font-size="7.6" textLength="52.7" lengthAdjust="spacingAndGlyphs">Nd<tspan font-size="5" dy="1.3">1-x</tspan><tspan dy="-1.3">Sr</tspan><tspan font-size="5" dy="1.3">x</tspan><tspan dy="-1.3">NiO</tspan><tspan font-size="5" dy="1.3">2</tspan><tspan dy="-1.3"> [4]</tspan></text>
<path d="M526.8,234.86 L522.8,241.86 L530.8,241.86 Z" fill="#e87b34"/>
<text x="534.6" y="242.46" font-size="7.6" textLength="57.2" lengthAdjust="spacingAndGlyphs">Nd<tspan font-size="5" dy="1.3">1-x</tspan><tspan dy="-1.3">Sr</tspan><tspan font-size="5" dy="1.3">x</tspan><tspan dy="-1.3">NiO</tspan><tspan font-size="5" dy="1.3">2</tspan><tspan dy="-1.3"> [16]</tspan></text>
<rect x="523.5" y="248.02" width="6.6" height="6.6" fill="#cfd45a"/>
<text x="534.6" y="254.92" font-size="7.6" textLength="52" lengthAdjust="spacingAndGlyphs">Pr<tspan font-size="5" dy="1.3">1-x</tspan><tspan dy="-1.3">Sr</tspan><tspan font-size="5" dy="1.3">x</tspan><tspan dy="-1.3">NiO</tspan><tspan font-size="5" dy="1.3">2</tspan><tspan dy="-1.3"> [5]</tspan></text>
<rect x="523.5" y="260.48" width="6.6" height="6.6" fill="#c77bc8"/>
<text x="534.6" y="267.38" font-size="7.6" textLength="52" lengthAdjust="spacingAndGlyphs">Pr<tspan font-size="5" dy="1.3">1-x</tspan><tspan dy="-1.3">Sr</tspan><tspan font-size="5" dy="1.3">x</tspan><tspan dy="-1.3">NiO</tspan><tspan font-size="5" dy="1.3">2</tspan><tspan dy="-1.3"> [7]</tspan></text>
<rect x="523.5" y="272.94" width="6.6" height="6.6" fill="#95cb7e"/>
<text x="534.6" y="279.84" font-size="7.6" textLength="56.5" lengthAdjust="spacingAndGlyphs">Pr<tspan font-size="5" dy="1.3">1-x</tspan><tspan dy="-1.3">Sr</tspan><tspan font-size="5" dy="1.3">x</tspan><tspan dy="-1.3">NiO</tspan><tspan font-size="5" dy="1.3">2</tspan><tspan dy="-1.3"> [43]</tspan></text>
<path d="M526.8,284.7 L530.8,288.7 L526.8,292.7 L522.8,288.7 Z" fill="#e08c2c"/>
<text x="534.6" y="292.3" font-size="7.6" textLength="56.5" lengthAdjust="spacingAndGlyphs">La<tspan font-size="5" dy="1.3">1-x</tspan><tspan dy="-1.3">Sr</tspan><tspan font-size="5" dy="1.3">x</tspan><tspan dy="-1.3">NiO</tspan><tspan font-size="5" dy="1.3">2</tspan><tspan dy="-1.3"> [10]</tspan></text>
<text x="609.5" y="217.6" font-size="7.6" font-weight="bold" textLength="45.3" lengthAdjust="spacingAndGlyphs">Al reduction:</text>
<line x1="609.5" y1="219.4" x2="654.8" y2="219.4" stroke="#262626" stroke-width="0.7"/>
<line x1="603.2" y1="224" x2="603.2" y2="234" stroke="#d9646c" stroke-width="1"/>
<line x1="601.4" y1="224" x2="605" y2="224" stroke="#d9646c" stroke-width="1"/>
<line x1="601.4" y1="234" x2="605" y2="234" stroke="#d9646c" stroke-width="1"/>
<circle cx="603.2" cy="229" r="3.3" fill="#d7404a"/>
<line x1="603.2" y1="236.6" x2="603.2" y2="246.6" stroke="#78aad6" stroke-width="1"/>
<line x1="601.4" y1="236.6" x2="605" y2="236.6" stroke="#78aad6" stroke-width="1"/>
<line x1="601.4" y1="246.6" x2="605" y2="246.6" stroke="#78aad6" stroke-width="1"/>
<circle cx="603.2" cy="241.6" r="3.3" fill="#5e9cd0"/>
<text x="609.5" y="231.8" font-size="7.6" textLength="62.2" lengthAdjust="spacingAndGlyphs"><tspan font-style="italic">Ex situ</tspan><tspan font-weight="bold"> (this work)</tspan></text>
<text x="609.5" y="244.3" font-size="7.6" textLength="61" lengthAdjust="spacingAndGlyphs"><tspan font-style="italic">In situ</tspan><tspan font-weight="bold"> (this work)</tspan></text>
</svg>
</body></html>
